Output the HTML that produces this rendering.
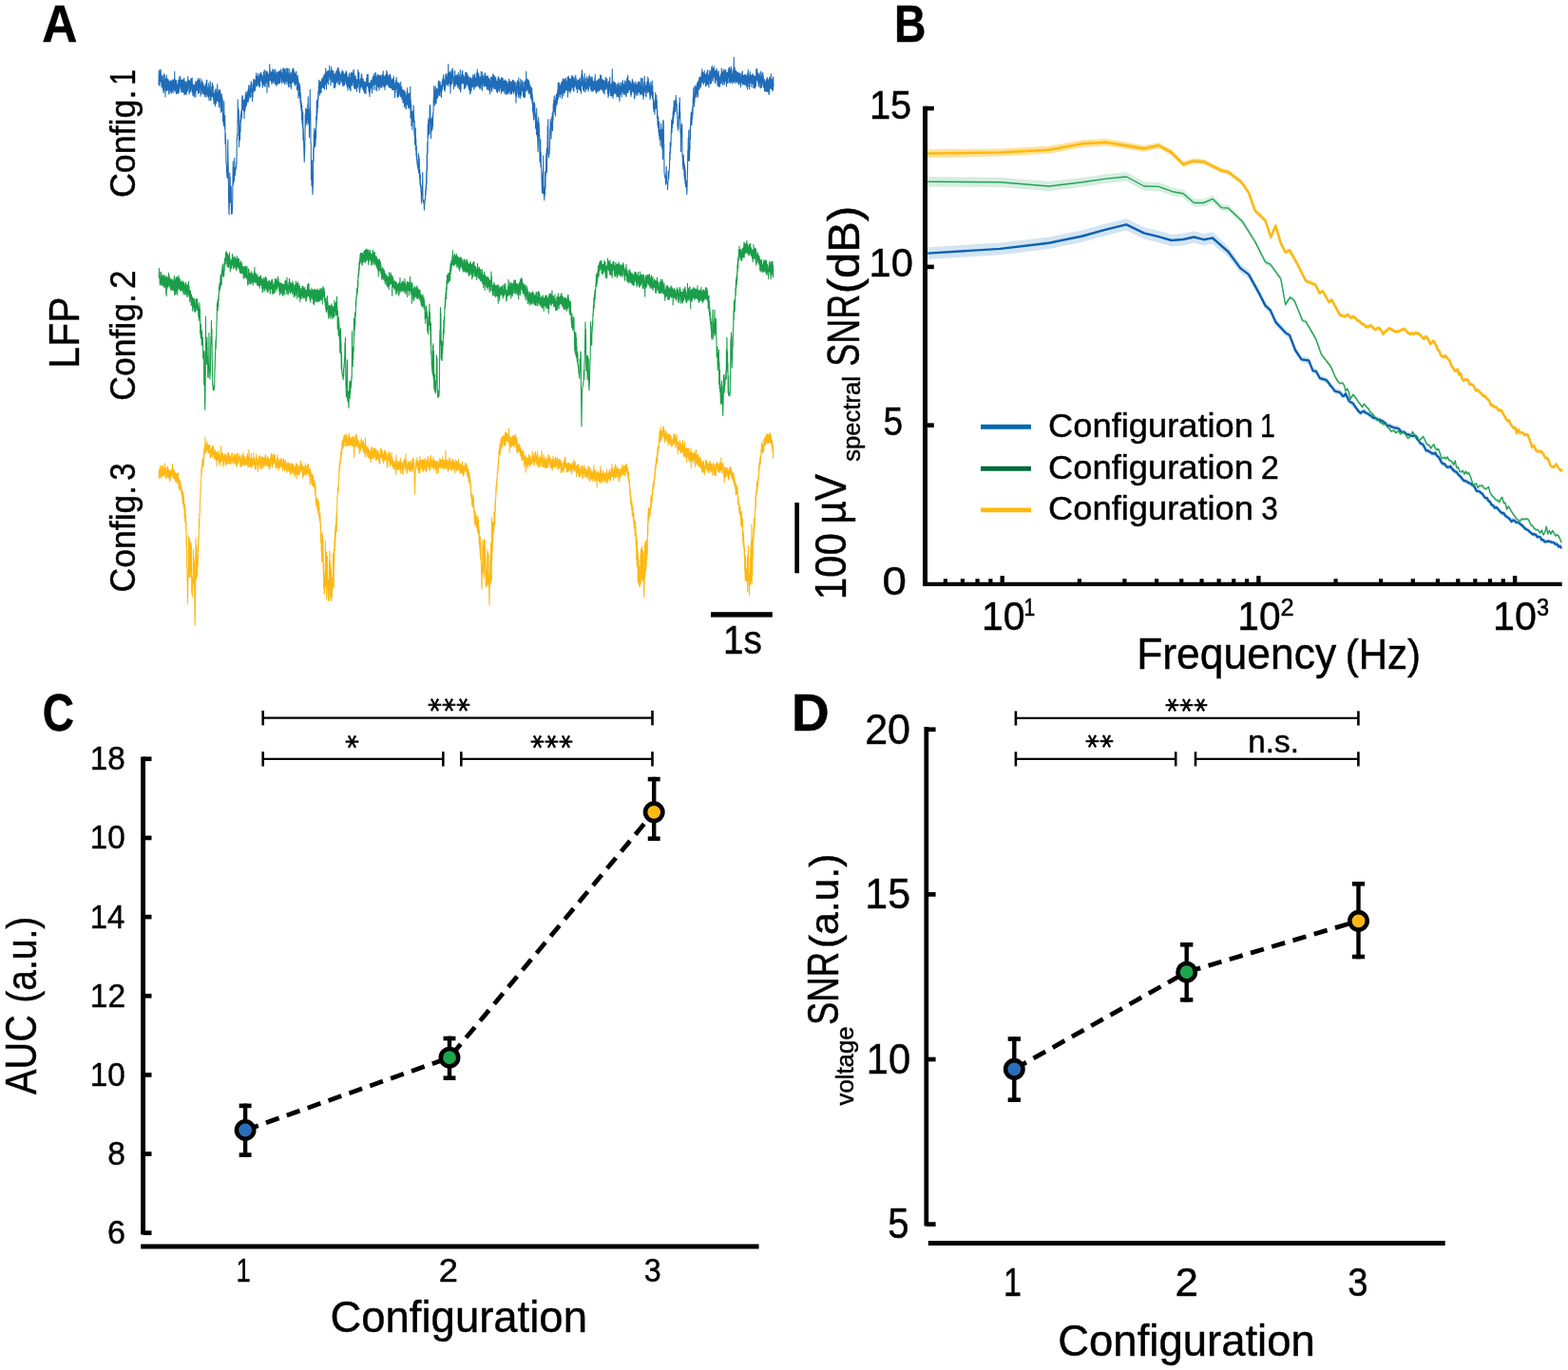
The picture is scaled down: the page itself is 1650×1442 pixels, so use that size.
<!DOCTYPE html>
<html lang="en">
<head>
<meta charset="utf-8">
<title>LFP configurations: traces, spectral SNR, AUC and voltage SNR</title>
<style>
html,body{margin:0;padding:0;background:#fff;}
body{width:1650px;height:1442px;overflow:hidden;}
svg{display:block;}
svg text{font-family:"Liberation Sans",sans-serif;fill:#000;stroke:#000;stroke-width:0.45px;}
svg text.b{font-weight:bold;}
svg text.dj{font-family:"DejaVu Sans","Liberation Sans",sans-serif;stroke-width:0.7px;}
</style>
</head>
<body>
<svg width="1650" height="1442" viewBox="0 0 1650 1442">
<rect x="0" y="0" width="1650" height="1442" fill="#ffffff"/>
<g id="panelA">
<text class="b" font-size="55.20" transform="translate(44.21,43.50) scale(0.9328,1)">A</text>
<text font-size="37.20" transform="translate(141.70,208.09) rotate(-90) scale(0.9625,1)">Config.</text>
<text font-size="36.30" transform="translate(141.70,89.41) rotate(-90) scale(0.8000,1)">1</text>
<text font-size="37.20" transform="translate(141.70,421.68) rotate(-90) scale(0.9554,1)">Config.</text>
<text font-size="36.30" transform="translate(141.70,303.95) rotate(-90) scale(0.9627,1)">2</text>
<text font-size="37.20" transform="translate(141.70,623.38) rotate(-90) scale(0.9554,1)">Config.</text>
<text font-size="36.30" transform="translate(141.70,505.83) rotate(-90) scale(0.9047,1)">3</text>
<text font-size="45.30" transform="translate(83.20,387.89) rotate(-90) scale(0.9077,1)">LFP</text>
<polyline fill="none" stroke="#1f6cb8" stroke-width="1.1" stroke-linejoin="round" points="167.00,89.3 167.25,73.7 167.50,89.9 167.75,80.3 168.00,89.5 168.25,77.1 168.50,83.8 168.75,73.8 169.00,85.9 169.25,73.3 169.50,84.7 169.75,79.2 170.00,92.0 170.25,80.8 170.50,89.9 170.75,81.7 171.00,91.1 171.25,79.4 171.50,94.5 171.75,84.7 172.00,97.7 172.25,85.2 172.50,96.2 172.75,77.5 173.00,87.9 173.25,78.8 173.50,92.9 173.75,83.8 174.00,101.9 174.25,83.2 174.50,90.8 174.75,81.7 175.00,95.0 175.25,79.1 175.50,95.4 175.75,85.3 176.00,94.4 176.25,83.9 176.50,94.5 176.75,82.7 177.00,94.1 177.25,84.4 177.50,97.8 177.75,85.9 178.00,99.2 178.25,86.9 178.50,94.4 178.75,85.7 179.00,91.9 179.25,85.5 179.50,96.2 179.75,84.2 180.00,97.8 180.25,85.6 180.50,98.0 180.75,86.7 181.00,97.5 181.25,85.3 181.50,95.7 181.75,83.9 182.00,94.5 182.25,84.4 182.50,93.3 182.75,85.1 183.00,97.8 183.25,83.8 183.50,93.8 183.75,75.4 184.00,94.3 184.25,86.0 184.50,95.9 184.75,84.0 185.00,95.3 185.25,84.6 185.50,98.8 185.75,84.9 186.00,97.3 186.25,89.2 186.50,97.6 186.75,91.0 187.00,98.5 187.25,87.9 187.50,98.3 187.75,84.4 188.00,96.0 188.25,85.6 188.50,97.1 188.75,81.3 189.00,90.4 189.25,80.0 189.50,91.3 189.75,81.5 190.00,93.5 190.25,86.6 190.50,95.0 190.75,84.3 191.00,97.1 191.25,86.1 191.50,95.0 191.75,83.8 192.00,96.7 192.25,84.3 192.50,94.2 192.75,87.5 193.00,97.2 193.25,83.3 193.50,95.1 193.75,82.1 194.00,99.7 194.25,85.4 194.50,99.2 194.75,88.7 195.00,92.5 195.25,85.8 195.50,98.2 195.75,87.1 196.00,99.8 196.25,87.4 196.50,97.5 196.75,86.4 197.00,94.1 197.25,84.8 197.50,95.4 197.75,80.6 198.00,91.6 198.25,84.0 198.50,91.5 198.75,84.5 199.00,99.1 199.25,85.4 199.50,98.0 199.75,85.2 200.00,95.2 200.25,84.6 200.50,93.0 200.75,82.7 201.00,96.7 201.25,82.8 201.50,93.4 201.75,82.8 202.00,90.3 202.25,82.2 202.50,97.4 202.75,88.1 203.00,100.7 203.25,92.6 203.50,100.1 203.75,89.4 204.00,99.8 204.25,90.4 204.50,102.1 204.75,89.9 205.00,94.1 205.25,88.5 205.50,96.7 205.75,85.6 206.00,101.9 206.25,87.2 206.50,95.2 206.75,87.6 207.00,94.8 207.25,85.0 207.50,94.4 207.75,85.0 208.00,95.5 208.25,82.5 208.50,98.4 208.75,84.4 209.00,97.5 209.25,86.4 209.50,97.5 209.75,83.9 210.00,92.5 210.25,82.3 210.50,92.2 210.75,85.8 211.00,101.3 211.25,91.2 211.50,99.0 211.75,88.5 212.00,94.1 212.25,83.8 212.50,95.5 212.75,85.9 213.00,98.6 213.25,89.5 213.50,96.3 213.75,87.0 214.00,98.8 214.25,89.7 214.50,98.8 214.75,90.8 215.00,99.2 215.25,92.8 215.50,101.5 215.75,90.5 216.00,99.4 216.25,88.4 216.50,99.6 216.75,89.0 217.00,102.3 217.25,84.4 217.50,93.4 217.75,84.4 218.00,98.9 218.25,90.9 218.50,101.2 218.75,94.0 219.00,100.1 219.25,93.4 219.50,102.6 219.75,87.5 220.00,105.7 220.25,91.1 220.50,98.4 220.75,90.8 221.00,100.2 221.25,85.6 221.50,105.3 221.75,95.8 222.00,105.7 222.25,95.5 222.50,100.9 222.75,91.3 223.00,101.6 223.25,87.0 223.50,95.2 223.75,88.6 224.00,101.8 224.25,90.5 224.50,104.3 224.75,98.4 225.00,109.5 225.25,98.1 225.50,107.7 225.75,98.5 226.00,104.8 226.25,95.3 226.50,111.7 226.75,93.9 227.00,106.3 227.25,93.9 227.50,108.5 227.75,98.6 228.00,106.3 228.25,97.2 228.50,104.6 228.75,88.6 229.00,106.0 229.25,97.2 229.50,106.4 229.75,97.5 230.00,107.4 230.25,94.6 230.50,112.9 230.75,100.2 231.00,107.2 231.25,95.3 231.50,105.9 231.75,94.9 232.00,113.1 232.25,101.0 232.50,118.3 232.75,98.7 233.00,113.6 233.25,99.0 233.50,116.7 233.75,102.1 234.00,116.9 234.25,104.5 234.50,127.5 234.75,119.6 235.00,129.4 235.25,125.8 235.50,132.4 235.75,106.6 236.00,126.6 236.25,127.2 236.50,135.3 236.75,121.8 237.00,151.3 237.25,140.3 237.50,148.0 237.75,154.7 238.00,171.7 238.25,171.3 238.50,179.5 238.75,183.7 239.00,186.8 239.25,176.8 239.50,187.5 239.75,147.0 240.00,167.1 240.25,177.4 240.50,205.5 240.75,216.6 241.00,226.0 241.25,218.1 241.50,211.7 241.75,182.1 242.00,189.8 242.25,186.8 242.50,213.1 242.75,205.1 243.00,211.3 243.25,196.3 243.50,225.3 243.75,215.0 244.00,221.5 244.25,225.0 244.50,218.2 244.75,209.9 245.00,187.2 245.25,169.9 245.50,194.2 245.75,176.1 246.00,190.9 246.25,179.6 246.50,190.7 246.75,166.4 247.00,180.4 247.25,177.8 247.50,184.2 247.75,176.8 248.00,179.0 248.25,177.0 248.50,175.5 248.75,171.0 249.00,172.6 249.25,145.3 249.50,146.6 249.75,141.1 250.00,142.7 250.25,104.7 250.50,129.2 250.75,113.4 251.00,129.1 251.25,115.9 251.50,154.5 251.75,132.9 252.00,147.9 252.25,139.3 252.50,147.5 252.75,126.6 253.00,139.0 253.25,120.5 253.50,128.6 253.75,117.4 254.00,125.5 254.25,115.3 254.50,123.1 254.75,101.1 255.00,114.3 255.25,100.7 255.50,115.2 255.75,104.9 256.00,114.7 256.25,107.1 256.50,117.0 256.75,105.5 257.00,124.5 257.25,108.6 257.50,117.3 257.75,103.5 258.00,115.9 258.25,98.7 258.50,112.3 258.75,96.8 259.00,106.0 259.25,99.5 259.50,111.0 259.75,100.4 260.00,106.7 260.25,96.4 260.50,105.8 260.75,95.7 261.00,107.8 261.25,93.6 261.50,105.5 261.75,89.8 262.00,104.1 262.25,90.2 262.50,101.1 262.75,93.9 263.00,100.0 263.25,93.8 263.50,102.8 263.75,88.9 264.00,96.1 264.25,85.6 264.50,94.9 264.75,87.2 265.00,101.6 265.25,93.3 265.50,106.6 265.75,92.7 266.00,102.7 266.25,88.3 266.50,96.1 266.75,83.9 267.00,96.7 267.25,83.4 267.50,94.6 267.75,84.4 268.00,95.4 268.25,85.5 268.50,95.0 268.75,84.7 269.00,91.8 269.25,80.2 269.50,87.4 269.75,76.9 270.00,89.3 270.25,79.5 270.50,90.5 270.75,80.8 271.00,87.5 271.25,80.5 271.50,88.0 271.75,77.6 272.00,89.5 272.25,82.8 272.50,90.9 272.75,81.1 273.00,91.3 273.25,78.5 273.50,91.3 273.75,77.4 274.00,85.3 274.25,76.7 274.50,84.2 274.75,76.6 275.00,83.4 275.25,80.3 275.50,86.4 275.75,79.0 276.00,89.6 276.25,81.1 276.50,91.9 276.75,82.0 277.00,88.2 277.25,75.7 277.50,89.3 277.75,79.1 278.00,87.4 278.25,73.5 278.50,90.4 278.75,79.8 279.00,91.2 279.25,81.3 279.50,87.7 279.75,74.8 280.00,85.4 280.25,75.1 280.50,84.6 280.75,76.7 281.00,97.5 281.25,75.5 281.50,85.8 281.75,77.0 282.00,86.9 282.25,79.0 282.50,90.9 282.75,78.5 283.00,91.8 283.25,77.0 283.50,82.8 283.75,67.5 284.00,84.5 284.25,73.8 284.50,84.6 284.75,75.3 285.00,83.7 285.25,76.9 285.50,86.5 285.75,76.0 286.00,88.5 286.25,77.6 286.50,82.8 286.75,72.9 287.00,85.4 287.25,75.3 287.50,87.1 287.75,75.0 288.00,82.6 288.25,73.1 288.50,84.6 288.75,76.8 289.00,87.5 289.25,78.7 289.50,88.1 289.75,73.4 290.00,88.6 290.25,75.7 290.50,89.0 290.75,78.5 291.00,90.4 291.25,79.5 291.50,85.9 291.75,75.8 292.00,88.5 292.25,76.3 292.50,87.9 292.75,79.9 293.00,86.8 293.25,75.5 293.50,87.6 293.75,74.9 294.00,84.6 294.25,75.2 294.50,87.4 294.75,75.8 295.00,81.8 295.25,73.7 295.50,80.6 295.75,72.9 296.00,85.8 296.25,75.7 296.50,87.6 296.75,79.4 297.00,86.7 297.25,76.9 297.50,84.8 297.75,72.0 298.00,83.4 298.25,71.7 298.50,86.5 298.75,78.1 299.00,84.5 299.25,72.8 299.50,88.4 299.75,75.5 300.00,83.8 300.25,72.9 300.50,85.2 300.75,76.8 301.00,88.2 301.25,79.6 301.50,85.6 301.75,71.5 302.00,82.3 302.25,72.5 302.50,85.8 302.75,72.4 303.00,88.7 303.25,78.4 303.50,91.3 303.75,77.3 304.00,81.6 304.25,72.4 304.50,87.4 304.75,79.1 305.00,91.8 305.25,80.5 305.50,86.8 305.75,76.4 306.00,87.5 306.25,77.8 306.50,93.3 306.75,82.2 307.00,85.7 307.25,75.0 307.50,86.9 307.75,72.9 308.00,83.8 308.25,73.7 308.50,86.0 308.75,71.8 309.00,84.6 309.25,73.9 309.50,87.9 309.75,76.9 310.00,86.8 310.25,80.2 310.50,90.3 310.75,77.5 311.00,87.9 311.25,75.7 311.50,88.1 311.75,75.2 312.00,86.8 312.25,80.1 312.50,94.8 312.75,83.2 313.00,93.9 313.25,79.4 313.50,91.4 313.75,83.3 314.00,103.2 314.25,86.2 314.50,100.4 314.75,93.0 315.00,99.8 315.25,88.2 315.50,102.9 315.75,90.7 316.00,108.1 316.25,97.6 316.50,112.8 316.75,105.3 317.00,116.3 317.25,108.0 317.50,126.1 317.75,111.1 318.00,130.3 318.25,116.5 318.50,134.8 318.75,118.5 319.00,147.4 319.25,135.2 319.50,144.1 319.75,155.1 320.00,163.1 320.25,170.5 320.50,163.1 320.75,155.2 321.00,142.9 321.25,119.9 321.50,132.7 321.75,113.8 322.00,129.3 322.25,115.6 322.50,127.1 322.75,115.3 323.00,131.3 323.25,115.3 323.50,125.9 323.75,110.2 324.00,115.9 324.25,101.8 324.50,129.4 324.75,114.6 325.00,131.1 325.25,127.3 325.50,144.5 325.75,120.4 326.00,123.3 326.25,94.2 326.50,124.8 326.75,116.5 327.00,150.0 327.25,151.0 327.50,188.5 327.75,184.2 328.00,195.5 328.25,168.7 328.50,190.3 328.75,197.7 329.00,204.5 329.25,197.7 329.50,190.1 329.75,155.5 330.00,170.2 330.25,140.8 330.50,154.7 330.75,135.0 331.00,152.2 331.25,137.5 331.50,154.8 331.75,144.2 332.00,152.4 332.25,135.9 332.50,145.8 332.75,122.4 333.00,130.9 333.25,105.8 333.50,125.7 333.75,111.7 334.00,119.0 334.25,104.4 334.50,113.0 334.75,96.7 335.00,104.0 335.25,90.9 335.50,96.8 335.75,84.3 336.00,97.5 336.25,85.3 336.50,99.9 336.75,86.4 337.00,96.0 337.25,86.4 337.50,97.5 337.75,87.7 338.00,97.6 338.25,84.6 338.50,92.4 338.75,82.4 339.00,91.8 339.25,83.9 339.50,91.6 339.75,85.3 340.00,91.9 340.25,80.0 340.50,92.6 340.75,81.6 341.00,92.6 341.25,78.7 341.50,94.0 341.75,78.0 342.00,86.3 342.25,80.3 342.50,89.1 342.75,71.8 343.00,85.9 343.25,76.0 343.50,93.8 343.75,78.3 344.00,86.7 344.25,75.3 344.50,84.1 344.75,74.7 345.00,87.1 345.25,76.8 345.50,88.7 345.75,74.3 346.00,84.2 346.25,74.4 346.50,79.7 346.75,69.0 347.00,80.5 347.25,76.0 347.50,84.3 347.75,78.9 348.00,90.1 348.25,74.1 348.50,82.6 348.75,70.5 349.00,79.8 349.25,73.9 349.50,86.8 349.75,75.5 350.00,85.5 350.25,74.5 350.50,86.3 350.75,74.8 351.00,85.9 351.25,78.5 351.50,92.6 351.75,79.4 352.00,89.2 352.25,77.1 352.50,92.0 352.75,78.8 353.00,90.9 353.25,81.7 353.50,87.3 353.75,75.1 354.00,86.7 354.25,75.9 354.50,82.9 354.75,73.9 355.00,85.5 355.25,71.5 355.50,87.6 355.75,77.0 356.00,89.0 356.25,71.8 356.50,83.0 356.75,75.2 357.00,84.1 357.25,75.5 357.50,89.2 357.75,77.3 358.00,87.7 358.25,79.3 358.50,83.1 358.75,80.6 359.00,84.3 359.25,76.7 359.50,86.3 359.75,75.5 360.00,85.7 360.25,74.0 360.50,89.8 360.75,82.6 361.00,90.7 361.25,75.5 361.50,86.8 361.75,79.7 362.00,88.9 362.25,78.3 362.50,89.4 362.75,79.5 363.00,88.1 363.25,77.2 363.50,85.0 363.75,76.2 364.00,85.1 364.25,74.8 364.50,88.2 364.75,75.9 365.00,90.2 365.25,78.7 365.50,92.0 365.75,81.2 366.00,95.1 366.25,81.5 366.50,90.8 366.75,84.9 367.00,88.6 367.25,78.5 367.50,92.8 367.75,76.9 368.00,88.3 368.25,82.0 368.50,94.7 368.75,85.8 369.00,95.6 369.25,77.0 369.50,90.1 369.75,76.5 370.00,90.0 370.25,76.4 370.50,88.4 370.75,79.9 371.00,90.0 371.25,77.6 371.50,86.5 371.75,74.0 372.00,86.0 372.25,73.3 372.50,91.6 372.75,77.4 373.00,93.2 373.25,80.4 373.50,89.7 373.75,81.3 374.00,93.8 374.25,79.9 374.50,92.8 374.75,83.1 375.00,92.0 375.25,85.4 375.50,96.3 375.75,84.6 376.00,92.1 376.25,83.3 376.50,91.6 376.75,73.5 377.00,87.5 377.25,78.7 377.50,86.0 377.75,76.0 378.00,94.7 378.25,85.1 378.50,97.4 378.75,89.8 379.00,94.3 379.25,83.2 379.50,91.7 379.75,82.2 380.00,91.6 380.25,77.9 380.50,90.7 380.75,78.9 381.00,90.3 381.25,82.6 381.50,93.3 381.75,84.0 382.00,91.6 382.25,83.4 382.50,95.3 382.75,85.7 383.00,95.0 383.25,86.0 383.50,98.0 383.75,89.2 384.00,97.6 384.25,86.0 384.50,97.0 384.75,88.1 385.00,98.4 385.25,87.2 385.50,92.5 385.75,82.3 386.00,90.6 386.25,78.6 386.50,90.5 386.75,81.1 387.00,89.8 387.25,78.4 387.50,92.1 387.75,86.9 388.00,95.8 388.25,90.1 388.50,97.9 388.75,87.6 389.00,101.5 389.25,87.3 389.50,96.5 389.75,87.1 390.00,91.7 390.25,84.5 390.50,92.4 390.75,85.1 391.00,93.1 391.25,86.0 391.50,98.0 391.75,83.5 392.00,93.8 392.25,80.8 392.50,89.6 392.75,81.0 393.00,89.8 393.25,78.1 393.50,87.6 393.75,83.3 394.00,94.6 394.25,80.7 394.50,88.1 394.75,76.8 395.00,88.4 395.25,76.6 395.50,86.3 395.75,79.5 396.00,94.5 396.25,85.9 396.50,95.5 396.75,81.1 397.00,90.6 397.25,78.3 397.50,88.1 397.75,79.3 398.00,91.6 398.25,79.1 398.50,92.6 398.75,80.3 399.00,94.9 399.25,79.6 399.50,90.5 399.75,80.0 400.00,89.6 400.25,83.2 400.50,91.9 400.75,79.0 401.00,92.2 401.25,82.4 401.50,91.7 401.75,81.3 402.00,91.6 402.25,78.9 402.50,89.3 402.75,77.9 403.00,87.5 403.25,74.8 403.50,90.3 403.75,79.9 404.00,91.5 404.25,80.1 404.50,89.3 404.75,80.8 405.00,94.5 405.25,81.8 405.50,90.5 405.75,79.1 406.00,89.1 406.25,78.3 406.50,89.2 406.75,74.2 407.00,88.1 407.25,75.5 407.50,86.8 407.75,78.6 408.00,89.7 408.25,78.7 408.50,88.5 408.75,80.9 409.00,91.3 409.25,83.2 409.50,91.2 409.75,79.2 410.00,92.4 410.25,78.3 410.50,88.1 410.75,78.4 411.00,92.3 411.25,81.2 411.50,91.3 411.75,83.8 412.00,92.5 412.25,84.1 412.50,94.3 412.75,85.1 413.00,91.0 413.25,82.8 413.50,94.4 413.75,84.2 414.00,94.4 414.25,80.0 414.50,92.8 414.75,84.4 415.00,94.4 415.25,90.1 415.50,102.4 415.75,88.2 416.00,97.5 416.25,86.8 416.50,94.2 416.75,83.8 417.00,92.7 417.25,81.5 417.50,93.5 417.75,86.1 418.00,101.2 418.25,90.9 418.50,102.8 418.75,87.5 419.00,100.3 419.25,86.9 419.50,101.4 419.75,88.1 420.00,98.1 420.25,87.7 420.50,97.3 420.75,90.0 421.00,100.2 421.25,89.8 421.50,101.7 421.75,86.2 422.00,101.7 422.25,95.2 422.50,101.9 422.75,91.9 423.00,104.5 423.25,94.5 423.50,104.1 423.75,96.1 424.00,107.7 424.25,94.9 424.50,104.5 424.75,94.8 425.00,108.4 425.25,99.7 425.50,112.8 425.75,95.7 426.00,110.3 426.25,96.7 426.50,110.3 426.75,98.7 427.00,114.4 427.25,100.8 427.50,114.2 427.75,104.7 428.00,110.3 428.25,95.9 428.50,106.4 428.75,92.6 429.00,109.7 429.25,98.6 429.50,112.3 429.75,103.0 430.00,114.2 430.25,98.5 430.50,112.6 430.75,98.3 431.00,113.1 431.25,101.1 431.50,110.6 431.75,91.3 432.00,124.0 432.25,105.5 432.50,123.4 432.75,110.2 433.00,132.4 433.25,119.3 433.50,129.7 433.75,117.5 434.00,136.8 434.25,119.9 434.50,127.8 434.75,116.2 435.00,120.8 435.25,111.0 435.50,128.2 435.75,122.7 436.00,142.2 436.25,127.4 436.50,152.1 436.75,134.3 437.00,150.8 437.25,135.1 437.50,158.1 437.75,145.7 438.00,163.8 438.25,153.5 438.50,167.8 438.75,169.8 439.00,171.8 439.25,173.8 439.50,175.9 439.75,175.2 440.00,178.1 440.25,161.2 440.50,181.9 440.75,163.5 441.00,174.7 441.25,167.1 441.50,187.8 441.75,178.3 442.00,194.3 442.25,183.4 442.50,197.1 442.75,194.2 443.00,199.9 443.25,204.3 443.50,214.0 443.75,205.3 444.00,205.6 444.25,195.3 444.50,201.2 444.75,181.5 445.00,211.3 445.25,210.4 445.50,213.3 445.75,210.8 446.00,214.1 446.25,214.1 446.50,221.0 446.75,214.1 447.00,213.5 447.25,209.3 447.50,210.4 447.75,199.9 448.00,205.2 448.25,194.9 448.50,199.4 448.75,179.8 449.00,193.7 449.25,162.4 449.50,179.2 449.75,149.7 450.00,161.2 450.25,130.3 450.50,144.4 450.75,125.8 451.00,139.6 451.25,129.3 451.50,141.4 451.75,123.3 452.00,130.2 452.25,110.8 452.50,127.2 452.75,110.7 453.00,140.6 453.25,127.3 453.50,145.4 453.75,125.3 454.00,138.6 454.25,124.2 454.50,135.7 454.75,126.2 455.00,136.5 455.25,121.2 455.50,133.1 455.75,118.0 456.00,119.2 456.25,103.4 456.50,106.8 456.75,90.6 457.00,107.7 457.25,95.1 457.50,111.0 457.75,98.6 458.00,109.0 458.25,90.9 458.50,108.9 458.75,97.6 459.00,108.7 459.25,93.1 459.50,104.4 459.75,94.2 460.00,103.3 460.25,94.6 460.50,102.6 460.75,93.3 461.00,101.6 461.25,86.4 461.50,96.4 461.75,84.7 462.00,98.9 462.25,90.7 462.50,100.4 462.75,86.0 463.00,94.1 463.25,86.7 463.50,96.8 463.75,90.7 464.00,101.3 464.25,90.2 464.50,102.4 464.75,89.9 465.00,94.0 465.25,85.5 465.50,94.8 465.75,83.4 466.00,91.1 466.25,81.4 466.50,89.6 466.75,78.6 467.00,90.1 467.25,87.5 467.50,94.4 467.75,84.0 468.00,96.2 468.25,86.4 468.50,93.7 468.75,79.8 469.00,90.4 469.25,77.6 469.50,88.5 469.75,78.0 470.00,87.6 470.25,80.5 470.50,88.6 470.75,80.3 471.00,89.2 471.25,77.6 471.50,90.4 471.75,67.5 472.00,88.3 472.25,76.4 472.50,87.2 472.75,76.2 473.00,87.3 473.25,76.9 473.50,90.6 473.75,75.4 474.00,98.1 474.25,78.8 474.50,83.7 474.75,77.4 475.00,89.0 475.25,73.9 475.50,87.7 475.75,74.3 476.00,80.9 476.25,71.7 476.50,82.2 476.75,74.9 477.00,87.3 477.25,82.0 477.50,93.5 477.75,82.0 478.00,90.7 478.25,80.4 478.50,89.1 478.75,74.6 479.00,90.7 479.25,79.2 479.50,83.8 479.75,83.8 480.00,88.5 480.25,79.8 480.50,87.8 480.75,78.8 481.00,89.0 481.25,80.9 481.50,91.8 481.75,79.2 482.00,90.2 482.25,76.6 482.50,88.7 482.75,80.7 483.00,92.9 483.25,84.6 483.50,93.7 483.75,78.9 484.00,90.8 484.25,73.5 484.50,96.7 484.75,82.6 485.00,94.7 485.25,81.8 485.50,88.6 485.75,78.2 486.00,84.6 486.25,74.9 486.50,87.1 486.75,74.6 487.00,88.0 487.25,81.9 487.50,86.4 487.75,79.0 488.00,87.6 488.25,81.0 488.50,93.5 488.75,84.5 489.00,92.0 489.25,80.2 489.50,87.9 489.75,76.0 490.00,92.3 490.25,76.3 490.50,88.2 490.75,77.0 491.00,88.6 491.25,76.7 491.50,88.8 491.75,78.0 492.00,89.8 492.25,80.1 492.50,86.5 492.75,80.1 493.00,92.1 493.25,80.7 493.50,94.2 493.75,83.0 494.00,93.3 494.25,83.4 494.50,98.4 494.75,81.3 495.00,98.8 495.25,84.0 495.50,93.9 495.75,82.2 496.00,95.6 496.25,85.2 496.50,90.7 496.75,83.6 497.00,91.7 497.25,81.0 497.50,90.7 497.75,78.8 498.00,86.0 498.25,81.2 498.50,93.1 498.75,82.1 499.00,94.2 499.25,78.2 499.50,88.8 499.75,77.7 500.00,90.9 500.25,82.7 500.50,91.1 500.75,83.8 501.00,91.4 501.25,81.0 501.50,90.1 501.75,76.2 502.00,89.5 502.25,73.1 502.50,88.1 502.75,76.1 503.00,90.4 503.25,79.5 503.50,89.4 503.75,77.8 504.00,91.3 504.25,80.4 504.50,92.8 504.75,82.6 505.00,93.1 505.25,82.7 505.50,93.0 505.75,80.3 506.00,89.2 506.25,75.3 506.50,86.9 506.75,82.3 507.00,94.2 507.25,80.8 507.50,95.2 507.75,75.9 508.00,87.2 508.25,79.3 508.50,87.8 508.75,81.8 509.00,90.4 509.25,83.8 509.50,91.1 509.75,79.3 510.00,90.0 510.25,77.1 510.50,84.7 510.75,77.1 511.00,90.6 511.25,81.0 511.50,91.0 511.75,80.2 512.00,89.2 512.25,80.5 512.50,94.1 512.75,81.9 513.00,93.0 513.25,79.5 513.50,91.8 513.75,82.7 514.00,94.6 514.25,82.3 514.50,90.9 514.75,85.1 515.00,95.2 515.25,82.9 515.50,98.7 515.75,85.2 516.00,96.2 516.25,85.7 516.50,91.3 516.75,81.1 517.00,91.4 517.25,81.3 517.50,96.2 517.75,83.6 518.00,93.7 518.25,80.8 518.50,91.6 518.75,77.9 519.00,90.1 519.25,83.8 519.50,91.9 519.75,79.2 520.00,93.7 520.25,79.8 520.50,93.0 520.75,83.0 521.00,88.5 521.25,81.3 521.50,93.4 521.75,81.8 522.00,90.8 522.25,86.6 522.50,96.2 522.75,85.5 523.00,96.3 523.25,87.7 523.50,97.4 523.75,83.2 524.00,95.6 524.25,80.6 524.50,94.2 524.75,81.4 525.00,93.9 525.25,82.9 525.50,96.5 525.75,83.8 526.00,94.2 526.25,85.0 526.50,92.1 526.75,84.4 527.00,92.3 527.25,81.9 527.50,98.3 527.75,85.0 528.00,96.5 528.25,81.8 528.50,93.8 528.75,82.6 529.00,95.8 529.25,82.7 529.50,95.5 529.75,85.0 530.00,93.9 530.25,85.1 530.50,96.4 530.75,85.0 531.00,98.7 531.25,90.7 531.50,93.4 531.75,83.8 532.00,92.7 532.25,85.4 532.50,99.1 532.75,88.7 533.00,98.5 533.25,85.6 533.50,99.0 533.75,87.2 534.00,96.4 534.25,89.9 534.50,98.2 534.75,87.9 535.00,93.5 535.25,85.5 535.50,95.8 535.75,83.1 536.00,99.0 536.25,86.6 536.50,95.6 536.75,85.3 537.00,96.2 537.25,87.1 537.50,98.1 537.75,86.2 538.00,99.2 538.25,86.2 538.50,98.3 538.75,91.7 539.00,95.6 539.25,84.5 539.50,94.1 539.75,84.2 540.00,96.8 540.25,86.3 540.50,98.5 540.75,84.9 541.00,94.9 541.25,87.3 541.50,95.1 541.75,88.0 542.00,97.1 542.25,86.4 542.50,100.1 542.75,92.3 543.00,108.2 543.25,91.2 543.50,101.5 543.75,87.6 544.00,95.1 544.25,85.6 544.50,94.5 544.75,88.2 545.00,99.1 545.25,84.3 545.50,102.1 545.75,81.8 546.00,97.5 546.25,86.3 546.50,99.5 546.75,91.6 547.00,102.9 547.25,91.3 547.50,103.2 547.75,83.2 548.00,99.6 548.25,88.5 548.50,100.1 548.75,88.3 549.00,95.7 549.25,84.6 549.50,93.9 549.75,86.1 550.00,95.5 550.25,86.6 550.50,101.8 550.75,92.9 551.00,101.7 551.25,92.5 551.50,99.8 551.75,86.3 552.00,102.9 552.25,88.1 552.50,101.7 552.75,85.1 553.00,96.4 553.25,83.9 553.50,94.1 553.75,75.4 554.00,95.6 554.25,86.5 554.50,94.2 554.75,83.8 555.00,93.5 555.25,83.4 555.50,93.9 555.75,84.3 556.00,97.7 556.25,84.7 556.50,96.1 556.75,85.5 557.00,98.6 557.25,88.5 557.50,97.6 557.75,89.6 558.00,99.6 558.25,95.5 558.50,102.9 558.75,91.5 559.00,104.2 559.25,92.2 559.50,105.0 559.75,93.4 560.00,108.2 560.25,99.4 560.50,116.5 560.75,103.9 561.00,119.2 561.25,116.1 561.50,126.1 561.75,108.5 562.00,120.4 562.25,107.6 562.50,122.3 562.75,109.6 563.00,125.3 563.25,118.9 563.50,134.9 563.75,123.0 564.00,133.0 564.25,121.3 564.50,141.7 564.75,114.0 565.00,131.9 565.25,126.5 565.50,145.0 565.75,128.6 566.00,159.4 566.25,154.2 566.50,147.4 566.75,123.6 567.00,143.3 567.25,129.9 567.50,142.3 567.75,142.3 568.00,170.3 568.25,162.0 568.50,166.3 568.75,146.9 569.00,175.4 569.25,160.7 569.50,174.7 569.75,178.1 570.00,188.4 570.25,195.1 570.50,203.0 570.75,196.3 571.00,190.8 571.25,180.9 571.50,203.8 571.75,163.7 572.00,202.4 572.25,197.1 572.50,203.9 572.75,210.7 573.00,203.9 573.25,196.8 573.50,204.7 573.75,180.7 574.00,198.0 574.25,180.2 574.50,184.1 574.75,161.8 575.00,171.6 575.25,156.5 575.50,181.1 575.75,164.3 576.00,154.8 576.25,133.1 576.50,158.4 576.75,125.8 577.00,161.5 577.25,162.9 577.50,165.7 577.75,163.7 578.00,161.7 578.25,159.6 578.50,155.1 578.75,135.9 579.00,138.1 579.25,125.4 579.50,141.1 579.75,135.9 580.00,146.1 580.25,129.1 580.50,136.3 580.75,122.9 581.00,134.3 581.25,118.8 581.50,137.6 581.75,117.3 582.00,127.0 582.25,109.5 582.50,115.1 582.75,105.0 583.00,116.4 583.25,100.9 583.50,117.5 583.75,106.0 584.00,120.0 584.25,107.7 584.50,122.2 584.75,103.0 585.00,113.5 585.25,100.2 585.50,106.9 585.75,98.7 586.00,110.0 586.25,98.4 586.50,108.1 586.75,94.9 587.00,104.8 587.25,87.3 587.50,103.6 587.75,87.4 588.00,98.8 588.25,86.8 588.50,96.4 588.75,89.8 589.00,101.6 589.25,92.8 589.50,102.3 589.75,89.6 590.00,98.7 590.25,87.7 590.50,98.9 590.75,87.6 591.00,96.3 591.25,85.7 591.50,103.4 591.75,86.0 592.00,97.9 592.25,82.9 592.50,96.1 592.75,83.3 593.00,100.7 593.25,87.7 593.50,97.6 593.75,84.6 594.00,96.7 594.25,83.1 594.50,97.3 594.75,86.5 595.00,94.7 595.25,82.2 595.50,93.1 595.75,87.6 596.00,95.0 596.25,86.6 596.50,95.0 596.75,84.6 597.00,92.8 597.25,81.1 597.50,102.3 597.75,84.1 598.00,96.9 598.25,80.0 598.50,94.4 598.75,82.3 599.00,95.3 599.25,82.8 599.50,95.4 599.75,84.0 600.00,98.0 600.25,83.2 600.50,96.0 600.75,83.1 601.00,94.8 601.25,81.5 601.50,92.4 601.75,79.8 602.00,88.2 602.25,79.9 602.50,91.3 602.75,80.2 603.00,93.5 603.25,85.5 603.50,95.9 603.75,82.6 604.00,95.8 604.25,81.3 604.50,89.0 604.75,84.8 605.00,91.4 605.25,84.4 605.50,89.4 605.75,79.0 606.00,89.5 606.25,82.5 606.50,93.3 606.75,85.7 607.00,93.7 607.25,86.3 607.50,97.4 607.75,84.0 608.00,93.3 608.25,84.6 608.50,92.4 608.75,84.6 609.00,93.7 609.25,85.2 609.50,93.5 609.75,82.4 610.00,94.6 610.25,82.7 610.50,95.5 610.75,89.3 611.00,95.7 611.25,86.2 611.50,98.3 611.75,79.0 612.00,89.9 612.25,73.7 612.50,86.6 612.75,74.6 613.00,90.3 613.25,80.3 613.50,94.2 613.75,85.4 614.00,92.6 614.25,89.0 614.50,96.0 614.75,81.9 615.00,92.5 615.25,77.5 615.50,92.0 615.75,82.8 616.00,96.9 616.25,87.1 616.50,93.2 616.75,87.1 617.00,93.9 617.25,81.9 617.50,93.8 617.75,80.5 618.00,92.0 618.25,83.5 618.50,90.8 618.75,83.2 619.00,96.1 619.25,83.6 619.50,94.3 619.75,80.4 620.00,91.4 620.25,78.7 620.50,86.4 620.75,81.4 621.00,89.9 621.25,81.2 621.50,93.7 621.75,82.8 622.00,94.9 622.25,83.4 622.50,93.2 622.75,80.9 623.00,96.6 623.25,81.3 623.50,94.0 623.75,85.3 624.00,95.1 624.25,87.9 624.50,95.8 624.75,85.6 625.00,93.5 625.25,85.4 625.50,94.2 625.75,82.9 626.00,94.4 626.25,78.5 626.50,92.3 626.75,87.1 627.00,96.4 627.25,86.9 627.50,98.1 627.75,85.3 628.00,96.2 628.25,84.8 628.50,90.8 628.75,86.6 629.00,96.7 629.25,84.5 629.50,94.7 629.75,83.0 630.00,93.5 630.25,85.2 630.50,95.7 630.75,83.8 631.00,89.3 631.25,82.0 631.50,94.1 631.75,78.9 632.00,94.2 632.25,79.8 632.50,93.4 632.75,79.5 633.00,93.0 633.25,83.6 633.50,93.8 633.75,86.2 634.00,95.4 634.25,83.7 634.50,95.6 634.75,86.1 635.00,97.4 635.25,84.3 635.50,93.0 635.75,86.3 636.00,99.2 636.25,85.6 636.50,94.0 636.75,85.8 637.00,93.7 637.25,81.3 637.50,93.1 637.75,84.1 638.00,94.2 638.25,83.0 638.50,90.9 638.75,82.8 639.00,91.6 639.25,88.4 639.50,98.8 639.75,88.8 640.00,102.4 640.25,85.9 640.50,100.4 640.75,88.8 641.00,97.5 641.25,85.1 641.50,94.0 641.75,81.2 642.00,94.8 642.25,88.2 642.50,101.0 642.75,89.2 643.00,97.5 643.25,91.7 643.50,100.6 643.75,87.1 644.00,101.1 644.25,72.8 644.50,100.1 644.75,87.0 645.00,103.4 645.25,92.8 645.50,100.0 645.75,85.6 646.00,98.2 646.25,86.1 646.50,94.0 646.75,89.2 647.00,97.6 647.25,87.4 647.50,98.5 647.75,87.5 648.00,96.1 648.25,89.1 648.50,99.0 648.75,91.8 649.00,102.0 649.25,92.2 649.50,99.6 649.75,88.5 650.00,101.2 650.25,91.1 650.50,101.5 650.75,86.8 651.00,97.7 651.25,89.6 651.50,103.0 651.75,94.5 652.00,106.4 652.25,89.7 652.50,97.8 652.75,87.0 653.00,99.3 653.25,91.4 653.50,97.4 653.75,91.6 654.00,102.1 654.25,87.3 654.50,97.0 654.75,86.7 655.00,96.7 655.25,84.4 655.50,96.5 655.75,89.7 656.00,99.1 656.25,89.4 656.50,95.5 656.75,88.2 657.00,99.8 657.25,86.2 657.50,98.1 657.75,84.8 658.00,92.1 658.25,85.5 658.50,100.3 658.75,89.3 659.00,101.8 659.25,88.8 659.50,97.9 659.75,82.1 660.00,97.7 660.25,87.6 660.50,95.5 660.75,79.2 661.00,97.3 661.25,85.3 661.50,93.5 661.75,84.8 662.00,94.7 662.25,86.5 662.50,94.4 662.75,85.3 663.00,94.2 663.25,86.1 663.50,98.4 663.75,88.3 664.00,101.5 664.25,88.7 664.50,99.5 664.75,87.4 665.00,96.8 665.25,83.4 665.50,95.7 665.75,84.6 666.00,95.9 666.25,85.7 666.50,94.6 666.75,88.6 667.00,98.0 667.25,87.5 667.50,103.9 667.75,89.5 668.00,102.4 668.25,90.3 668.50,97.0 668.75,85.7 669.00,97.2 669.25,88.5 669.50,99.9 669.75,88.3 670.00,97.9 670.25,89.4 670.50,97.6 670.75,89.4 671.00,100.5 671.25,86.2 671.50,96.7 671.75,87.5 672.00,96.7 672.25,86.2 672.50,95.4 672.75,86.2 673.00,97.4 673.25,88.5 673.50,99.8 673.75,88.6 674.00,93.2 674.25,82.2 674.50,98.7 674.75,90.2 675.00,98.9 675.25,92.9 675.50,98.9 675.75,82.3 676.00,96.1 676.25,82.8 676.50,100.4 676.75,95.3 677.00,104.4 677.25,92.3 677.50,101.3 677.75,87.1 678.00,96.1 678.25,80.2 678.50,92.6 678.75,86.0 679.00,97.4 679.25,90.1 679.50,100.4 679.75,90.2 680.00,102.2 680.25,90.3 680.50,95.0 680.75,86.5 681.00,95.3 681.25,85.8 681.50,97.5 681.75,81.1 682.00,96.8 682.25,83.1 682.50,94.5 682.75,86.2 683.00,96.7 683.25,88.2 683.50,99.4 683.75,91.2 684.00,104.6 684.25,93.7 684.50,102.8 684.75,86.5 685.00,98.7 685.25,91.8 685.50,99.0 685.75,89.9 686.00,100.8 686.25,85.1 686.50,102.6 686.75,90.5 687.00,105.0 687.25,97.0 687.50,113.4 687.75,104.5 688.00,117.3 688.25,110.2 688.50,116.8 688.75,108.1 689.00,120.3 689.25,105.8 689.50,114.5 689.75,97.6 690.00,109.6 690.25,102.2 690.50,113.8 690.75,100.4 691.00,114.7 691.25,105.2 691.50,124.2 691.75,115.8 692.00,131.4 692.25,128.6 692.50,134.1 692.75,122.9 693.00,138.9 693.25,133.3 693.50,142.8 693.75,128.2 694.00,146.3 694.25,143.5 694.50,147.3 694.75,136.6 695.00,153.3 695.25,136.6 695.50,146.6 695.75,130.4 696.00,137.2 696.25,137.1 696.50,155.2 696.75,136.2 697.00,155.7 697.25,158.6 697.50,167.5 697.75,126.6 698.00,145.8 698.25,127.2 698.50,151.0 698.75,151.4 699.00,181.7 699.25,183.4 699.50,185.0 699.75,186.4 700.00,187.5 700.25,186.8 700.50,194.0 700.75,187.4 701.00,181.2 701.25,175.0 701.50,192.1 701.75,192.6 702.00,192.9 702.25,193.0 702.50,199.4 702.75,191.9 703.00,192.3 703.25,180.3 703.50,188.8 703.75,186.0 704.00,182.5 704.25,179.0 704.50,175.5 704.75,160.3 705.00,168.5 705.25,149.8 705.50,161.3 705.75,152.7 706.00,154.1 706.25,140.8 706.50,135.0 706.75,126.4 707.00,139.7 707.25,126.0 707.50,134.4 707.75,123.2 708.00,123.4 708.25,117.2 708.50,129.9 708.75,112.8 709.00,123.4 709.25,105.5 709.50,120.6 709.75,109.4 710.00,118.1 710.25,107.1 710.50,117.8 710.75,106.1 711.00,111.0 711.25,100.4 711.50,111.2 711.75,105.0 712.00,116.9 712.25,109.6 712.50,120.3 712.75,118.2 713.00,133.3 713.25,127.5 713.50,137.1 713.75,132.4 714.00,135.2 714.25,122.3 714.50,123.9 714.75,108.2 715.00,124.5 715.25,102.8 715.50,125.2 715.75,117.4 716.00,140.1 716.25,135.6 716.50,159.6 716.75,137.0 717.00,143.8 717.25,130.2 717.50,140.8 717.75,131.6 718.00,162.0 718.25,166.8 718.50,174.4 718.75,174.1 719.00,178.1 719.25,163.0 719.50,175.7 719.75,170.5 720.00,185.6 720.25,172.9 720.50,189.3 720.75,175.6 721.00,193.0 721.25,179.2 721.50,196.4 721.75,190.9 722.00,193.6 722.25,190.2 722.50,197.4 722.75,204.5 723.00,197.4 723.25,189.8 723.50,181.3 723.75,158.7 724.00,162.8 724.25,145.1 724.50,169.1 724.75,137.1 725.00,169.3 725.25,159.4 725.50,168.9 725.75,157.4 726.00,157.7 726.25,133.9 726.50,146.6 726.75,126.0 727.00,124.6 727.25,118.5 727.50,131.6 727.75,123.8 728.00,131.2 728.25,115.9 728.50,125.1 728.75,111.9 729.00,120.8 729.25,103.1 729.50,109.3 729.75,92.4 730.00,109.2 730.25,98.4 730.50,112.2 730.75,98.5 731.00,107.2 731.25,90.0 731.50,102.4 731.75,91.8 732.00,98.8 732.25,91.4 732.50,99.9 732.75,93.5 733.00,102.7 733.25,88.7 733.50,98.6 733.75,87.1 734.00,97.6 734.25,87.7 734.50,101.7 734.75,85.2 735.00,93.2 735.25,85.6 735.50,90.5 735.75,81.9 736.00,94.2 736.25,83.6 736.50,91.8 736.75,80.8 737.00,88.6 737.25,82.8 737.50,91.6 737.75,81.2 738.00,88.6 738.25,76.9 738.50,85.9 738.75,72.9 739.00,86.2 739.25,76.8 739.50,86.4 739.75,76.1 740.00,87.2 740.25,78.5 740.50,88.8 740.75,76.7 741.00,86.3 741.25,74.3 741.50,84.8 741.75,77.7 742.00,86.8 742.25,80.4 742.50,90.5 742.75,78.4 743.00,90.7 743.25,78.2 743.50,88.4 743.75,76.4 744.00,87.1 744.25,74.4 744.50,88.9 744.75,73.7 745.00,87.7 745.25,78.7 745.50,89.1 745.75,79.8 746.00,91.9 746.25,79.1 746.50,84.1 746.75,74.1 747.00,84.3 747.25,75.7 747.50,88.2 747.75,77.3 748.00,87.3 748.25,74.3 748.50,87.6 748.75,71.1 749.00,81.7 749.25,69.3 749.50,80.5 749.75,71.3 750.00,85.0 750.25,72.4 750.50,85.1 750.75,72.5 751.00,81.3 751.25,69.9 751.50,80.9 751.75,72.7 752.00,80.5 752.25,76.7 752.50,87.6 752.75,74.7 753.00,86.8 753.25,75.0 753.50,84.1 753.75,73.6 754.00,83.2 754.25,72.3 754.50,84.0 754.75,75.1 755.00,89.8 755.25,76.7 755.50,87.7 755.75,79.5 756.00,91.2 756.25,74.9 756.50,87.2 756.75,81.4 757.00,90.3 757.25,82.0 757.50,91.3 757.75,80.2 758.00,87.8 758.25,78.7 758.50,87.4 758.75,77.5 759.00,88.0 759.25,71.9 759.50,81.3 759.75,74.0 760.00,84.7 760.25,81.1 760.50,88.4 760.75,75.9 761.00,89.6 761.25,76.8 761.50,85.5 761.75,72.9 762.00,84.5 762.25,77.1 762.50,88.5 762.75,74.7 763.00,85.8 763.25,73.7 763.50,85.4 763.75,73.5 764.00,85.1 764.25,76.4 764.50,91.0 764.75,77.7 765.00,85.1 765.25,76.6 765.50,87.0 765.75,77.0 766.00,87.7 766.25,74.5 766.50,81.7 766.75,72.2 767.00,79.1 767.25,70.7 767.50,86.4 767.75,71.5 768.00,85.1 768.25,76.8 768.50,87.1 768.75,73.6 769.00,85.2 769.25,70.0 769.50,82.3 769.75,72.3 770.00,87.3 770.25,79.5 770.50,88.0 770.75,78.1 771.00,85.4 771.25,75.0 771.50,84.1 771.75,72.8 772.00,86.5 772.25,60.4 772.50,81.8 772.75,74.1 773.00,87.3 773.25,71.0 773.50,84.9 773.75,74.0 774.00,83.9 774.25,76.0 774.50,87.3 774.75,74.8 775.00,85.3 775.25,76.1 775.50,86.1 775.75,77.8 776.00,86.0 776.25,75.8 776.50,86.2 776.75,76.2 777.00,88.2 777.25,77.3 777.50,87.5 777.75,80.0 778.00,89.1 778.25,76.7 778.50,86.4 778.75,79.4 779.00,86.6 779.25,77.9 779.50,91.7 779.75,80.1 780.00,87.0 780.25,80.0 780.50,86.9 780.75,76.3 781.00,82.8 781.25,74.8 781.50,89.3 781.75,80.0 782.00,87.4 782.25,79.6 782.50,88.6 782.75,79.3 783.00,88.4 783.25,78.8 783.50,86.6 783.75,79.0 784.00,89.6 784.25,80.6 784.50,88.6 784.75,78.2 785.00,87.4 785.25,80.1 785.50,90.9 785.75,81.5 786.00,90.4 786.25,79.3 786.50,94.1 786.75,76.8 787.00,84.4 787.25,73.6 787.50,87.4 787.75,80.7 788.00,91.1 788.25,81.1 788.50,93.5 788.75,77.7 789.00,90.9 789.25,75.6 789.50,87.3 789.75,80.0 790.00,87.0 790.25,79.3 790.50,87.1 790.75,80.0 791.00,91.5 791.25,78.9 791.50,88.2 791.75,79.6 792.00,86.6 792.25,77.7 792.50,87.7 792.75,81.6 793.00,92.4 793.25,79.8 793.50,92.3 793.75,80.4 794.00,92.7 794.25,82.3 794.50,92.8 794.75,80.0 795.00,90.3 795.25,80.2 795.50,90.5 795.75,72.7 796.00,85.4 796.25,74.5 796.50,83.1 796.75,72.6 797.00,83.6 797.25,76.4 797.50,85.7 797.75,79.4 798.00,88.5 798.25,78.2 798.50,90.9 798.75,81.8 799.00,87.1 799.25,76.9 799.50,85.5 799.75,81.0 800.00,92.4 800.25,82.4 800.50,92.8 800.75,75.0 801.00,91.6 801.25,82.2 801.50,91.6 801.75,79.7 802.00,87.5 802.25,76.9 802.50,87.1 802.75,76.9 803.00,90.1 803.25,80.1 803.50,92.1 803.75,83.8 804.00,91.9 804.25,83.5 804.50,95.8 804.75,84.9 805.00,96.3 805.25,86.3 805.50,95.6 805.75,88.2 806.00,94.7 806.25,83.9 806.50,95.6 806.75,85.3 807.00,96.5 807.25,81.2 807.50,95.7 807.75,85.9 808.00,96.2 808.25,83.6 808.50,94.4 808.75,84.5 809.00,99.1 809.25,88.7 809.50,99.2 809.75,81.1 810.00,92.6 810.25,82.0 810.50,92.8 810.75,84.3 811.00,93.7 811.25,77.8 811.50,91.6 811.75,83.0 812.00,93.0 812.25,83.7 812.50,94.1 812.75,83.7 813.00,95.9 813.25,81.7 813.50,94.4 813.75,80.8 814.00,90.9"/>
<polyline fill="none" stroke="#1a9e49" stroke-width="1.1" stroke-linejoin="round" points="167.20,292.4 167.45,282.6 167.70,292.5 167.95,286.4 168.20,299.2 168.45,292.8 168.70,299.9 168.95,292.0 169.20,297.8 169.45,286.4 169.70,298.4 169.95,288.0 170.20,300.4 170.45,290.8 170.70,297.6 170.95,292.4 171.20,300.3 171.45,289.9 171.70,297.6 171.95,292.4 172.20,300.6 172.45,289.7 172.70,302.8 172.95,292.0 173.20,302.1 173.45,294.7 173.70,301.2 173.95,289.9 174.20,300.2 174.45,292.2 174.70,309.6 174.95,291.9 175.20,311.6 175.45,291.2 175.70,304.7 175.95,294.5 176.20,298.2 176.45,293.3 176.70,302.1 176.95,290.7 177.20,301.9 177.45,287.2 177.70,299.6 177.95,289.4 178.20,299.2 178.45,292.5 178.70,301.2 178.95,292.5 179.20,303.5 179.45,294.7 179.70,305.2 179.95,294.3 180.20,304.1 180.45,294.0 180.70,305.2 180.95,295.4 181.20,304.3 181.45,297.4 181.70,304.1 181.95,293.8 182.20,305.7 182.45,296.3 182.70,305.6 182.95,296.9 183.20,302.9 183.45,290.4 183.70,310.7 183.95,292.5 184.20,305.5 184.45,300.7 184.70,309.5 184.95,294.8 185.20,309.1 185.45,291.8 185.70,303.6 185.95,295.8 186.20,306.3 186.45,291.6 186.70,310.5 186.95,300.8 187.20,304.9 187.45,292.4 187.70,302.7 187.95,289.9 188.20,301.8 188.45,295.7 188.70,304.4 188.95,293.1 189.20,303.9 189.45,294.6 189.70,306.1 189.95,296.2 190.20,305.6 190.45,296.5 190.70,305.1 190.95,297.0 191.20,302.9 191.45,296.9 191.70,306.1 191.95,295.3 192.20,306.0 192.45,297.2 192.70,307.9 192.95,302.9 193.20,310.1 193.45,297.1 193.70,305.0 193.95,298.6 194.20,304.2 194.45,300.5 194.70,309.9 194.95,302.9 195.20,309.9 195.45,297.2 195.70,306.3 195.95,298.7 196.20,309.0 196.45,300.9 196.70,311.6 196.95,303.1 197.20,312.7 197.45,299.8 197.70,308.3 197.95,300.3 198.20,306.5 198.45,296.3 198.70,310.9 198.95,301.0 199.20,312.2 199.45,306.5 199.70,317.5 199.95,305.5 200.20,313.4 200.45,306.2 200.70,314.7 200.95,309.8 201.20,321.6 201.45,309.8 201.70,320.5 201.95,312.9 202.20,320.8 202.45,312.7 202.70,327.4 202.95,319.1 203.20,325.3 203.45,314.3 203.70,323.0 203.95,313.8 204.20,322.7 204.45,314.6 204.70,327.4 204.95,320.7 205.20,328.4 205.45,319.4 205.70,327.7 205.95,315.6 206.20,326.8 206.45,315.8 206.70,323.8 206.95,314.3 207.20,321.8 207.45,314.3 207.70,326.5 207.95,318.3 208.20,325.4 208.45,321.4 208.70,333.1 208.95,323.8 209.20,337.3 209.45,325.1 209.70,327.7 209.95,318.9 210.20,334.3 210.45,325.6 210.70,351.6 210.95,342.4 211.20,356.0 211.45,341.6 211.70,352.0 211.95,347.9 212.20,363.5 212.45,348.1 212.70,355.1 212.95,355.1 213.20,362.5 213.45,355.5 213.70,377.0 213.95,373.4 214.20,378.3 214.45,370.1 214.70,405.1 214.95,369.8 215.20,401.8 215.45,416.7 215.70,431.3 215.95,416.7 216.20,401.8 216.45,333.2 216.70,372.9 216.95,378.6 217.20,383.4 217.45,360.6 217.70,380.9 217.95,354.7 218.20,372.6 218.45,376.2 218.70,397.3 218.95,389.5 219.20,397.1 219.45,380.9 219.70,385.5 219.95,350.4 220.20,387.0 220.45,387.1 220.70,393.3 220.95,399.0 221.20,393.8 221.45,389.1 221.70,366.1 221.95,354.3 222.20,358.5 222.45,337.6 222.70,362.2 222.95,346.4 223.20,374.8 223.45,385.0 223.70,406.1 223.95,403.7 224.20,410.1 224.45,407.2 224.70,410.7 224.95,409.3 225.20,410.8 225.45,406.4 225.70,408.1 225.95,389.9 226.20,388.7 226.45,374.7 226.70,369.6 226.95,358.4 227.20,367.0 227.45,354.3 227.70,353.7 227.95,341.6 228.20,335.1 228.45,319.2 228.70,326.8 228.95,316.5 229.20,326.4 229.45,315.4 229.70,322.7 229.95,310.8 230.20,315.7 230.45,302.0 230.70,307.5 230.95,298.5 231.20,305.2 231.45,297.4 231.70,304.0 231.95,290.6 232.20,296.8 232.45,288.9 232.70,300.8 232.95,290.1 233.20,299.3 233.45,284.3 233.70,289.3 233.95,280.1 234.20,289.3 234.45,278.3 234.70,290.1 234.95,283.8 235.20,291.4 235.45,284.1 235.70,290.6 235.95,276.6 236.20,284.4 236.45,272.1 236.70,278.9 236.95,272.2 237.20,277.6 237.45,266.6 237.70,270.9 237.95,264.5 238.20,273.4 238.45,265.1 238.70,278.0 238.95,268.0 239.20,280.8 239.45,267.0 239.70,277.4 239.95,268.6 240.20,280.5 240.45,274.2 240.70,281.6 240.95,269.1 241.20,274.2 241.45,265.8 241.70,277.8 241.95,271.3 242.20,286.0 242.45,275.3 242.70,281.4 242.95,275.0 243.20,280.3 243.45,273.4 243.70,283.0 243.95,274.8 244.20,279.1 244.45,267.4 244.70,278.7 244.95,269.1 245.20,279.4 245.45,275.5 245.70,282.7 245.95,271.8 246.20,282.8 246.45,270.9 246.70,279.8 246.95,271.8 247.20,279.9 247.45,270.6 247.70,281.7 247.95,272.4 248.20,280.5 248.45,276.1 248.70,284.6 248.95,272.8 249.20,283.7 249.45,269.5 249.70,280.4 249.95,272.6 250.20,280.8 250.45,272.7 250.70,281.4 250.95,272.1 251.20,281.8 251.45,272.6 251.70,283.4 251.95,275.2 252.20,286.3 252.45,278.0 252.70,286.8 252.95,277.4 253.20,287.4 253.45,274.8 253.70,287.9 253.95,279.6 254.20,287.2 254.45,276.7 254.70,285.6 254.95,281.0 255.20,287.6 255.45,280.3 255.70,288.0 255.95,280.7 256.20,293.3 256.45,284.4 256.70,291.1 256.95,281.8 257.20,288.6 257.45,280.4 257.70,292.4 257.95,280.2 258.20,290.4 258.45,280.9 258.70,291.8 258.95,281.0 259.20,291.0 259.45,284.5 259.70,292.8 259.95,280.2 260.20,294.4 260.45,290.1 260.70,300.2 260.95,290.4 261.20,299.4 261.45,283.1 261.70,295.0 261.95,283.4 262.20,294.6 262.45,287.8 262.70,298.5 262.95,287.4 263.20,298.2 263.45,289.3 263.70,294.9 263.95,288.4 264.20,299.0 264.45,285.8 264.70,295.6 264.95,286.7 265.20,295.0 265.45,288.1 265.70,297.7 265.95,292.0 266.20,300.1 266.45,289.9 266.70,296.8 266.95,287.8 267.20,297.1 267.45,285.8 267.70,292.7 267.95,281.6 268.20,296.1 268.45,287.2 268.70,297.5 268.95,288.9 269.20,297.3 269.45,287.7 269.70,296.1 269.95,290.5 270.20,298.5 270.45,290.3 270.70,300.2 270.95,288.9 271.20,297.0 271.45,292.2 271.70,300.4 271.95,292.1 272.20,300.4 272.45,292.7 272.70,300.7 272.95,291.0 273.20,303.2 273.45,292.9 273.70,300.6 273.95,291.3 274.20,299.9 274.45,289.9 274.70,299.8 274.95,292.6 275.20,298.5 275.45,294.0 275.70,303.5 275.95,293.5 276.20,307.8 276.45,295.2 276.70,306.8 276.95,296.5 277.20,303.3 277.45,292.8 277.70,299.1 277.95,292.2 278.20,305.3 278.45,296.0 278.70,306.2 278.95,294.0 279.20,300.2 279.45,291.2 279.70,302.9 279.95,296.3 280.20,304.3 280.45,292.9 280.70,305.0 280.95,296.3 281.20,307.6 281.45,298.7 281.70,307.2 281.95,296.9 282.20,306.8 282.45,296.7 282.70,303.3 282.95,295.3 283.20,303.6 283.45,295.2 283.70,305.1 283.95,297.9 284.20,309.1 284.45,301.0 284.70,308.6 284.95,296.2 285.20,303.2 285.45,295.8 285.70,303.9 285.95,294.2 286.20,300.8 286.45,294.1 286.70,309.2 286.95,296.4 287.20,309.5 287.45,299.8 287.70,307.5 287.95,300.0 288.20,304.6 288.45,299.0 288.70,308.5 288.95,297.4 289.20,308.3 289.45,293.3 289.70,302.6 289.95,294.6 290.20,300.7 290.45,294.9 290.70,305.9 290.95,293.6 291.20,302.4 291.45,297.0 291.70,304.1 291.95,295.8 292.20,301.9 292.45,291.1 292.70,299.2 292.95,293.2 293.20,301.3 293.45,296.2 293.70,306.3 293.95,298.9 294.20,310.5 294.45,299.7 294.70,307.7 294.95,297.3 295.20,305.3 295.45,300.7 295.70,308.9 295.95,298.6 296.20,307.2 296.45,299.3 296.70,307.8 296.95,298.2 297.20,311.0 297.45,299.7 297.70,311.3 297.95,300.6 298.20,309.4 298.45,299.4 298.70,307.2 298.95,300.4 299.20,310.3 299.45,299.4 299.70,305.3 299.95,296.1 300.20,301.4 300.45,295.0 300.70,303.5 300.95,297.5 301.20,309.5 301.45,295.7 301.70,304.1 301.95,292.0 302.20,305.3 302.45,299.0 302.70,308.9 302.95,300.2 303.20,310.3 303.45,301.8 303.70,307.8 303.95,297.1 304.20,304.0 304.45,293.2 304.70,304.9 304.95,296.1 305.20,308.6 305.45,301.5 305.70,308.5 305.95,297.6 306.20,304.2 306.45,298.3 306.70,306.6 306.95,300.9 307.20,307.5 307.45,298.5 307.70,309.5 307.95,295.9 308.20,305.4 308.45,298.3 308.70,306.8 308.95,301.8 309.20,312.6 309.45,303.4 309.70,310.4 309.95,299.3 310.20,309.0 310.45,300.0 310.70,312.0 310.95,302.3 311.20,308.2 311.45,296.1 311.70,305.8 311.95,300.6 312.20,310.9 312.45,298.4 312.70,314.2 312.95,299.6 313.20,304.8 313.45,296.9 313.70,305.3 313.95,301.3 314.20,312.5 314.45,302.9 314.70,312.4 314.95,299.3 315.20,311.0 315.45,301.2 315.70,317.6 315.95,305.4 316.20,314.0 316.45,305.1 316.70,314.5 316.95,303.6 317.20,311.6 317.45,304.3 317.70,309.4 317.95,301.2 318.20,313.8 318.45,303.6 318.70,311.6 318.95,301.3 319.20,310.8 319.45,303.0 319.70,314.0 319.95,305.8 320.20,313.3 320.45,303.7 320.70,312.9 320.95,302.6 321.20,311.8 321.45,305.2 321.70,316.5 321.95,308.0 322.20,317.0 322.45,305.9 322.70,314.8 322.95,306.1 323.20,309.6 323.45,299.7 323.70,312.0 323.95,300.6 324.20,311.7 324.45,298.8 324.70,310.9 324.95,298.6 325.20,311.0 325.45,304.1 325.70,313.4 325.95,304.7 326.20,315.7 326.45,305.8 326.70,317.9 326.95,307.8 327.20,315.3 327.45,305.9 327.70,311.6 327.95,303.3 328.20,312.3 328.45,305.2 328.70,314.7 328.95,308.7 329.20,312.6 329.45,304.7 329.70,319.8 329.95,305.7 330.20,314.1 330.45,306.1 330.70,320.8 330.95,304.6 331.20,313.9 331.45,304.3 331.70,315.7 331.95,305.1 332.20,317.8 332.45,309.2 332.70,315.8 332.95,305.6 333.20,315.3 333.45,305.4 333.70,317.4 333.95,303.9 334.20,317.3 334.45,308.0 334.70,318.0 334.95,305.6 335.20,315.9 335.45,305.3 335.70,312.9 335.95,309.6 336.20,317.1 336.45,306.3 336.70,316.6 336.95,303.4 337.20,315.3 337.45,304.5 337.70,315.2 337.95,306.8 338.20,314.1 338.45,303.7 338.70,316.1 338.95,305.5 339.20,320.0 339.45,304.6 339.70,313.1 339.95,301.6 340.20,308.2 340.45,305.1 340.70,312.0 340.95,303.1 341.20,315.3 341.45,306.3 341.70,318.1 341.95,313.2 342.20,321.4 342.45,314.3 342.70,324.7 342.95,317.8 343.20,328.6 343.45,319.0 343.70,327.6 343.95,312.7 344.20,319.2 344.45,311.6 344.70,326.0 344.95,317.5 345.20,330.3 345.45,322.2 345.70,335.1 345.95,326.6 346.20,334.2 346.45,321.4 346.70,330.2 346.95,321.7 347.20,329.2 347.45,322.5 347.70,335.3 347.95,326.6 348.20,332.7 348.45,321.1 348.70,329.0 348.95,319.9 349.20,331.2 349.45,321.9 349.70,335.6 349.95,323.8 350.20,333.2 350.45,322.9 350.70,333.8 350.95,324.9 351.20,333.9 351.45,322.8 351.70,332.8 351.95,316.2 352.20,327.5 352.45,318.9 352.70,327.1 352.95,319.3 353.20,332.1 353.45,318.2 353.70,330.0 353.95,320.6 354.20,331.3 354.45,312.2 354.70,330.6 354.95,322.7 355.20,346.3 355.45,327.3 355.70,345.4 355.95,343.0 356.20,353.3 356.45,334.3 356.70,342.1 356.95,340.8 357.20,356.7 357.45,347.4 357.70,370.7 357.95,363.8 358.20,371.9 358.45,345.6 358.70,358.7 358.95,361.4 359.20,388.3 359.45,371.1 359.70,391.2 359.95,392.7 360.20,394.2 360.45,395.5 360.70,396.9 360.95,398.3 361.20,399.7 361.45,388.4 361.70,395.5 361.95,383.8 362.20,386.8 362.45,376.4 362.70,379.8 362.95,361.2 363.20,367.6 363.45,355.6 363.70,383.4 363.95,401.9 364.20,410.3 364.45,418.0 364.70,411.1 364.95,405.0 365.20,389.6 365.45,378.8 365.70,421.6 365.95,411.5 366.20,423.1 366.45,412.0 366.70,420.7 366.95,429.3 367.20,420.7 367.45,411.9 367.70,409.8 367.95,401.4 368.20,419.1 368.45,403.9 368.70,414.1 368.95,401.1 369.20,408.8 369.45,406.2 369.70,403.6 369.95,396.0 370.20,398.4 370.45,348.9 370.70,377.7 370.95,366.0 371.20,385.6 371.45,372.0 371.70,377.9 371.95,364.8 372.20,369.4 372.45,335.4 372.70,353.9 372.95,334.6 373.20,347.2 373.45,329.2 373.70,343.1 373.95,328.5 374.20,332.3 374.45,316.6 374.70,321.7 374.95,311.7 375.20,314.1 375.45,303.3 375.70,310.5 375.95,303.6 376.20,308.4 376.45,295.4 376.70,302.0 376.95,287.7 377.20,292.3 377.45,283.6 377.70,288.3 377.95,275.9 378.20,283.8 378.45,273.0 378.70,277.6 378.95,268.0 379.20,276.6 379.45,266.2 379.70,274.0 379.95,266.5 380.20,274.7 380.45,266.6 380.70,278.6 380.95,267.1 381.20,279.0 381.45,266.4 381.70,275.1 381.95,268.0 382.20,275.5 382.45,268.8 382.70,276.1 382.95,264.5 383.20,273.3 383.45,263.8 383.70,274.1 383.95,268.3 384.20,276.8 384.45,263.4 384.70,274.0 384.95,262.8 385.20,275.0 385.45,262.1 385.70,273.7 385.95,266.3 386.20,272.9 386.45,263.2 386.70,272.4 386.95,262.2 387.20,274.4 387.45,263.6 387.70,278.5 387.95,265.8 388.20,276.4 388.45,266.5 388.70,272.8 388.95,263.3 389.20,272.6 389.45,263.6 389.70,273.8 389.95,267.1 390.20,274.3 390.45,267.4 390.70,278.9 390.95,271.2 391.20,278.8 391.45,267.6 391.70,276.9 391.95,266.4 392.20,273.8 392.45,263.4 392.70,274.4 392.95,266.2 393.20,278.7 393.45,270.3 393.70,275.7 393.95,265.0 394.20,274.9 394.45,265.7 394.70,277.4 394.95,270.2 395.20,278.7 395.45,272.2 395.70,279.3 395.95,269.6 396.20,281.1 396.45,270.7 396.70,280.5 396.95,275.7 397.20,283.6 397.45,272.8 397.70,283.7 397.95,273.7 398.20,291.0 398.45,276.8 398.70,285.9 398.95,273.4 399.20,280.2 399.45,272.9 399.70,284.7 399.95,278.4 400.20,285.0 400.45,275.9 400.70,287.4 400.95,279.0 401.20,289.3 401.45,283.1 401.70,293.9 401.95,284.3 402.20,289.6 402.45,282.1 402.70,292.5 402.95,281.9 403.20,294.4 403.45,283.9 403.70,292.4 403.95,283.9 404.20,292.3 404.45,284.9 404.70,295.4 404.95,287.8 405.20,298.7 405.45,287.7 405.70,295.8 405.95,289.4 406.20,295.8 406.45,289.9 406.70,299.5 406.95,289.7 407.20,300.8 407.45,290.9 407.70,301.7 407.95,292.6 408.20,300.7 408.45,293.9 408.70,302.0 408.95,290.8 409.20,304.8 409.45,286.8 409.70,298.3 409.95,293.3 410.20,300.1 410.45,291.3 410.70,299.0 410.95,287.1 411.20,296.9 411.45,287.7 411.70,298.5 411.95,289.7 412.20,298.9 412.45,293.2 412.70,311.3 412.95,290.2 413.20,301.3 413.45,292.2 413.70,301.8 413.95,293.8 414.20,302.4 414.45,295.7 414.70,303.3 414.95,296.7 415.20,305.1 415.45,295.9 415.70,303.3 415.95,296.9 416.20,303.4 416.45,297.3 416.70,309.8 416.95,296.6 417.20,309.0 417.45,298.3 417.70,307.3 417.95,300.6 418.20,305.1 418.45,299.3 418.70,304.4 418.95,299.3 419.20,309.8 419.45,297.7 419.70,311.2 419.95,297.8 420.20,308.9 420.45,297.9 420.70,304.5 420.95,292.2 421.20,305.1 421.45,299.9 421.70,307.2 421.95,299.4 422.20,306.5 422.45,297.8 422.70,304.6 422.95,297.7 423.20,305.1 423.45,296.8 423.70,306.4 423.95,295.7 424.20,305.1 424.45,296.3 424.70,304.2 424.95,299.6 425.20,307.8 425.45,298.2 425.70,305.5 425.95,293.3 426.20,305.4 426.45,297.2 426.70,308.1 426.95,303.7 427.20,309.6 427.45,301.2 427.70,306.1 427.95,298.5 428.20,305.2 428.45,296.2 428.70,312.5 428.95,297.2 429.20,305.5 429.45,297.4 429.70,303.6 429.95,297.5 430.20,305.7 430.45,298.2 430.70,310.8 430.95,296.7 431.20,304.9 431.45,291.2 431.70,306.2 431.95,296.6 432.20,305.7 432.45,299.1 432.70,309.1 432.95,300.1 433.20,319.4 433.45,297.3 433.70,307.2 433.95,298.9 434.20,310.6 434.45,303.9 434.70,314.7 434.95,304.1 435.20,316.8 435.45,307.4 435.70,315.3 435.95,302.0 436.20,309.8 436.45,301.6 436.70,312.6 436.95,302.6 437.20,309.7 437.45,303.7 437.70,312.1 437.95,303.9 438.20,311.3 438.45,301.8 438.70,314.1 438.95,301.0 439.20,313.0 439.45,304.9 439.70,314.5 439.95,303.7 440.20,311.2 440.45,308.3 440.70,312.8 440.95,305.4 441.20,313.7 441.45,305.5 441.70,315.4 441.95,305.4 442.20,314.3 442.45,310.4 442.70,317.8 442.95,309.6 443.20,321.0 443.45,311.0 443.70,320.0 443.95,317.0 444.20,323.3 444.45,311.3 444.70,321.3 444.95,310.1 445.20,322.3 445.45,316.6 445.70,320.9 445.95,313.0 446.20,324.9 446.45,315.8 446.70,325.4 446.95,320.5 447.20,335.9 447.45,328.0 447.70,340.6 447.95,332.8 448.20,334.7 448.45,322.1 448.70,333.9 448.95,325.9 449.20,334.7 449.45,328.8 449.70,348.3 449.95,338.0 450.20,350.0 450.45,342.0 450.70,351.6 450.95,332.9 451.20,342.6 451.45,327.4 451.70,336.0 451.95,320.1 452.20,342.5 452.45,329.0 452.70,347.4 452.95,341.3 453.20,363.4 453.45,339.8 453.70,373.0 453.95,369.5 454.20,383.3 454.45,385.4 454.70,388.4 454.95,390.9 455.20,393.4 455.45,363.8 455.70,395.6 455.95,361.9 456.20,399.3 456.45,369.6 456.70,406.7 456.95,409.2 457.20,410.6 457.45,393.7 457.70,412.3 457.95,401.3 458.20,407.1 458.45,414.0 458.70,407.4 458.95,401.2 459.20,400.9 459.45,373.9 459.70,386.1 459.95,376.9 460.20,410.7 460.45,410.5 460.70,418.0 460.95,418.3 461.20,418.5 461.45,412.7 461.70,410.9 461.95,417.0 462.20,410.9 462.45,404.2 462.70,360.3 462.95,347.3 463.20,363.0 463.45,323.7 463.70,333.1 463.95,329.9 464.20,377.9 464.45,358.2 464.70,376.6 464.95,367.0 465.20,379.4 465.45,359.6 465.70,371.7 465.95,364.2 466.20,364.3 466.45,346.9 466.70,354.2 466.95,337.4 467.20,350.6 467.45,333.4 467.70,339.8 467.95,322.9 468.20,325.0 468.45,313.7 468.70,322.3 468.95,309.0 469.20,314.5 469.45,302.8 469.70,314.2 469.95,295.7 470.20,304.3 470.45,289.7 470.70,298.4 470.95,289.1 471.20,298.3 471.45,290.7 471.70,296.6 471.95,287.4 472.20,297.1 472.45,287.8 472.70,295.4 472.95,290.1 473.20,295.3 473.45,283.0 473.70,295.2 473.95,277.0 474.20,288.0 474.45,277.2 474.70,284.9 474.95,274.4 475.20,282.3 475.45,273.8 475.70,279.1 475.95,269.6 476.20,276.3 476.45,263.7 476.70,278.4 476.95,273.5 477.20,277.8 477.45,271.7 477.70,280.0 477.95,268.7 478.20,279.0 478.45,267.2 478.70,278.0 478.95,269.3 479.20,278.0 479.45,269.5 479.70,276.0 479.95,268.5 480.20,277.3 480.45,267.4 480.70,280.9 480.95,271.4 481.20,279.0 481.45,269.8 481.70,274.7 481.95,272.5 482.20,281.7 482.45,271.3 482.70,282.7 482.95,270.9 483.20,280.9 483.45,271.9 483.70,285.2 483.95,271.7 484.20,281.9 484.45,272.0 484.70,279.9 484.95,270.6 485.20,279.6 485.45,271.7 485.70,280.7 485.95,272.1 486.20,282.7 486.45,273.9 486.70,281.8 486.95,278.3 487.20,286.3 487.45,276.5 487.70,283.1 487.95,273.5 488.20,285.1 488.45,276.2 488.70,285.2 488.95,272.9 489.20,284.3 489.45,274.9 489.70,285.7 489.95,275.9 490.20,286.9 490.45,276.4 490.70,285.9 490.95,273.4 491.20,282.2 491.45,273.4 491.70,285.8 491.95,275.8 492.20,287.0 492.45,276.2 492.70,283.1 492.95,277.8 493.20,290.2 493.45,278.4 493.70,289.9 493.95,281.1 494.20,289.6 494.45,277.0 494.70,287.3 494.95,275.2 495.20,284.9 495.45,277.4 495.70,288.8 495.95,278.4 496.20,288.2 496.45,279.2 496.70,293.8 496.95,277.9 497.20,287.8 497.45,276.7 497.70,291.4 497.95,280.1 498.20,286.3 498.45,275.2 498.70,282.0 498.95,276.0 499.20,289.3 499.45,280.7 499.70,290.7 499.95,280.4 500.20,287.5 500.45,280.5 500.70,290.5 500.95,283.1 501.20,291.6 501.45,286.2 501.70,294.4 501.95,282.4 502.20,289.0 502.45,277.5 502.70,287.1 502.95,280.3 503.20,291.7 503.45,285.2 503.70,292.8 503.95,283.3 504.20,288.5 504.45,281.5 504.70,293.6 504.95,283.5 505.20,294.5 505.45,288.1 505.70,295.7 505.95,283.5 506.20,295.1 506.45,288.1 506.70,294.4 506.95,288.4 507.20,296.4 507.45,283.8 507.70,298.5 507.95,290.3 508.20,297.2 508.45,292.4 508.70,302.5 508.95,288.5 509.20,296.8 509.45,286.3 509.70,299.0 509.95,288.7 510.20,305.4 510.45,290.3 510.70,298.9 510.95,290.0 511.20,299.2 511.45,291.4 511.70,301.3 511.95,292.3 512.20,302.5 512.45,294.9 512.70,302.1 512.95,291.5 513.20,304.6 513.45,291.5 513.70,300.1 513.95,292.7 514.20,301.8 514.45,293.4 514.70,302.1 514.95,298.1 515.20,307.6 515.45,294.8 515.70,304.8 515.95,296.6 516.20,305.6 516.45,295.4 516.70,300.2 516.95,286.0 517.20,297.9 517.45,291.1 517.70,305.9 517.95,300.5 518.20,308.7 518.45,300.8 518.70,311.2 518.95,300.4 519.20,310.7 519.45,298.5 519.70,306.0 519.95,297.4 520.20,306.0 520.45,299.6 520.70,311.3 520.95,300.3 521.20,310.5 521.45,302.5 521.70,312.7 521.95,300.8 522.20,310.4 522.45,304.1 522.70,311.0 522.95,300.6 523.20,311.5 523.45,301.1 523.70,311.7 523.95,299.5 524.20,319.3 524.45,300.7 524.70,306.5 524.95,300.9 525.20,313.1 525.45,303.7 525.70,316.2 525.95,304.6 526.20,311.2 526.45,302.6 526.70,310.5 526.95,302.3 527.20,308.6 527.45,302.8 527.70,309.2 527.95,301.6 528.20,310.2 528.45,300.9 528.70,310.8 528.95,305.0 529.20,314.1 529.45,308.1 529.70,311.1 529.95,300.4 530.20,311.8 530.45,299.0 530.70,310.1 530.95,302.6 531.20,308.7 531.45,301.2 531.70,306.5 531.95,298.2 532.20,311.1 532.45,305.0 532.70,316.7 532.95,307.2 533.20,316.0 533.45,306.6 533.70,311.6 533.95,304.9 534.20,311.6 534.45,300.7 534.70,310.9 534.95,294.3 535.20,310.3 535.45,301.2 535.70,310.1 535.95,301.6 536.20,310.8 536.45,297.9 536.70,308.1 536.95,296.9 537.20,309.2 537.45,299.3 537.70,313.9 537.95,300.1 538.20,308.2 538.45,298.0 538.70,310.3 538.95,300.8 539.20,311.7 539.45,299.2 539.70,309.0 539.95,298.1 540.20,308.6 540.45,299.3 540.70,304.5 540.95,295.0 541.20,300.6 541.45,295.2 541.70,308.5 541.95,297.3 542.20,308.2 542.45,294.9 542.70,308.9 542.95,298.8 543.20,306.4 543.45,299.8 543.70,307.3 543.95,298.3 544.20,310.3 544.45,301.0 544.70,309.4 544.95,299.2 545.20,310.0 545.45,302.6 545.70,315.0 545.95,300.1 546.20,307.1 546.45,297.2 546.70,307.0 546.95,300.1 547.20,310.7 547.45,294.4 547.70,309.6 547.95,298.3 548.20,303.2 548.45,292.6 548.70,302.4 548.95,293.3 549.20,305.2 549.45,294.0 549.70,304.7 549.95,298.6 550.20,308.6 550.45,301.1 550.70,308.4 550.95,298.4 551.20,308.2 551.45,300.2 551.70,309.9 551.95,302.3 552.20,311.6 552.45,299.8 552.70,312.6 552.95,304.3 553.20,315.8 553.45,305.7 553.70,310.8 553.95,300.9 554.20,310.4 554.45,301.6 554.70,314.7 554.95,303.6 555.20,319.5 555.45,306.9 555.70,316.3 555.95,307.0 556.20,315.9 556.45,309.2 556.70,319.0 556.95,313.6 557.20,321.2 557.45,307.5 557.70,318.1 557.95,308.3 558.20,315.6 558.45,312.1 558.70,319.6 558.95,309.3 559.20,320.1 559.45,308.0 559.70,320.3 559.95,309.2 560.20,318.8 560.45,306.9 560.70,315.5 560.95,308.1 561.20,317.3 561.45,308.8 561.70,320.0 561.95,310.3 562.20,319.9 562.45,311.1 562.70,320.7 562.95,314.0 563.20,319.3 563.45,310.9 563.70,321.4 563.95,308.3 564.20,317.9 564.45,308.0 564.70,316.9 564.95,307.2 565.20,321.6 565.45,312.1 565.70,321.9 565.95,312.2 566.20,319.7 566.45,306.9 566.70,318.2 566.95,309.5 567.20,316.2 567.45,307.9 567.70,319.9 567.95,309.8 568.20,321.6 568.45,314.5 568.70,320.1 568.95,313.9 569.20,320.6 569.45,312.6 569.70,322.5 569.95,313.6 570.20,324.0 570.45,314.3 570.70,324.1 570.95,311.2 571.20,320.0 571.45,311.0 571.70,322.3 571.95,314.5 572.20,327.4 572.45,313.7 572.70,322.2 572.95,314.2 573.20,322.1 573.45,312.7 573.70,319.0 573.95,310.7 574.20,321.7 574.45,313.3 574.70,324.6 574.95,311.5 575.20,321.0 575.45,311.1 575.70,323.5 575.95,314.8 576.20,324.5 576.45,313.8 576.70,323.9 576.95,313.7 577.20,329.9 577.45,311.5 577.70,325.1 577.95,309.5 578.20,320.8 578.45,311.8 578.70,317.9 578.95,309.5 579.20,318.6 579.45,308.7 579.70,320.2 579.95,310.6 580.20,321.4 580.45,311.1 580.70,317.7 580.95,305.9 581.20,319.6 581.45,311.5 581.70,318.6 581.95,312.2 582.20,318.3 582.45,311.6 582.70,322.7 582.95,315.2 583.20,323.0 583.45,314.6 583.70,321.1 583.95,310.1 584.20,321.5 584.45,315.0 584.70,326.7 584.95,316.7 585.20,326.8 585.45,318.2 585.70,325.2 585.95,312.7 586.20,317.3 586.45,312.3 586.70,326.1 586.95,312.2 587.20,321.4 587.45,309.1 587.70,319.1 587.95,312.6 588.20,324.7 588.45,313.5 588.70,319.9 588.95,312.8 589.20,320.1 589.45,311.7 589.70,319.7 589.95,312.3 590.20,319.6 590.45,309.0 590.70,319.9 590.95,308.8 591.20,319.3 591.45,313.3 591.70,322.1 591.95,312.2 592.20,323.0 592.45,312.4 592.70,322.6 592.95,315.1 593.20,325.6 593.45,319.1 593.70,325.2 593.95,313.2 594.20,320.4 594.45,313.0 594.70,325.2 594.95,317.1 595.20,321.6 595.45,314.1 595.70,324.8 595.95,315.1 596.20,327.5 596.45,317.2 596.70,325.7 596.95,313.6 597.20,324.8 597.45,310.9 597.70,324.1 597.95,310.2 598.20,321.1 598.45,314.3 598.70,322.2 598.95,316.3 599.20,329.0 599.45,320.5 599.70,331.2 599.95,317.8 600.20,326.9 600.45,317.2 600.70,331.0 600.95,328.8 601.20,339.9 601.45,333.0 601.70,344.7 601.95,330.5 602.20,341.0 602.45,336.8 602.70,347.5 602.95,338.0 603.20,343.3 603.45,334.0 603.70,346.0 603.95,333.8 604.20,350.4 604.45,348.5 604.70,368.2 604.95,349.2 605.20,370.5 605.45,371.7 605.70,372.8 605.95,350.2 606.20,375.1 606.45,355.2 606.70,376.3 606.95,364.2 607.20,379.8 607.45,370.5 607.70,382.3 607.95,371.6 608.20,385.5 608.45,383.9 608.70,389.5 608.95,391.7 609.20,394.0 609.45,393.5 609.70,398.1 609.95,393.4 610.20,377.9 610.45,382.7 610.70,389.9 610.95,370.1 611.20,370.8 611.45,408.5 611.70,428.8 611.95,448.8 612.20,428.8 612.45,410.3 612.70,409.6 612.95,408.5 613.20,407.0 613.45,405.0 613.70,402.9 613.95,401.1 614.20,399.8 614.45,389.4 614.70,399.1 614.95,383.2 615.20,379.8 615.45,365.7 615.70,353.6 615.95,339.0 616.20,371.0 616.45,346.6 616.70,381.1 616.95,390.2 617.20,390.4 617.45,374.5 617.70,387.3 617.95,391.6 618.20,399.6 618.45,374.2 618.70,390.0 618.95,381.0 619.20,377.1 619.45,399.5 619.70,405.1 619.95,410.7 620.20,405.1 620.45,398.9 620.70,388.9 620.95,381.0 621.20,376.2 621.45,338.7 621.70,360.0 621.95,353.7 622.20,363.2 622.45,351.0 622.70,363.2 622.95,343.6 623.20,349.1 623.45,338.0 623.70,342.8 623.95,329.8 624.20,332.2 624.45,321.1 624.70,327.4 624.95,313.5 625.20,323.9 625.45,310.4 625.70,317.6 625.95,305.5 626.20,314.5 626.45,305.1 626.70,308.6 626.95,297.6 627.20,300.9 627.45,289.0 627.70,301.5 627.95,288.1 628.20,298.8 628.45,287.5 628.70,296.2 628.95,285.2 629.20,291.4 629.45,280.0 629.70,291.1 629.95,279.4 630.20,290.1 630.45,277.9 630.70,283.8 630.95,275.8 631.20,285.0 631.45,275.4 631.70,282.1 631.95,275.1 632.20,281.3 632.45,275.0 632.70,283.6 632.95,274.0 633.20,287.4 633.45,278.7 633.70,286.7 633.95,278.1 634.20,288.9 634.45,278.5 634.70,287.8 634.95,278.3 635.20,283.7 635.45,277.5 635.70,282.8 635.95,274.2 636.20,286.3 636.45,276.3 636.70,285.0 636.95,276.1 637.20,292.6 637.45,280.9 637.70,288.8 637.95,280.1 638.20,290.8 638.45,284.3 638.70,292.8 638.95,279.0 639.20,283.2 639.45,272.1 639.70,280.5 639.95,274.3 640.20,284.3 640.45,274.9 640.70,284.3 640.95,275.8 641.20,285.9 641.45,276.3 641.70,288.9 641.95,274.1 642.20,287.5 642.45,277.4 642.70,289.2 642.95,278.3 643.20,289.4 643.45,280.7 643.70,288.6 643.95,278.1 644.20,292.2 644.45,278.3 644.70,285.8 644.95,276.1 645.20,283.6 645.45,275.0 645.70,283.7 645.95,275.6 646.20,283.9 646.45,279.3 646.70,290.3 646.95,279.5 647.20,291.3 647.45,280.9 647.70,289.8 647.95,276.2 648.20,284.9 648.45,278.0 648.70,288.3 648.95,278.7 649.20,292.3 649.45,278.4 649.70,291.1 649.95,278.2 650.20,290.2 650.45,282.4 650.70,287.2 650.95,275.7 651.20,287.5 651.45,278.6 651.70,288.9 651.95,278.1 652.20,287.7 652.45,280.0 652.70,290.8 652.95,281.4 653.20,287.7 653.45,278.7 653.70,289.4 653.95,278.8 654.20,290.0 654.45,283.1 654.70,291.5 654.95,280.0 655.20,289.7 655.45,277.7 655.70,283.6 655.95,276.5 656.20,283.5 656.45,279.6 656.70,290.0 656.95,282.3 657.20,294.2 657.45,284.8 657.70,295.2 657.95,284.4 658.20,289.9 658.45,281.6 658.70,287.3 658.95,278.2 659.20,289.9 659.45,284.9 659.70,294.9 659.95,291.0 660.20,296.6 660.45,287.0 660.70,294.7 660.95,283.7 661.20,296.6 661.45,289.2 661.70,297.9 661.95,289.9 662.20,295.5 662.45,284.9 662.70,295.2 662.95,284.1 663.20,296.7 663.45,286.3 663.70,297.8 663.95,287.4 664.20,297.6 664.45,287.8 664.70,296.3 664.95,290.3 665.20,299.0 665.45,287.9 665.70,299.5 665.95,290.4 666.20,297.8 666.45,290.4 666.70,300.3 666.95,288.6 667.20,300.5 667.45,290.1 667.70,297.2 667.95,286.3 668.20,294.3 668.45,286.4 668.70,295.0 668.95,287.7 669.20,296.6 669.45,287.2 669.70,299.3 669.95,289.6 670.20,301.9 670.45,291.1 670.70,299.7 670.95,289.1 671.20,295.1 671.45,286.2 671.70,297.8 671.95,290.3 672.20,300.4 672.45,290.7 672.70,302.5 672.95,292.1 673.20,301.5 673.45,286.0 673.70,296.1 673.95,288.7 674.20,300.2 674.45,289.9 674.70,299.3 674.95,290.8 675.20,296.1 675.45,288.7 675.70,297.6 675.95,289.4 676.20,303.1 676.45,292.7 676.70,303.7 676.95,289.7 677.20,299.6 677.45,289.4 677.70,301.1 677.95,295.9 678.20,303.6 678.45,296.7 678.70,312.1 678.95,292.0 679.20,300.3 679.45,290.3 679.70,302.9 679.95,289.9 680.20,299.4 680.45,290.8 680.70,301.3 680.95,290.7 681.20,297.3 681.45,289.4 681.70,296.8 681.95,289.6 682.20,299.0 682.45,292.8 682.70,299.8 682.95,289.5 683.20,297.6 683.45,288.6 683.70,301.3 683.95,292.9 684.20,303.2 684.45,293.9 684.70,299.9 684.95,291.3 685.20,301.5 685.45,289.9 685.70,303.3 685.95,293.0 686.20,301.4 686.45,294.5 686.70,303.8 686.95,291.4 687.20,305.8 687.45,297.0 687.70,303.0 687.95,297.5 688.20,302.3 688.45,294.0 688.70,302.2 688.95,295.1 689.20,301.1 689.45,295.8 689.70,308.0 689.95,295.4 690.20,308.6 690.45,297.2 690.70,307.0 690.95,296.0 691.20,303.1 691.45,292.1 691.70,303.3 691.95,296.2 692.20,305.4 692.45,297.9 692.70,305.0 692.95,297.1 693.20,307.7 693.45,303.7 693.70,308.4 693.95,301.4 694.20,308.6 694.45,297.4 694.70,305.2 694.95,297.1 695.20,308.6 695.45,294.4 695.70,307.3 695.95,302.2 696.20,304.6 696.45,296.7 696.70,307.2 696.95,294.0 697.20,308.9 697.45,295.8 697.70,306.6 697.95,300.1 698.20,307.9 698.45,299.8 698.70,309.2 698.95,298.0 699.20,311.3 699.45,304.4 699.70,316.2 699.95,308.0 700.20,313.6 700.45,304.9 700.70,312.1 700.95,301.6 701.20,312.0 701.45,301.5 701.70,309.8 701.95,300.7 702.20,310.9 702.45,300.5 702.70,315.5 702.95,303.9 703.20,314.1 703.45,303.2 703.70,312.0 703.95,302.3 704.20,315.4 704.45,305.4 704.70,314.2 704.95,304.1 705.20,311.7 705.45,305.3 705.70,311.7 705.95,300.7 706.20,312.0 706.45,303.1 706.70,313.3 706.95,302.1 707.20,310.9 707.45,303.3 707.70,311.7 707.95,304.4 708.20,321.0 708.45,305.4 708.70,313.4 708.95,304.7 709.20,312.9 709.45,303.5 709.70,311.8 709.95,305.7 710.20,313.4 710.45,306.1 710.70,313.8 710.95,305.0 711.20,315.9 711.45,307.8 711.70,315.7 711.95,309.2 712.20,313.9 712.45,302.8 712.70,311.7 712.95,304.2 713.20,311.0 713.45,305.3 713.70,318.1 713.95,308.8 714.20,318.2 714.45,309.7 714.70,315.7 714.95,303.8 715.20,312.0 715.45,302.6 715.70,311.8 715.95,304.5 716.20,319.2 716.45,308.5 716.70,316.0 716.95,307.2 717.20,315.6 717.45,310.9 717.70,318.5 717.95,307.6 718.20,319.1 718.45,309.7 718.70,317.0 718.95,304.1 719.20,314.5 719.45,309.2 719.70,316.1 719.95,305.9 720.20,313.3 720.45,303.4 720.70,312.3 720.95,301.9 721.20,314.4 721.45,305.3 721.70,316.6 721.95,307.3 722.20,318.5 722.45,311.5 722.70,318.1 722.95,310.6 723.20,316.8 723.45,298.2 723.70,314.6 723.95,306.1 724.20,312.4 724.45,303.9 724.70,315.7 724.95,305.6 725.20,316.1 725.45,302.6 725.70,313.1 725.95,301.5 726.20,312.0 726.45,306.4 726.70,324.8 726.95,308.8 727.20,316.1 727.45,305.4 727.70,313.9 727.95,304.8 728.20,317.3 728.45,303.9 728.70,314.5 728.95,305.6 729.20,313.5 729.45,304.5 729.70,313.0 729.95,302.3 730.20,312.8 730.45,305.5 730.70,315.3 730.95,303.9 731.20,314.7 731.45,304.1 731.70,314.1 731.95,306.5 732.20,311.4 732.45,304.4 732.70,313.4 732.95,305.9 733.20,313.9 733.45,304.4 733.70,312.2 733.95,300.9 734.20,314.6 734.45,305.6 734.70,315.7 734.95,307.2 735.20,318.4 735.45,305.7 735.70,315.5 735.95,305.8 736.20,316.7 736.45,308.4 736.70,316.6 736.95,305.0 737.20,314.4 737.45,306.9 737.70,314.6 737.95,302.4 738.20,316.9 738.45,307.1 738.70,316.4 738.95,307.3 739.20,314.8 739.45,306.2 739.70,318.7 739.95,305.4 740.20,311.6 740.45,304.8 740.70,316.4 740.95,308.1 741.20,314.9 741.45,306.6 741.70,313.4 741.95,305.7 742.20,314.2 742.45,302.8 742.70,313.3 742.95,302.6 743.20,314.9 743.45,306.5 743.70,315.3 743.95,303.7 744.20,314.2 744.45,306.1 744.70,316.7 744.95,311.4 745.20,324.2 745.45,318.9 745.70,325.1 745.95,311.1 746.20,328.6 746.45,317.0 746.70,332.4 746.95,324.0 747.20,337.2 747.45,328.6 747.70,341.4 747.95,334.8 748.20,346.2 748.45,338.3 748.70,355.2 748.95,350.1 749.20,357.4 749.45,348.2 749.70,350.5 749.95,326.2 750.20,338.8 750.45,338.0 750.70,356.1 750.95,347.1 751.20,353.4 751.45,340.8 751.70,346.3 751.95,326.3 752.20,349.7 752.45,337.3 752.70,352.2 752.95,335.6 753.20,350.8 753.45,335.9 753.70,353.8 753.95,357.5 754.20,376.0 754.45,374.0 754.70,369.0 754.95,365.4 755.20,389.4 755.45,373.8 755.70,376.5 755.95,371.1 756.20,385.5 756.45,368.3 756.70,404.5 756.95,381.8 757.20,408.8 757.45,389.2 757.70,412.5 757.95,404.1 758.20,415.6 758.45,425.0 758.70,419.0 758.95,408.6 759.20,422.2 759.45,400.9 759.70,425.1 759.95,406.3 760.20,423.4 760.45,427.2 760.70,437.5 760.95,427.2 761.20,416.6 761.45,395.0 761.70,407.0 761.95,394.3 762.20,413.2 762.45,401.6 762.70,406.3 762.95,402.2 763.20,399.0 763.45,397.1 763.70,396.4 763.95,389.6 764.20,399.0 764.45,367.4 764.70,382.3 764.95,355.2 765.20,388.6 765.45,369.7 765.70,391.8 765.95,381.6 766.20,413.4 766.45,395.2 766.70,415.7 766.95,416.3 767.20,416.7 767.45,416.7 767.70,416.7 767.95,412.5 768.20,414.9 768.45,398.4 768.70,386.8 768.95,357.1 769.20,374.8 769.45,350.0 769.70,369.7 769.95,375.9 770.20,387.3 770.45,377.2 770.70,379.3 770.95,353.2 771.20,365.0 771.45,345.5 771.70,345.1 771.95,326.9 772.20,337.0 772.45,316.6 772.70,326.9 772.95,319.0 773.20,327.6 773.45,314.7 773.70,318.3 773.95,303.1 774.20,310.2 774.45,294.4 774.70,303.2 774.95,291.7 775.20,299.7 775.45,288.1 775.70,295.1 775.95,278.9 776.20,285.9 776.45,272.0 776.70,282.3 776.95,270.4 777.20,273.7 777.45,263.0 777.70,269.2 777.95,259.0 778.20,268.9 778.45,262.5 778.70,271.1 778.95,266.4 779.20,273.1 779.45,262.5 779.70,272.9 779.95,264.7 780.20,274.4 780.45,265.3 780.70,274.0 780.95,262.3 781.20,270.7 781.45,261.2 781.70,269.3 781.95,262.8 782.20,270.9 782.45,260.1 782.70,265.0 782.95,254.8 783.20,270.9 783.45,257.1 783.70,266.3 783.95,256.3 784.20,266.8 784.45,256.7 784.70,265.7 784.95,258.8 785.20,265.9 785.45,255.3 785.70,262.6 785.95,253.4 786.20,266.0 786.45,257.4 786.70,265.7 786.95,257.5 787.20,267.8 787.45,261.3 787.70,266.9 787.95,260.0 788.20,268.9 788.45,257.5 788.70,266.8 788.95,258.2 789.20,266.7 789.45,256.2 789.70,266.7 789.95,260.0 790.20,269.0 790.45,260.7 790.70,268.9 790.95,262.7 791.20,270.1 791.45,263.1 791.70,272.4 791.95,263.6 792.20,275.7 792.45,263.4 792.70,273.0 792.95,257.6 793.20,269.8 793.45,264.3 793.70,272.0 793.95,262.2 794.20,271.0 794.45,261.1 794.70,271.6 794.95,265.4 795.20,275.4 795.45,261.9 795.70,279.2 795.95,268.2 796.20,277.6 796.45,268.2 796.70,273.2 796.95,265.9 797.20,273.3 797.45,266.0 797.70,275.8 797.95,268.6 798.20,277.0 798.45,270.2 798.70,278.2 798.95,269.3 799.20,278.4 799.45,272.3 799.70,284.2 799.95,274.5 800.20,285.9 800.45,273.9 800.70,283.9 800.95,275.0 801.20,282.7 801.45,273.1 801.70,285.0 801.95,277.5 802.20,286.6 802.45,278.7 802.70,285.4 802.95,279.7 803.20,286.1 803.45,275.3 803.70,284.1 803.95,273.2 804.20,285.7 804.45,277.4 804.70,284.5 804.95,274.9 805.20,282.8 805.45,276.2 805.70,286.6 805.95,273.7 806.20,287.2 806.45,274.2 806.70,289.3 806.95,277.6 807.20,286.0 807.45,278.2 807.70,286.7 807.95,282.7 808.20,289.1 808.45,282.2 808.70,293.6 808.95,279.7 809.20,285.9 809.45,276.6 809.70,285.6 809.95,274.7 810.20,285.2 810.45,278.5 810.70,289.3 810.95,280.3 811.20,293.7 811.45,275.7 811.70,289.1 811.95,280.8 812.20,287.5 812.45,275.5 812.70,285.9 812.95,275.1 813.20,291.4 813.45,279.4 813.70,291.5"/>
<polyline fill="none" stroke="#fdb813" stroke-width="1.1" stroke-linejoin="round" points="167.20,501.6 167.45,494.6 167.70,503.5 167.95,497.1 168.20,502.7 168.45,490.2 168.70,499.1 168.95,490.4 169.20,500.1 169.45,494.9 169.70,502.8 169.95,494.3 170.20,501.5 170.45,491.8 170.70,495.9 170.95,489.5 171.20,501.3 171.45,491.1 171.70,500.3 171.95,493.9 172.20,498.5 172.45,493.9 172.70,500.5 172.95,491.4 173.20,495.7 173.45,487.7 173.70,498.4 173.95,494.8 174.20,501.7 174.45,493.3 174.70,503.8 174.95,494.8 175.20,502.7 175.45,497.8 175.70,500.6 175.95,491.4 176.20,500.6 176.45,491.1 176.70,502.2 176.95,496.2 177.20,503.3 177.45,494.3 177.70,501.1 177.95,493.7 178.20,502.8 178.45,496.9 178.70,506.6 178.95,496.0 179.20,505.4 179.45,495.2 179.70,500.5 179.95,495.5 180.20,502.0 180.45,496.8 180.70,500.8 180.95,493.1 181.20,499.9 181.45,488.4 181.70,498.3 181.95,491.9 182.20,502.8 182.45,496.5 182.70,503.2 182.95,494.5 183.20,501.9 183.45,495.1 183.70,504.1 183.95,499.0 184.20,505.2 184.45,498.1 184.70,506.9 184.95,498.2 185.20,501.4 185.45,498.7 185.70,506.9 185.95,498.9 186.20,507.4 186.45,503.3 186.70,508.7 186.95,498.3 187.20,504.9 187.45,497.9 187.70,506.5 187.95,502.9 188.20,513.7 188.45,504.7 188.70,515.3 188.95,505.4 189.20,514.7 189.45,507.4 189.70,515.3 189.95,507.0 190.20,513.5 190.45,511.8 190.70,519.5 190.95,512.4 191.20,520.3 191.45,514.5 191.70,524.4 191.95,516.8 192.20,530.1 192.45,519.1 192.70,529.6 192.95,518.5 193.20,533.8 193.45,522.5 193.70,534.9 193.95,532.9 194.20,545.0 194.45,530.6 194.70,549.3 194.95,534.4 195.20,550.0 195.45,541.1 195.70,557.5 195.95,550.1 196.20,575.0 196.45,564.8 196.70,595.0 196.95,599.3 197.20,618.5 197.45,635.0 197.70,620.4 197.95,607.1 198.20,605.0 198.45,563.7 198.70,591.7 198.95,572.5 199.20,607.3 199.45,567.1 199.70,602.5 199.95,571.3 200.20,607.4 200.45,571.4 200.70,602.4 200.95,570.7 201.20,600.4 201.45,574.6 201.70,623.9 201.95,607.1 202.20,617.6 202.45,628.0 202.70,617.7 202.95,607.5 203.20,609.6 203.45,578.6 203.70,613.9 203.95,586.3 204.20,608.1 204.45,590.6 204.70,622.0 204.95,637.8 205.20,658.3 205.45,637.9 205.70,617.5 205.95,566.4 206.20,605.9 206.45,573.5 206.70,609.7 206.95,585.2 207.20,602.3 207.45,587.8 207.70,606.1 207.95,575.6 208.20,595.6 208.45,568.2 208.70,580.0 208.95,563.6 209.20,566.2 209.45,546.0 209.70,555.4 209.95,540.7 210.20,542.2 210.45,528.2 210.70,526.4 210.95,515.0 211.20,515.6 211.45,505.3 211.70,506.6 211.95,492.0 212.20,500.8 212.45,489.1 212.70,493.1 212.95,483.6 213.20,489.6 213.45,484.4 213.70,489.8 213.95,482.0 214.20,490.8 214.45,475.3 214.70,482.7 214.95,471.8 215.20,477.8 215.45,469.4 215.70,472.4 215.95,460.0 216.20,475.0 216.45,467.2 216.70,476.7 216.95,471.4 217.20,475.1 217.45,467.1 217.70,471.1 217.95,464.5 218.20,473.3 218.45,468.8 218.70,474.8 218.95,469.3 219.20,476.9 219.45,468.3 219.70,476.6 219.95,468.7 220.20,474.7 220.45,468.2 220.70,476.2 220.95,470.1 221.20,481.7 221.45,474.3 221.70,481.4 221.95,475.7 222.20,479.9 222.45,472.2 222.70,478.2 222.95,470.9 223.20,476.5 223.45,469.0 223.70,481.2 223.95,471.8 224.20,478.3 224.45,469.8 224.70,476.2 224.95,472.6 225.20,480.3 225.45,476.8 225.70,483.4 225.95,476.1 226.20,482.7 226.45,473.7 226.70,482.7 226.95,474.8 227.20,483.2 227.45,475.3 227.70,484.6 227.95,480.0 228.20,490.6 228.45,476.8 228.70,484.9 228.95,476.1 229.20,482.8 229.45,476.7 229.70,484.2 229.95,474.9 230.20,484.7 230.45,479.1 230.70,488.3 230.95,478.6 231.20,489.7 231.45,479.3 231.70,485.9 231.95,479.7 232.20,485.5 232.45,469.5 232.70,486.4 232.95,477.8 233.20,485.0 233.45,476.4 233.70,483.6 233.95,476.4 234.20,484.4 234.45,477.2 234.70,491.1 234.95,480.9 235.20,488.9 235.45,481.2 235.70,485.0 235.95,479.5 236.20,485.3 236.45,477.7 236.70,485.4 236.95,480.2 237.20,490.1 237.45,479.3 237.70,485.5 237.95,478.0 238.20,488.0 238.45,482.1 238.70,488.5 238.95,480.9 239.20,487.9 239.45,478.7 239.70,483.8 239.95,476.1 240.20,483.9 240.45,476.6 240.70,488.2 240.95,480.1 241.20,487.3 241.45,479.4 241.70,486.4 241.95,480.4 242.20,488.3 242.45,483.8 242.70,487.6 242.95,482.3 243.20,487.9 243.45,479.0 243.70,484.2 243.95,476.9 244.20,484.0 244.45,477.0 244.70,485.5 244.95,480.8 245.20,488.4 245.45,482.1 245.70,486.6 245.95,481.3 246.20,485.0 246.45,477.6 246.70,487.1 246.95,478.4 247.20,486.7 247.45,481.1 247.70,487.6 247.95,479.8 248.20,488.1 248.45,480.0 248.70,491.4 248.95,478.0 249.20,490.2 249.45,477.3 249.70,488.6 249.95,483.5 250.20,488.3 250.45,481.9 250.70,487.9 250.95,477.3 251.20,484.0 251.45,478.8 251.70,484.0 251.95,480.3 252.20,486.8 252.45,481.1 252.70,489.9 252.95,483.0 253.20,489.3 253.45,483.1 253.70,491.6 253.95,479.5 254.20,489.1 254.45,478.9 254.70,490.1 254.95,482.7 255.20,488.9 255.45,481.0 255.70,487.3 255.95,476.5 256.20,486.9 256.45,479.7 256.70,489.7 256.95,483.9 257.20,489.4 257.45,481.1 257.70,489.7 257.95,482.6 258.20,489.4 258.45,483.4 258.70,488.9 258.95,483.0 259.20,488.9 259.45,480.7 259.70,488.4 259.95,479.9 260.20,487.5 260.45,477.5 260.70,490.8 260.95,480.4 261.20,491.6 261.45,481.4 261.70,486.5 261.95,473.3 262.20,489.4 262.45,481.8 262.70,491.7 262.95,483.0 263.20,491.3 263.45,482.6 263.70,491.3 263.95,481.9 264.20,491.0 264.45,477.2 264.70,491.0 264.95,483.7 265.20,492.1 265.45,482.7 265.70,489.2 265.95,483.9 266.20,488.6 266.45,482.5 266.70,487.8 266.95,476.4 267.20,487.4 267.45,481.5 267.70,489.6 267.95,482.3 268.20,491.2 268.45,486.3 268.70,494.3 268.95,486.2 269.20,493.8 269.45,482.4 269.70,488.8 269.95,478.3 270.20,486.6 270.45,482.2 270.70,489.4 270.95,487.0 271.20,496.4 271.45,485.7 271.70,493.5 271.95,483.1 272.20,489.8 272.45,480.6 272.70,485.3 272.95,481.4 273.20,488.2 273.45,479.4 273.70,492.3 273.95,481.0 274.20,491.9 274.45,486.2 274.70,493.8 274.95,484.4 275.20,492.7 275.45,480.4 275.70,488.6 275.95,482.4 276.20,487.6 276.45,485.3 276.70,492.4 276.95,481.2 277.20,490.7 277.45,481.5 277.70,487.8 277.95,481.6 278.20,490.3 278.45,482.0 278.70,488.7 278.95,480.0 279.20,487.5 279.45,478.6 279.70,489.1 279.95,484.3 280.20,490.6 280.45,484.0 280.70,488.0 280.95,482.0 281.20,487.4 281.45,480.2 281.70,490.4 281.95,481.2 282.20,489.1 282.45,482.5 282.70,490.5 282.95,482.9 283.20,493.5 283.45,487.0 283.70,494.0 283.95,483.0 284.20,490.4 284.45,482.8 284.70,491.2 284.95,479.7 285.20,485.9 285.45,477.1 285.70,487.8 285.95,481.2 286.20,487.4 286.45,478.8 286.70,492.1 286.95,481.7 287.20,489.8 287.45,481.8 287.70,487.6 287.95,478.2 288.20,485.1 288.45,477.8 288.70,486.7 288.95,479.8 289.20,487.5 289.45,479.6 289.70,490.0 289.95,483.5 290.20,492.8 290.45,486.4 290.70,492.8 290.95,489.6 291.20,492.6 291.45,482.8 291.70,489.5 291.95,478.9 292.20,486.5 292.45,481.9 292.70,492.1 292.95,485.7 293.20,495.1 293.45,485.9 293.70,491.9 293.95,484.1 294.20,492.2 294.45,485.6 294.70,492.0 294.95,483.4 295.20,489.0 295.45,483.2 295.70,489.7 295.95,482.9 296.20,492.3 296.45,483.5 296.70,491.3 296.95,486.7 297.20,491.7 297.45,487.4 297.70,495.5 297.95,483.2 298.20,489.5 298.45,482.9 298.70,490.8 298.95,486.3 299.20,494.8 299.45,490.9 299.70,495.4 299.95,484.9 300.20,492.7 300.45,484.4 300.70,493.4 300.95,489.3 301.20,493.3 301.45,490.2 301.70,496.7 301.95,487.9 302.20,497.1 302.45,488.0 302.70,494.4 302.95,486.6 303.20,493.8 303.45,487.3 303.70,495.3 303.95,487.7 304.20,496.6 304.45,489.3 304.70,496.3 304.95,487.9 305.20,497.2 305.45,490.9 305.70,499.7 305.95,492.2 306.20,498.8 306.45,487.9 306.70,496.3 306.95,488.2 307.20,495.0 307.45,491.9 307.70,497.4 307.95,488.0 308.20,495.7 308.45,489.2 308.70,497.0 308.95,491.2 309.20,499.3 309.45,491.1 309.70,499.0 309.95,492.8 310.20,501.6 310.45,491.5 310.70,498.8 310.95,490.3 311.20,497.0 311.45,487.9 311.70,499.6 311.95,488.2 312.20,503.4 312.45,488.6 312.70,493.4 312.95,489.1 313.20,498.4 313.45,490.7 313.70,499.5 313.95,491.1 314.20,497.8 314.45,493.0 314.70,498.7 314.95,491.5 315.20,499.7 315.45,489.3 315.70,496.8 315.95,489.2 316.20,492.9 316.45,484.8 316.70,495.3 316.95,487.4 317.20,495.3 317.45,490.6 317.70,493.9 317.95,489.1 318.20,498.1 318.45,491.1 318.70,503.2 318.95,491.4 319.20,500.1 319.45,493.5 319.70,500.7 319.95,491.2 320.20,499.5 320.45,491.1 320.70,499.1 320.95,491.8 321.20,497.2 321.45,488.0 321.70,499.8 321.95,493.8 322.20,498.4 322.45,494.4 322.70,499.7 322.95,490.4 323.20,497.6 323.45,489.9 323.70,493.7 323.95,491.2 324.20,497.9 324.45,488.4 324.70,497.8 324.95,492.1 325.20,500.8 325.45,493.5 325.70,502.1 325.95,496.5 326.20,509.9 326.45,493.8 326.70,501.7 326.95,496.7 327.20,502.0 327.45,497.8 327.70,508.1 327.95,500.9 328.20,510.2 328.45,503.4 328.70,508.2 328.95,499.1 329.20,511.6 329.45,500.5 329.70,507.5 329.95,503.8 330.20,512.3 330.45,505.2 330.70,512.4 330.95,507.0 331.20,516.1 331.45,508.6 331.70,520.7 331.95,510.8 332.20,528.1 332.45,524.7 332.70,531.9 332.95,524.9 333.20,530.8 333.45,523.7 333.70,534.8 333.95,526.6 334.20,539.6 334.45,532.1 334.70,537.0 334.95,526.9 335.20,534.7 335.45,528.9 335.70,543.1 335.95,534.3 336.20,547.4 336.45,540.4 336.70,549.7 336.95,540.6 337.20,556.2 337.45,551.4 337.70,571.5 337.95,562.2 338.20,580.8 338.45,570.8 338.70,591.1 338.95,560.3 339.20,587.6 339.45,562.9 339.70,591.2 339.95,567.1 340.20,601.7 340.45,591.5 340.70,619.3 340.95,602.6 341.20,624.4 341.45,625.0 341.70,615.8 341.95,607.1 342.20,614.3 342.45,569.2 342.70,617.1 342.95,583.8 343.20,616.7 343.45,581.1 343.70,630.6 343.95,593.7 344.20,618.7 344.45,585.2 344.70,618.2 344.95,610.4 345.20,621.5 345.45,632.5 345.70,631.3 345.95,610.6 346.20,631.5 346.45,589.6 346.70,619.7 346.95,580.0 347.20,620.2 347.45,590.9 347.70,627.9 347.95,596.1 348.20,632.1 348.45,599.5 348.70,632.2 348.95,608.0 349.20,629.4 349.45,622.0 349.70,618.1 349.95,607.7 350.20,616.8 350.45,582.6 350.70,614.2 350.95,589.7 351.20,619.1 351.45,577.5 351.70,595.9 351.95,568.3 352.20,579.6 352.45,559.0 352.70,574.4 352.95,554.4 353.20,565.5 353.45,550.5 353.70,557.2 353.95,541.5 354.20,559.4 354.45,537.1 354.70,536.0 354.95,523.5 355.20,522.4 355.45,513.7 355.70,519.6 355.95,511.4 356.20,516.1 356.45,504.6 356.70,503.3 356.95,490.9 357.20,496.4 357.45,487.4 357.70,492.2 357.95,483.7 358.20,487.3 358.45,477.4 358.70,483.0 358.95,474.4 359.20,479.2 359.45,471.3 359.70,476.8 359.95,464.6 360.20,472.2 360.45,463.7 360.70,470.2 360.95,463.3 361.20,471.4 361.45,460.8 361.70,468.9 361.95,459.4 362.20,464.0 362.45,458.0 362.70,464.6 362.95,458.0 363.20,469.8 363.45,459.3 363.70,464.6 363.95,459.9 364.20,465.6 364.45,457.0 364.70,469.4 364.95,457.7 365.20,466.3 365.45,462.4 365.70,468.7 365.95,462.7 366.20,468.8 366.45,460.8 366.70,469.0 366.95,458.9 367.20,467.5 367.45,456.1 367.70,464.3 367.95,459.2 368.20,468.5 368.45,460.5 368.70,469.2 368.95,461.3 369.20,467.4 369.45,462.0 369.70,468.3 369.95,461.4 370.20,468.3 370.45,459.8 370.70,468.8 370.95,461.4 371.20,469.7 371.45,462.6 371.70,469.4 371.95,459.2 372.20,468.7 372.45,460.1 372.70,481.3 372.95,463.0 373.20,470.8 373.45,464.3 373.70,470.1 373.95,459.4 374.20,469.0 374.45,456.7 374.70,468.7 374.95,459.3 375.20,470.0 375.45,458.6 375.70,466.9 375.95,461.9 376.20,468.4 376.45,462.8 376.70,470.5 376.95,463.7 377.20,471.7 377.45,463.7 377.70,471.9 377.95,467.1 378.20,477.2 378.45,469.5 378.70,475.7 378.95,466.7 379.20,474.2 379.45,466.4 379.70,473.3 379.95,462.8 380.20,472.0 380.45,461.7 380.70,471.5 380.95,463.4 381.20,470.2 381.45,466.4 381.70,471.3 381.95,466.3 382.20,475.3 382.45,464.0 382.70,476.6 382.95,467.0 383.20,474.7 383.45,469.5 383.70,475.8 383.95,468.1 384.20,481.1 384.45,461.0 384.70,475.3 384.95,469.8 385.20,477.5 385.45,469.8 385.70,477.6 385.95,471.1 386.20,480.2 386.45,472.4 386.70,477.2 386.95,469.9 387.20,477.6 387.45,472.4 387.70,481.6 387.95,472.8 388.20,481.9 388.45,474.1 388.70,479.5 388.95,474.9 389.20,481.9 389.45,475.4 389.70,483.8 389.95,477.1 390.20,486.5 390.45,473.0 390.70,481.2 390.95,470.6 391.20,478.5 391.45,470.9 391.70,483.0 391.95,471.5 392.20,480.6 392.45,474.9 392.70,482.5 392.95,477.0 393.20,481.3 393.45,471.5 393.70,479.3 393.95,472.9 394.20,480.3 394.45,472.3 394.70,478.4 394.95,472.5 395.20,483.5 395.45,479.9 395.70,484.8 395.95,473.4 396.20,479.3 396.45,474.4 396.70,483.6 396.95,478.1 397.20,483.1 397.45,475.4 397.70,482.3 397.95,474.7 398.20,481.6 398.45,478.2 398.70,484.9 398.95,479.3 399.20,488.1 399.45,478.4 399.70,487.9 399.95,479.4 400.20,481.2 400.45,472.0 400.70,480.5 400.95,472.3 401.20,481.1 401.45,473.4 401.70,479.8 401.95,475.1 402.20,482.2 402.45,474.7 402.70,485.0 402.95,479.5 403.20,484.8 403.45,478.3 403.70,487.7 403.95,477.4 404.20,485.3 404.45,476.3 404.70,480.7 404.95,473.6 405.20,483.6 405.45,475.1 405.70,484.1 405.95,475.9 406.20,479.5 406.45,477.2 406.70,483.3 406.95,479.0 407.20,490.7 407.45,481.2 407.70,492.2 407.95,483.1 408.20,486.5 408.45,478.1 408.70,482.5 408.95,475.7 409.20,484.3 409.45,476.7 409.70,485.5 409.95,476.4 410.20,490.8 410.45,478.3 410.70,489.1 410.95,480.6 411.20,488.4 411.45,481.8 411.70,488.3 411.95,476.5 412.20,489.1 412.45,484.0 412.70,488.6 412.95,481.7 413.20,490.4 413.45,485.0 413.70,493.3 413.95,488.0 414.20,493.0 414.45,485.9 414.70,490.9 414.95,485.5 415.20,490.7 415.45,487.9 415.70,494.6 415.95,487.6 416.20,494.3 416.45,483.5 416.70,499.4 416.95,479.3 417.20,493.5 417.45,487.4 417.70,492.8 417.95,486.1 418.20,494.1 418.45,486.2 418.70,494.0 418.95,487.0 419.20,494.5 419.45,487.7 419.70,494.5 419.95,485.5 420.20,494.1 420.45,487.1 420.70,491.9 420.95,485.1 421.20,491.1 421.45,482.3 421.70,498.4 421.95,488.8 422.20,493.3 422.45,486.7 422.70,491.6 422.95,486.8 423.20,494.6 423.45,491.0 423.70,498.9 423.95,489.0 424.20,498.7 424.45,485.8 424.70,491.2 424.95,485.2 425.20,489.2 425.45,483.3 425.70,489.2 425.95,484.3 426.20,494.9 426.45,484.3 426.70,492.3 426.95,478.0 427.20,491.3 427.45,484.4 427.70,492.9 427.95,487.5 428.20,497.6 428.45,489.9 428.70,498.3 428.95,489.0 429.20,494.0 429.45,486.2 429.70,492.0 429.95,487.4 430.20,493.1 430.45,488.9 430.70,494.8 430.95,485.6 431.20,496.1 431.45,485.8 431.70,496.3 431.95,488.3 432.20,495.2 432.45,488.6 432.70,493.9 432.95,484.8 433.20,490.9 433.45,487.0 433.70,496.2 433.95,487.2 434.20,495.5 434.45,482.2 434.70,493.2 434.95,484.4 435.20,492.1 435.45,483.3 435.70,492.9 435.95,498.5 436.20,509.3 436.45,520.0 436.70,509.2 436.95,498.5 437.20,493.8 437.45,487.3 437.70,491.6 437.95,484.8 438.20,492.0 438.45,485.3 438.70,488.1 438.95,481.6 439.20,489.8 439.45,485.0 439.70,494.5 439.95,486.1 440.20,493.6 440.45,486.4 440.70,497.5 440.95,486.1 441.20,491.5 441.45,485.1 441.70,498.1 441.95,480.2 442.20,495.6 442.45,484.4 442.70,492.9 442.95,484.8 443.20,490.2 443.45,484.8 443.70,490.6 443.95,483.7 444.20,492.5 444.45,486.0 444.70,495.4 444.95,483.7 445.20,496.6 445.45,484.2 445.70,494.9 445.95,487.3 446.20,493.0 446.45,484.1 446.70,489.7 446.95,482.4 447.20,493.1 447.45,489.3 447.70,495.3 447.95,487.4 448.20,494.8 448.45,484.0 448.70,496.7 448.95,487.5 449.20,493.4 449.45,484.7 449.70,491.8 449.95,482.3 450.20,490.8 450.45,480.6 450.70,491.3 450.95,486.5 451.20,491.1 451.45,487.2 451.70,494.7 451.95,486.1 452.20,495.2 452.45,482.0 452.70,494.0 452.95,483.9 453.20,490.9 453.45,479.3 453.70,489.2 453.95,483.9 454.20,490.5 454.45,484.7 454.70,493.2 454.95,486.6 455.20,491.4 455.45,485.0 455.70,489.6 455.95,480.7 456.20,491.8 456.45,485.2 456.70,494.5 456.95,484.4 457.20,491.7 457.45,484.5 457.70,492.6 457.95,485.4 458.20,490.7 458.45,485.5 458.70,494.3 458.95,486.4 459.20,498.2 459.45,488.7 459.70,498.2 459.95,485.8 460.20,492.1 460.45,485.0 460.70,492.9 460.95,488.0 461.20,497.4 461.45,488.3 461.70,492.2 461.95,486.4 462.20,490.7 462.45,482.9 462.70,491.8 462.95,483.3 463.20,490.8 463.45,484.7 463.70,492.4 463.95,483.5 464.20,492.2 464.45,484.7 464.70,491.0 464.95,484.9 465.20,491.3 465.45,483.5 465.70,493.2 465.95,480.6 466.20,491.7 466.45,488.3 466.70,492.7 466.95,485.0 467.20,491.1 467.45,484.8 467.70,494.0 467.95,484.6 468.20,491.7 468.45,485.5 468.70,491.9 468.95,474.1 469.20,491.8 469.45,484.7 469.70,492.9 469.95,486.3 470.20,491.8 470.45,484.3 470.70,492.8 470.95,487.0 471.20,496.2 471.45,489.8 471.70,492.7 471.95,482.8 472.20,494.7 472.45,485.5 472.70,493.4 472.95,486.0 473.20,490.2 473.45,481.9 473.70,490.2 473.95,484.4 474.20,493.9 474.45,489.3 474.70,494.3 474.95,486.9 475.20,490.8 475.45,485.8 475.70,495.6 475.95,483.6 476.20,492.7 476.45,484.0 476.70,491.8 476.95,484.6 477.20,493.3 477.45,485.0 477.70,494.3 477.95,487.0 478.20,493.3 478.45,489.1 478.70,497.8 478.95,486.6 479.20,491.1 479.45,483.8 479.70,491.5 479.95,484.8 480.20,494.6 480.45,486.8 480.70,495.8 480.95,485.8 481.20,494.8 481.45,487.0 481.70,494.3 481.95,486.9 482.20,494.2 482.45,483.3 482.70,493.0 482.95,487.4 483.20,493.8 483.45,487.7 483.70,495.2 483.95,488.7 484.20,498.2 484.45,491.2 484.70,498.3 484.95,488.2 485.20,496.8 485.45,491.5 485.70,496.9 485.95,490.3 486.20,499.0 486.45,486.4 486.70,497.5 486.95,489.3 487.20,493.8 487.45,491.5 487.70,501.2 487.95,491.0 488.20,498.8 488.45,491.6 488.70,495.1 488.95,490.6 489.20,496.2 489.45,488.2 489.70,494.3 489.95,487.2 490.20,493.6 490.45,487.9 490.70,496.6 490.95,489.9 491.20,497.6 491.45,490.0 491.70,501.1 491.95,494.3 492.20,502.3 492.45,493.2 492.70,502.0 492.95,493.8 493.20,507.3 493.45,497.4 493.70,504.4 493.95,498.2 494.20,509.2 494.45,501.5 494.70,508.6 494.95,505.5 495.20,515.9 495.45,510.4 495.70,523.2 495.95,518.0 496.20,525.5 496.45,520.6 496.70,532.2 496.95,524.9 497.20,532.4 497.45,523.1 497.70,534.2 497.95,520.7 498.20,532.0 498.45,524.9 498.70,539.4 498.95,536.3 499.20,547.1 499.45,536.9 499.70,552.3 499.95,539.0 500.20,550.3 500.45,541.6 500.70,551.8 500.95,541.0 501.20,553.9 501.45,544.4 501.70,555.7 501.95,546.6 502.20,557.0 502.45,544.0 502.70,560.8 502.95,543.5 503.20,559.9 503.45,547.7 503.70,562.6 503.95,554.1 504.20,572.0 504.45,558.3 504.70,575.9 504.95,564.3 505.20,583.2 505.45,565.2 505.70,589.2 505.95,571.1 506.20,593.7 506.45,593.5 506.70,607.3 506.95,620.0 507.20,608.3 507.45,597.6 507.70,596.2 507.95,568.5 508.20,600.9 508.45,574.3 508.70,602.4 508.95,579.6 509.20,608.0 509.45,567.7 509.70,597.7 509.95,574.2 510.20,595.5 510.45,568.7 510.70,605.2 510.95,586.8 511.20,617.0 511.45,599.0 511.70,616.2 511.95,618.0 512.20,611.4 512.45,599.2 512.70,601.6 512.95,578.7 513.20,615.9 513.45,591.7 513.70,607.2 513.95,582.6 514.20,614.3 514.45,605.2 514.70,620.9 514.95,636.6 515.20,620.9 515.45,605.3 515.70,603.9 515.95,584.8 516.20,612.4 516.45,571.9 516.70,614.2 516.95,586.9 517.20,610.2 517.45,544.3 517.70,590.3 517.95,557.1 518.20,579.5 518.45,549.8 518.70,571.1 518.95,549.1 519.20,561.0 519.45,548.2 519.70,559.3 519.95,539.1 520.20,553.6 520.45,540.8 520.70,551.7 520.95,528.9 521.20,538.8 521.45,524.8 521.70,525.0 521.95,512.3 522.20,519.0 522.45,506.6 522.70,512.4 522.95,502.2 523.20,505.1 523.45,495.6 523.70,499.1 523.95,490.1 524.20,494.9 524.45,483.5 524.70,487.4 524.95,475.1 525.20,478.3 525.45,472.3 525.70,476.7 525.95,467.5 526.20,478.8 526.45,468.1 526.70,475.7 526.95,462.7 527.20,468.0 527.45,461.2 527.70,469.9 527.95,464.2 528.20,471.9 528.45,459.8 528.70,468.8 528.95,460.7 529.20,465.0 529.45,458.9 529.70,465.0 529.95,458.5 530.20,469.1 530.45,460.8 530.70,468.5 530.95,458.8 531.20,461.3 531.45,455.1 531.70,468.8 531.95,458.9 532.20,465.1 532.45,456.0 532.70,461.3 532.95,455.0 533.20,463.8 533.45,455.8 533.70,463.9 533.95,458.6 534.20,465.1 534.45,457.7 534.70,464.4 534.95,456.7 535.20,464.8 535.45,451.0 535.70,465.9 535.95,459.6 536.20,476.6 536.45,459.6 536.70,465.4 536.95,460.8 537.20,468.0 537.45,460.5 537.70,470.8 537.95,460.3 538.20,470.0 538.45,461.3 538.70,467.9 538.95,461.6 539.20,468.2 539.45,459.0 539.70,468.9 539.95,458.2 540.20,466.0 540.45,459.0 540.70,468.2 540.95,459.4 541.20,470.0 541.45,459.6 541.70,468.6 541.95,457.8 542.20,464.7 542.45,457.3 542.70,465.7 542.95,461.2 543.20,471.4 543.45,464.8 543.70,475.3 543.95,460.5 544.20,474.2 544.45,467.1 544.70,476.4 544.95,468.1 545.20,475.7 545.45,468.5 545.70,474.8 545.95,467.0 546.20,474.2 546.45,468.8 546.70,474.5 546.95,472.2 547.20,477.7 547.45,470.1 547.70,479.4 547.95,473.8 548.20,478.3 548.45,472.7 548.70,482.4 548.95,475.6 549.20,485.2 549.45,477.7 549.70,484.2 549.95,474.3 550.20,480.6 550.45,474.1 550.70,483.4 550.95,475.8 551.20,483.2 551.45,479.8 551.70,490.9 551.95,482.6 552.20,487.7 552.45,480.5 552.70,486.9 552.95,479.1 553.20,496.9 553.45,483.1 553.70,487.3 553.95,481.8 554.20,488.3 554.45,482.8 554.70,490.9 554.95,482.0 555.20,492.4 555.45,483.1 555.70,488.9 555.95,482.0 556.20,487.1 556.45,478.5 556.70,488.5 556.95,481.5 557.20,491.1 557.45,480.9 557.70,489.8 557.95,479.8 558.20,487.6 558.45,483.3 558.70,488.4 558.95,483.9 559.20,488.4 559.45,481.6 559.70,488.4 559.95,481.6 560.20,486.3 560.45,475.4 560.70,484.1 560.95,477.0 561.20,485.4 561.45,479.5 561.70,488.3 561.95,480.9 562.20,490.1 562.45,480.5 562.70,486.3 562.95,476.4 563.20,482.6 563.45,475.6 563.70,485.6 563.95,478.8 564.20,487.6 564.45,482.8 564.70,488.9 564.95,480.6 565.20,485.3 565.45,475.6 565.70,486.1 565.95,478.5 566.20,490.8 566.45,482.6 566.70,489.4 566.95,482.7 567.20,491.7 567.45,482.8 567.70,489.2 567.95,479.8 568.20,487.7 568.45,481.1 568.70,491.2 568.95,483.9 569.20,486.7 569.45,482.0 569.70,486.2 569.95,474.6 570.20,485.8 570.45,481.0 570.70,490.8 570.95,482.0 571.20,490.0 571.45,481.8 571.70,491.5 571.95,478.3 572.20,490.7 572.45,483.8 572.70,488.2 572.95,483.6 573.20,492.4 573.45,482.6 573.70,489.9 573.95,480.8 574.20,492.1 574.45,484.9 574.70,491.8 574.95,485.2 575.20,490.3 575.45,483.1 575.70,492.8 575.95,486.0 576.20,490.8 576.45,482.2 576.70,491.0 576.95,478.6 577.20,487.3 577.45,478.8 577.70,485.9 577.95,480.4 578.20,487.2 578.45,481.2 578.70,488.5 578.95,481.4 579.20,492.3 579.45,484.9 579.70,490.1 579.95,485.6 580.20,491.4 580.45,483.6 580.70,493.2 580.95,485.6 581.20,494.9 581.45,484.4 581.70,488.6 581.95,480.2 582.20,491.6 582.45,481.9 582.70,491.1 582.95,483.8 583.20,492.0 583.45,483.7 583.70,491.2 583.95,484.6 584.20,488.8 584.45,481.4 584.70,490.5 584.95,485.8 585.20,490.0 585.45,484.1 585.70,492.0 585.95,482.6 586.20,486.2 586.45,481.3 586.70,489.2 586.95,485.7 587.20,493.7 587.45,486.0 587.70,493.8 587.95,483.5 588.20,492.7 588.45,485.5 588.70,490.7 588.95,483.2 589.20,490.1 589.45,483.8 589.70,490.7 589.95,486.8 590.20,497.1 590.45,490.0 590.70,497.4 590.95,485.6 591.20,495.2 591.45,487.7 591.70,493.2 591.95,491.7 592.20,496.0 592.45,491.5 592.70,497.1 592.95,487.3 593.20,494.9 593.45,484.7 593.70,492.0 593.95,485.5 594.20,490.7 594.45,481.2 594.70,491.9 594.95,481.8 595.20,492.0 595.45,486.6 595.70,492.5 595.95,490.2 596.20,496.1 596.45,487.9 596.70,496.9 596.95,489.7 597.20,496.6 597.45,488.8 597.70,496.3 597.95,487.3 598.20,496.0 598.45,487.3 598.70,495.6 598.95,488.2 599.20,493.2 599.45,487.7 599.70,493.4 599.95,488.2 600.20,495.3 600.45,488.9 600.70,496.4 600.95,490.8 601.20,499.1 601.45,489.4 601.70,496.9 601.95,487.3 602.20,492.9 602.45,488.9 602.70,493.4 602.95,488.8 603.20,492.8 603.45,485.1 603.70,497.0 603.95,484.2 604.20,494.7 604.45,488.7 604.70,494.4 604.95,488.6 605.20,494.2 605.45,486.2 605.70,495.6 605.95,490.1 606.20,497.0 606.45,492.6 606.70,501.8 606.95,490.9 607.20,496.7 607.45,489.5 607.70,497.4 607.95,489.2 608.20,496.0 608.45,492.6 608.70,499.6 608.95,488.5 609.20,501.4 609.45,493.2 609.70,500.4 609.95,495.7 610.20,501.6 610.45,494.8 610.70,500.6 610.95,491.9 611.20,498.3 611.45,491.1 611.70,498.0 611.95,492.3 612.20,496.2 612.45,490.4 612.70,500.2 612.95,491.8 613.20,503.9 613.45,496.9 613.70,502.6 613.95,492.5 614.20,498.8 614.45,489.9 614.70,496.1 614.95,490.9 615.20,499.3 615.45,493.9 615.70,502.4 615.95,494.5 616.20,499.0 616.45,492.9 616.70,501.3 616.95,496.5 617.20,501.5 617.45,495.9 617.70,500.4 617.95,494.8 618.20,504.1 618.45,496.1 618.70,502.2 618.95,490.5 619.20,499.6 619.45,491.9 619.70,499.1 619.95,492.8 620.20,506.8 620.45,492.0 620.70,503.4 620.95,497.5 621.20,504.9 621.45,495.7 621.70,502.2 621.95,493.9 622.20,503.2 622.45,497.2 622.70,504.1 622.95,497.7 623.20,506.7 623.45,497.5 623.70,503.9 623.95,495.8 624.20,502.0 624.45,493.7 624.70,502.4 624.95,489.5 625.20,505.9 625.45,496.1 625.70,506.0 625.95,500.9 626.20,506.3 626.45,495.5 626.70,503.5 626.95,495.0 627.20,503.8 627.45,497.8 627.70,506.5 627.95,498.4 628.20,513.0 628.45,497.6 628.70,505.1 628.95,498.2 629.20,503.8 629.45,495.8 629.70,505.1 629.95,497.2 630.20,506.6 630.45,498.1 630.70,506.2 630.95,498.6 631.20,507.1 631.45,499.5 631.70,508.4 631.95,490.6 632.20,504.3 632.45,494.4 632.70,506.1 632.95,498.2 633.20,506.9 633.45,501.5 633.70,508.0 633.95,498.0 634.20,505.7 634.45,496.3 634.70,503.0 634.95,496.1 635.20,503.4 635.45,498.1 635.70,506.1 635.95,498.6 636.20,504.6 636.45,500.1 636.70,507.0 636.95,498.0 637.20,508.0 637.45,498.2 637.70,504.5 637.95,497.4 638.20,502.3 638.45,494.0 638.70,506.3 638.95,499.9 639.20,508.2 639.45,501.1 639.70,507.0 639.95,498.0 640.20,502.8 640.45,498.8 640.70,503.6 640.95,495.5 641.20,503.4 641.45,494.1 641.70,504.1 641.95,499.4 642.20,506.3 642.45,497.4 642.70,505.4 642.95,495.7 643.20,502.2 643.45,493.1 643.70,498.1 643.95,488.8 644.20,501.1 644.45,492.3 644.70,500.3 644.95,494.0 645.20,501.4 645.45,496.6 645.70,505.7 645.95,497.3 646.20,502.7 646.45,492.3 646.70,497.3 646.95,493.0 647.20,500.8 647.45,488.7 647.70,503.0 647.95,494.9 648.20,502.8 648.45,496.1 648.70,501.4 648.95,490.9 649.20,501.4 649.45,492.3 649.70,497.1 649.95,493.9 650.20,499.8 650.45,493.4 650.70,502.7 650.95,495.5 651.20,505.5 651.45,496.8 651.70,506.9 651.95,493.5 652.20,499.5 652.45,493.5 652.70,498.8 652.95,494.7 653.20,503.0 653.45,495.0 653.70,499.9 653.95,493.8 654.20,499.8 654.45,491.3 654.70,496.8 654.95,489.0 655.20,495.5 655.45,490.9 655.70,500.0 655.95,491.8 656.20,499.0 656.45,491.7 656.70,496.6 656.95,490.6 657.20,499.7 657.45,490.8 657.70,500.8 657.95,492.6 658.20,495.9 658.45,489.2 658.70,492.8 658.95,489.6 659.20,495.3 659.45,488.2 659.70,497.5 659.95,491.8 660.20,499.3 660.45,492.8 660.70,501.9 660.95,495.8 661.20,503.8 661.45,496.6 661.70,506.9 661.95,503.7 662.20,510.1 662.45,505.6 662.70,517.9 662.95,512.7 663.20,523.6 663.45,517.9 663.70,531.3 663.95,522.2 664.20,531.8 664.45,526.5 664.70,536.1 664.95,527.9 665.20,542.6 665.45,531.8 665.70,542.5 665.95,532.9 666.20,544.8 666.45,540.0 666.70,550.0 666.95,541.0 667.20,554.6 667.45,547.0 667.70,556.3 667.95,553.1 668.20,564.3 668.45,548.9 668.70,558.7 668.95,553.8 669.20,573.5 669.45,561.5 669.70,589.2 669.95,567.0 670.20,595.4 670.45,570.5 670.70,596.7 670.95,579.0 671.20,613.8 671.45,583.8 671.70,610.4 671.95,588.8 672.20,612.0 672.45,595.6 672.70,617.1 672.95,612.0 673.20,617.4 673.45,596.0 673.70,601.2 673.95,584.6 674.20,615.0 674.45,577.9 674.70,605.8 674.95,582.0 675.20,608.3 675.45,574.8 675.70,611.4 675.95,578.1 676.20,606.9 676.45,579.5 676.70,610.3 676.95,581.8 677.20,609.3 677.45,615.4 677.70,628.4 677.95,615.5 678.20,607.6 678.45,573.5 678.70,607.4 678.95,569.5 679.20,600.9 679.45,573.0 679.70,600.6 679.95,571.4 680.20,596.0 680.45,568.2 680.70,588.5 680.95,570.2 681.20,583.2 681.45,552.6 681.70,562.7 681.95,540.4 682.20,550.4 682.45,534.9 682.70,546.5 682.95,536.7 683.20,545.4 683.45,535.4 683.70,542.6 683.95,534.6 684.20,542.5 684.45,531.5 684.70,536.3 684.95,521.2 685.20,534.5 685.45,528.3 685.70,530.8 685.95,523.7 686.20,527.3 686.45,515.4 686.70,521.1 686.95,510.3 687.20,515.7 687.45,507.7 687.70,513.4 687.95,505.7 688.20,511.5 688.45,503.4 688.70,505.5 688.95,496.3 689.20,503.3 689.45,491.8 689.70,495.9 689.95,487.8 690.20,493.3 690.45,482.5 690.70,488.2 690.95,481.4 691.20,487.8 691.45,478.3 691.70,485.3 691.95,471.9 692.20,479.1 692.45,470.0 692.70,474.6 692.95,468.2 693.20,471.6 693.45,462.1 693.70,465.0 693.95,455.3 694.20,459.6 694.45,453.0 694.70,464.9 694.95,456.8 695.20,463.8 695.45,449.5 695.70,462.4 695.95,455.2 696.20,461.4 696.45,454.4 696.70,460.0 696.95,453.2 697.20,458.9 697.45,452.0 697.70,458.6 697.95,448.8 698.20,455.8 698.45,449.6 698.70,460.0 698.95,452.1 699.20,464.4 699.45,457.4 699.70,465.6 699.95,456.6 700.20,462.4 700.45,453.1 700.70,459.7 700.95,454.5 701.20,461.4 701.45,457.0 701.70,462.8 701.95,456.1 702.20,464.4 702.45,458.7 702.70,465.2 702.95,460.7 703.20,469.0 703.45,457.6 703.70,464.1 703.95,456.3 704.20,464.9 704.45,457.0 704.70,466.6 704.95,457.6 705.20,468.1 705.45,460.7 705.70,465.1 705.95,458.8 706.20,466.5 706.45,463.0 706.70,470.3 706.95,463.0 707.20,469.5 707.45,462.6 707.70,466.6 707.95,463.7 708.20,467.9 708.45,461.0 708.70,466.2 708.95,457.2 709.20,464.2 709.45,457.1 709.70,466.2 709.95,456.5 710.20,467.5 710.45,459.4 710.70,471.3 710.95,464.1 711.20,468.7 711.45,460.8 711.70,464.9 711.95,457.2 712.20,464.3 712.45,461.2 712.70,471.7 712.95,464.9 713.20,477.7 713.45,466.2 713.70,473.3 713.95,465.2 714.20,472.6 714.45,466.6 714.70,473.7 714.95,469.1 715.20,473.6 715.45,463.8 715.70,474.4 715.95,467.5 716.20,476.9 716.45,466.9 716.70,475.1 716.95,468.6 717.20,474.5 717.45,468.4 717.70,476.0 717.95,467.6 718.20,476.0 718.45,463.3 718.70,473.8 718.95,470.9 719.20,479.9 719.45,469.3 719.70,480.5 719.95,473.3 720.20,478.3 720.45,465.3 720.70,478.9 720.95,472.8 721.20,481.4 721.45,472.0 721.70,480.2 721.95,471.9 722.20,480.5 722.45,471.2 722.70,486.4 722.95,472.0 723.20,481.6 723.45,472.6 723.70,480.4 723.95,471.7 724.20,479.4 724.45,471.8 724.70,483.1 724.95,474.0 725.20,485.5 725.45,476.7 725.70,484.3 725.95,476.2 726.20,484.8 726.45,477.9 726.70,485.4 726.95,472.1 727.20,492.2 727.45,475.8 727.70,485.0 727.95,477.0 728.20,483.7 728.45,476.6 728.70,480.6 728.95,477.1 729.20,485.6 729.45,479.5 729.70,487.5 729.95,478.0 730.20,485.1 730.45,476.1 730.70,483.3 730.95,475.8 731.20,483.0 731.45,478.4 731.70,491.6 731.95,482.8 732.20,489.6 732.45,473.6 732.70,487.7 732.95,478.7 733.20,485.2 733.45,480.9 733.70,487.8 733.95,479.1 734.20,489.2 734.45,478.3 734.70,485.9 734.95,480.6 735.20,490.7 735.45,481.5 735.70,488.7 735.95,486.3 736.20,489.3 736.45,483.2 736.70,492.3 736.95,480.9 737.20,490.4 737.45,482.9 737.70,491.7 737.95,484.5 738.20,493.1 738.45,488.0 738.70,497.0 738.95,489.6 739.20,496.5 739.45,485.9 739.70,495.3 739.95,486.0 740.20,496.0 740.45,485.7 740.70,497.7 740.95,492.2 741.20,499.8 741.45,491.0 741.70,496.3 741.95,490.1 742.20,492.1 742.45,485.0 742.70,493.3 742.95,483.8 743.20,491.9 743.45,484.7 743.70,493.1 743.95,488.1 744.20,495.4 744.45,487.8 744.70,495.6 744.95,486.8 745.20,494.0 745.45,489.9 745.70,497.7 745.95,489.2 746.20,497.6 746.45,487.8 746.70,494.3 746.95,485.1 747.20,493.4 747.45,486.3 747.70,494.8 747.95,488.0 748.20,496.3 748.45,489.1 748.70,496.5 748.95,488.2 749.20,497.2 749.45,491.1 749.70,500.3 749.95,492.1 750.20,496.8 750.45,487.2 750.70,493.0 750.95,488.4 751.20,494.1 751.45,489.8 751.70,500.3 751.95,492.2 752.20,499.6 752.45,492.1 752.70,495.7 752.95,488.7 753.20,501.2 753.45,489.8 753.70,495.8 753.95,487.2 754.20,492.7 754.45,486.5 754.70,492.3 754.95,487.0 755.20,493.9 755.45,488.6 755.70,496.3 755.95,489.6 756.20,496.2 756.45,488.8 756.70,495.5 756.95,488.9 757.20,497.6 757.45,486.2 757.70,495.4 757.95,488.1 758.20,493.4 758.45,487.5 758.70,495.2 758.95,481.6 759.20,495.0 759.45,488.2 759.70,498.1 759.95,489.3 760.20,492.3 760.45,488.1 760.70,494.9 760.95,487.3 761.20,497.8 761.45,496.3 761.70,501.2 761.95,495.2 762.20,507.7 762.45,492.1 762.70,501.9 762.95,493.1 763.20,498.0 763.45,492.1 763.70,501.9 763.95,495.1 764.20,501.5 764.45,495.1 764.70,499.0 764.95,492.2 765.20,499.7 765.45,492.4 765.70,498.6 765.95,494.6 766.20,503.3 766.45,496.1 766.70,505.3 766.95,494.6 767.20,504.5 767.45,493.6 767.70,499.2 767.95,491.1 768.20,498.4 768.45,492.6 768.70,498.8 768.95,493.2 769.20,499.1 769.45,492.4 769.70,502.5 769.95,495.5 770.20,502.7 770.45,498.3 770.70,504.7 770.95,500.2 771.20,504.3 771.45,497.5 771.70,507.0 771.95,498.1 772.20,507.1 772.45,501.2 772.70,510.7 772.95,503.2 773.20,511.4 773.45,506.5 773.70,514.3 773.95,508.7 774.20,520.8 774.45,509.2 774.70,520.1 774.95,515.1 775.20,520.0 775.45,511.3 775.70,518.8 775.95,512.8 776.20,520.7 776.45,521.5 776.70,530.5 776.95,522.6 777.20,532.1 777.45,528.7 777.70,537.3 777.95,531.4 778.20,541.2 778.45,534.3 778.70,540.8 778.95,533.6 779.20,544.8 779.45,539.4 779.70,552.9 779.95,544.4 780.20,554.2 780.45,538.4 780.70,551.2 780.95,546.6 781.20,555.7 781.45,545.7 781.70,570.3 781.95,559.6 782.20,574.6 782.45,561.4 782.70,576.8 782.95,570.3 783.20,585.1 783.45,576.0 783.70,601.1 783.95,586.5 784.20,610.8 784.45,585.1 784.70,609.6 784.95,598.4 785.20,605.4 785.45,612.0 785.70,605.5 785.95,599.0 786.20,604.8 786.45,587.1 786.70,622.8 786.95,583.2 787.20,611.0 787.45,574.3 787.70,604.0 787.95,603.9 788.20,615.1 788.45,626.3 788.70,615.2 788.95,604.2 789.20,610.4 789.45,587.2 789.70,614.9 789.95,576.9 790.20,611.4 790.45,569.7 790.70,599.1 790.95,551.8 791.20,614.7 791.45,588.7 791.70,605.6 791.95,566.2 792.20,587.8 792.45,564.3 792.70,571.7 792.95,555.1 793.20,565.1 793.45,545.4 793.70,559.3 793.95,546.6 794.20,553.8 794.45,540.5 794.70,541.2 794.95,522.7 795.20,535.9 795.45,518.4 795.70,523.3 795.95,515.0 796.20,519.1 796.45,506.7 796.70,516.5 796.95,507.0 797.20,514.0 797.45,504.6 797.70,511.6 797.95,501.5 798.20,504.9 798.45,492.1 798.70,496.0 798.95,487.3 799.20,492.8 799.45,483.1 799.70,490.3 799.95,481.0 800.20,488.2 800.45,479.7 800.70,483.4 800.95,472.7 801.20,477.7 801.45,466.3 801.70,472.2 801.95,465.6 802.20,476.0 802.45,469.3 802.70,474.2 802.95,468.6 803.20,476.0 803.45,468.2 803.70,475.0 803.95,462.2 804.20,468.6 804.45,461.6 804.70,468.8 804.95,460.8 805.20,468.5 805.45,462.3 805.70,467.5 805.95,459.4 806.20,465.0 806.45,457.1 806.70,462.9 806.95,457.9 807.20,465.7 807.45,459.6 807.70,466.7 807.95,456.7 808.20,463.0 808.45,459.7 808.70,465.8 808.95,457.8 809.20,466.7 809.45,457.2 809.70,465.1 809.95,456.1 810.20,464.5 810.45,455.7 810.70,465.7 810.95,457.2 811.20,466.0 811.45,458.4 811.70,467.6 811.95,463.9 812.20,470.3 812.45,463.9 812.70,473.0 812.95,466.1 813.20,476.8 813.45,469.5 813.70,482.5"/>
<rect x="748.00" y="644.20" width="64.80" height="5.40" fill="#000"/>
<rect x="836.30" y="529.00" width="4.70" height="74.30" fill="#000"/>
<text font-size="43.00" transform="translate(761.00,688.40) scale(0.9007,1)">1s</text>
<text font-size="46.50" transform="translate(889.50,631.36) rotate(-90) scale(0.9072,1)">100</text>
<text font-size="46.50" transform="translate(889.50,551.67) rotate(-90) scale(0.9154,1)">µV</text>
</g>
<g id="panelB">
<text class="b" font-size="55.20" transform="translate(940.98,43.50) scale(0.8375,1)">B</text>
<path d="M976.2,260.2 L1052.4,255.6 L1103.9,249.4 L1139.0,242.2 L1163.7,235.4 L1185.3,230.0 L1203.9,239.2 L1219.3,242.9 L1232.7,246.8 L1245.1,245.8 L1256.4,243.3 L1266.7,246.0 L1276.0,244.3 L1292.5,259.7 L1305.3,277.7 L1314.0,284.6 L1326.0,306.8 L1331.5,317.7 L1336.9,322.9 L1342.4,335.3 L1353.3,347.0 L1357.0,349.2 L1363.0,364.9 L1369.6,374.9 L1377.3,376.1 L1381.6,387.0 L1384.9,387.4 L1388.8,394.7 L1395.8,397.0 L1397.9,399.4 L1400.0,402.6 L1401.6,404.2 L1403.2,406.4 L1404.8,408.6 L1406.4,408.9 L1408.0,409.3 L1409.6,409.6 L1411.2,411.1 L1412.8,413.7 L1414.4,413.5 L1416.0,411.1 L1417.6,414.7 L1419.2,418.3 L1420.8,420.1 L1422.4,420.5 L1424.0,421.7 L1425.6,424.4 L1427.2,426.5 L1428.8,428.8 L1430.4,430.6 L1432.0,431.6 L1433.6,430.2 L1435.2,429.5 L1436.8,431.3 L1438.4,431.9 L1440.0,432.7 L1441.6,434.1 L1443.2,434.7 L1444.8,436.6 L1446.4,436.8 L1448.0,437.3 L1449.6,438.7 L1451.2,438.3 L1452.8,439.9 L1454.4,439.8 L1456.0,441.3 L1457.6,442.1 L1459.2,444.2 L1460.8,445.1 L1462.4,444.9 L1464.0,446.1 L1465.6,446.3 L1467.2,447.4 L1468.8,447.4 L1470.4,447.6 L1472.0,448.3 L1473.6,450.2 L1475.2,452.1 L1476.8,451.8 L1478.4,452.1 L1480.0,454.4 L1481.6,454.2 L1483.2,454.9 L1484.8,455.7 L1486.4,455.7 L1488.0,455.9 L1489.6,455.7 L1491.2,459.0 L1492.8,460.5 L1494.4,463.4 L1496.0,464.2 L1497.6,465.1 L1499.2,468.3 L1500.8,471.5 L1502.4,471.3 L1504.0,472.3 L1505.6,473.4 L1507.2,474.3 L1508.8,474.7 L1510.4,473.7 L1512.0,476.9 L1513.6,477.8 L1515.2,480.5 L1516.8,483.6 L1518.4,485.3 L1520.0,485.4 L1521.6,487.5 L1523.2,489.0 L1524.8,488.7 L1526.4,487.9 L1528.0,490.6 L1529.6,492.1 L1531.2,493.5 L1532.8,494.1 L1534.4,496.5 L1536.0,497.9 L1537.6,499.5 L1539.2,501.9 L1540.8,503.2 L1542.4,503.4 L1544.0,504.3 L1545.6,505.5 L1547.2,505.9 L1548.8,507.2 L1550.4,508.2 L1552.0,510.2 L1553.6,513.8 L1555.2,514.1 L1556.8,514.5 L1558.4,515.9 L1560.0,517.0 L1561.6,519.7 L1563.2,521.4 L1564.8,521.3 L1566.4,524.6 L1568.0,525.3 L1569.6,528.7 L1571.2,529.2 L1572.8,531.8 L1574.4,531.2 L1576.0,532.6 L1577.6,534.4 L1579.2,536.4 L1580.8,537.4 L1582.4,537.3 L1584.0,540.0 L1585.6,541.3 L1587.2,542.4 L1588.8,543.5 L1590.4,546.3 L1592.0,544.9 L1593.6,545.1 L1595.2,547.0 L1596.8,547.1 L1598.4,547.5 L1600.0,549.1 L1601.6,550.3 L1603.2,551.7 L1604.8,553.7 L1606.4,554.6 L1608.0,555.3 L1609.6,557.1 L1611.2,558.2 L1612.8,559.8 L1614.4,559.6 L1616.0,559.9 L1617.6,562.6 L1619.2,562.3 L1620.8,562.7 L1622.4,565.7 L1624.0,565.7 L1625.6,567.7 L1627.2,567.4 L1628.8,567.0 L1630.4,567.1 L1632.0,567.9 L1633.6,568.3 L1635.2,568.5 L1636.8,570.1 L1638.4,570.1 L1640.0,572.6 L1641.6,572.1 L1643.2,574.5 L1643.2,579.7 L1641.6,577.3 L1640.0,577.9 L1638.4,575.4 L1636.8,575.4 L1635.2,573.8 L1633.6,573.5 L1632.0,573.1 L1630.4,572.3 L1628.8,572.3 L1627.2,572.6 L1625.6,573.0 L1624.0,571.0 L1622.4,571.0 L1620.8,568.0 L1619.2,567.6 L1617.6,567.9 L1616.0,565.2 L1614.4,565.0 L1612.8,565.2 L1611.2,563.6 L1609.6,562.4 L1608.0,560.7 L1606.4,560.0 L1604.8,559.1 L1603.2,557.1 L1601.6,555.7 L1600.0,554.5 L1598.4,552.9 L1596.8,552.5 L1595.2,552.4 L1593.6,550.5 L1592.0,550.4 L1590.4,551.7 L1588.8,549.0 L1587.2,547.9 L1585.6,546.8 L1584.0,545.5 L1582.4,542.8 L1580.8,542.9 L1579.2,541.9 L1577.6,539.9 L1576.0,538.1 L1574.4,536.7 L1572.8,537.4 L1571.2,534.7 L1569.6,534.3 L1568.0,530.9 L1566.4,530.2 L1564.8,526.9 L1563.2,527.0 L1561.6,525.3 L1560.0,522.6 L1558.4,521.5 L1556.8,520.1 L1555.2,519.7 L1553.6,519.5 L1552.0,515.9 L1550.4,513.8 L1548.8,512.9 L1547.2,511.6 L1545.6,511.2 L1544.0,510.0 L1542.4,509.1 L1540.8,508.9 L1539.2,507.7 L1537.6,505.2 L1536.0,503.7 L1534.4,502.3 L1532.8,499.8 L1531.2,499.2 L1529.6,497.9 L1528.0,496.4 L1526.4,493.7 L1524.8,494.5 L1523.2,494.8 L1521.6,493.3 L1520.0,491.2 L1518.4,491.1 L1516.8,489.5 L1515.2,486.3 L1513.6,483.6 L1512.0,482.7 L1510.4,479.6 L1508.8,480.6 L1507.2,480.2 L1505.6,479.3 L1504.0,478.2 L1502.4,477.2 L1500.8,477.4 L1499.2,474.2 L1497.6,471.0 L1496.0,470.2 L1494.4,469.3 L1492.8,466.5 L1491.2,464.9 L1489.6,461.7 L1488.0,461.9 L1486.4,461.7 L1484.8,461.7 L1483.2,460.9 L1481.6,460.2 L1480.0,460.4 L1478.4,458.1 L1476.8,457.8 L1475.2,458.1 L1473.6,456.3 L1472.0,454.3 L1470.4,453.7 L1468.8,453.5 L1467.2,453.5 L1465.6,452.4 L1464.0,452.2 L1462.4,450.9 L1460.8,451.2 L1459.2,450.3 L1457.6,448.2 L1456.0,447.4 L1454.4,445.9 L1452.8,446.0 L1451.2,444.5 L1449.6,444.8 L1448.0,443.5 L1446.4,442.9 L1444.8,442.8 L1443.2,440.9 L1441.6,440.3 L1440.0,438.9 L1438.4,438.1 L1436.8,437.5 L1435.2,435.7 L1433.6,436.5 L1432.0,437.8 L1430.4,436.8 L1428.8,435.0 L1427.2,432.8 L1425.6,430.6 L1424.0,428.0 L1422.4,426.8 L1420.8,426.4 L1419.2,424.6 L1417.6,421.0 L1416.0,417.4 L1414.4,419.8 L1412.8,420.0 L1411.2,417.4 L1409.6,416.0 L1408.0,415.7 L1406.4,415.2 L1404.8,415.0 L1403.2,412.8 L1401.6,410.6 L1400.0,409.0 L1397.9,405.8 L1395.8,403.4 L1388.8,401.3 L1384.9,394.2 L1381.6,393.8 L1377.3,382.9 L1369.6,381.9 L1363.0,372.1 L1357.0,356.4 L1353.3,354.4 L1342.4,342.9 L1336.9,330.5 L1331.5,325.5 L1326.0,314.6 L1314.0,293.2 L1305.3,287.1 L1292.5,270.3 L1276.0,256.7 L1266.7,258.4 L1256.4,255.7 L1245.1,258.2 L1232.7,259.2 L1219.3,255.3 L1203.9,251.6 L1185.3,242.6 L1163.7,248.0 L1139.0,254.8 L1103.9,262.0 L1052.4,268.2 L976.2,273.0Z" fill="#d3e4f2"/>
<path d="M976.2,186.0 L1052.4,186.7 L1103.9,191.0 L1139.0,186.9 L1163.7,183.2 L1185.3,181.2 L1203.9,191.3 L1219.3,191.9 L1233.8,197.4 L1245.1,199.6 L1256.4,209.5 L1266.7,209.6 L1276.0,205.6 L1285.3,215.0 L1292.5,215.5 L1307.5,230.0 L1320.5,250.8 L1331.5,272.7 L1336.9,275.4 L1347.8,290.4 L1352.6,317.6 L1357.6,310.1 L1362.0,313.4 L1370.7,334.9 L1374.0,335.7 L1384.9,354.6 L1390.4,370.4 L1400.0,382.9 L1401.6,385.9 L1403.2,390.0 L1404.8,393.9 L1406.4,396.4 L1408.0,399.4 L1409.6,400.9 L1411.2,401.0 L1412.8,400.8 L1414.4,402.8 L1416.0,409.4 L1417.6,406.8 L1419.2,409.7 L1420.8,418.0 L1422.4,415.1 L1424.0,413.1 L1425.6,415.2 L1427.2,417.2 L1428.8,419.7 L1430.4,422.0 L1432.0,423.9 L1433.6,426.2 L1435.2,422.9 L1436.8,424.2 L1438.4,426.9 L1440.0,427.5 L1441.6,431.2 L1443.2,432.6 L1444.8,433.8 L1446.4,436.3 L1448.0,437.3 L1449.6,438.0 L1451.2,441.2 L1452.8,442.7 L1454.4,443.3 L1456.0,444.5 L1457.6,443.9 L1459.2,446.3 L1460.8,447.7 L1462.4,449.5 L1464.0,451.8 L1465.6,451.0 L1467.2,451.1 L1468.8,453.3 L1470.4,452.5 L1472.0,451.4 L1473.6,454.7 L1475.2,452.6 L1476.8,453.4 L1478.4,454.0 L1480.0,456.9 L1481.6,459.0 L1483.2,457.9 L1484.8,456.2 L1486.4,452.4 L1488.0,454.7 L1489.6,456.8 L1491.2,457.0 L1492.8,460.9 L1494.4,460.7 L1496.0,459.2 L1497.6,457.3 L1499.2,460.5 L1500.8,464.2 L1502.4,466.1 L1504.0,466.2 L1505.6,469.9 L1507.2,467.5 L1508.8,465.7 L1510.4,469.8 L1512.0,471.3 L1513.6,470.5 L1515.2,474.6 L1516.8,480.1 L1518.4,480.3 L1520.0,479.1 L1521.6,480.9 L1523.2,478.9 L1524.8,482.3 L1526.4,482.9 L1528.0,484.1 L1529.6,487.2 L1531.2,482.9 L1532.8,490.3 L1534.4,489.7 L1536.0,494.2 L1537.6,494.9 L1539.2,493.3 L1540.8,497.1 L1542.4,494.2 L1544.0,496.7 L1545.6,495.6 L1547.2,499.3 L1548.8,503.9 L1550.4,508.9 L1552.0,507.6 L1553.6,507.2 L1555.2,511.4 L1556.8,509.2 L1558.4,509.4 L1560.0,509.0 L1561.6,511.9 L1563.2,512.7 L1564.8,511.9 L1566.4,510.4 L1568.0,516.2 L1569.6,519.3 L1571.2,520.9 L1572.8,522.4 L1574.4,524.7 L1576.0,524.4 L1577.6,526.6 L1579.2,523.1 L1580.8,521.5 L1582.4,527.5 L1584.0,527.2 L1585.6,534.2 L1587.2,530.9 L1588.8,533.3 L1590.4,536.2 L1592.0,538.8 L1593.6,540.7 L1595.2,543.1 L1596.8,545.1 L1598.4,546.1 L1600.0,546.1 L1601.6,544.1 L1603.2,545.0 L1604.8,544.3 L1606.4,544.4 L1608.0,544.8 L1609.6,547.5 L1611.2,550.9 L1612.8,551.7 L1614.4,554.2 L1616.0,555.6 L1617.6,555.6 L1619.2,557.0 L1620.8,559.0 L1622.4,556.2 L1624.0,561.1 L1625.6,558.7 L1627.2,552.4 L1628.8,560.2 L1630.4,556.6 L1632.0,560.4 L1633.6,556.6 L1635.2,559.0 L1636.8,562.2 L1638.4,561.1 L1640.0,562.3 L1641.6,565.6 L1643.2,569.5 L1643.2,573.1 L1641.6,569.2 L1640.0,565.9 L1638.4,564.7 L1636.8,565.9 L1635.2,562.6 L1633.6,560.2 L1632.0,564.0 L1630.4,560.3 L1628.8,563.8 L1627.2,556.1 L1625.6,562.4 L1624.0,564.8 L1622.4,559.9 L1620.8,562.7 L1619.2,560.7 L1617.6,559.3 L1616.0,559.4 L1614.4,557.9 L1612.8,555.4 L1611.2,554.7 L1609.6,551.3 L1608.0,548.5 L1606.4,548.1 L1604.8,548.1 L1603.2,548.8 L1601.6,547.9 L1600.0,549.9 L1598.4,550.0 L1596.8,548.9 L1595.2,547.0 L1593.6,544.6 L1592.0,542.6 L1590.4,540.0 L1588.8,537.1 L1587.2,534.8 L1585.6,538.1 L1584.0,531.1 L1582.4,531.5 L1580.8,525.4 L1579.2,527.1 L1577.6,530.5 L1576.0,528.4 L1574.4,528.6 L1572.8,526.3 L1571.2,524.8 L1569.6,523.2 L1568.0,520.2 L1566.4,514.4 L1564.8,515.9 L1563.2,516.7 L1561.6,515.9 L1560.0,513.0 L1558.4,513.5 L1556.8,513.3 L1555.2,515.4 L1553.6,511.2 L1552.0,511.6 L1550.4,513.0 L1548.8,508.0 L1547.2,503.4 L1545.6,499.7 L1544.0,500.8 L1542.4,498.3 L1540.8,501.2 L1539.2,497.4 L1537.6,499.0 L1536.0,498.3 L1534.4,493.9 L1532.8,494.4 L1531.2,487.1 L1529.6,491.3 L1528.0,488.2 L1526.4,487.0 L1524.8,486.5 L1523.2,483.1 L1521.6,485.1 L1520.0,483.3 L1518.4,484.5 L1516.8,484.3 L1515.2,478.8 L1513.6,474.8 L1512.0,475.5 L1510.4,474.0 L1508.8,469.9 L1507.2,471.8 L1505.6,474.1 L1504.0,470.5 L1502.4,470.4 L1500.8,468.5 L1499.2,464.8 L1497.6,461.7 L1496.0,463.5 L1494.4,465.1 L1492.8,465.2 L1491.2,461.4 L1489.6,461.2 L1488.0,459.0 L1486.4,456.7 L1484.8,460.6 L1483.2,462.3 L1481.6,463.4 L1480.0,461.3 L1478.4,458.4 L1476.8,457.8 L1475.2,457.1 L1473.6,459.2 L1472.0,455.8 L1470.4,456.9 L1468.8,457.8 L1467.2,455.6 L1465.6,455.5 L1464.0,456.3 L1462.4,454.0 L1460.8,452.2 L1459.2,450.8 L1457.6,448.5 L1456.0,449.0 L1454.4,447.8 L1452.8,447.2 L1451.2,445.8 L1449.6,442.6 L1448.0,441.9 L1446.4,440.8 L1444.8,438.4 L1443.2,437.2 L1441.6,435.8 L1440.0,432.1 L1438.4,431.5 L1436.8,428.8 L1435.2,427.5 L1433.6,430.8 L1432.0,428.6 L1430.4,426.6 L1428.8,424.4 L1427.2,421.9 L1425.6,419.9 L1424.0,417.7 L1422.4,419.8 L1420.8,422.7 L1419.2,414.4 L1417.6,411.5 L1416.0,414.1 L1414.4,407.5 L1412.8,405.5 L1411.2,405.8 L1409.6,405.7 L1408.0,404.2 L1406.4,401.2 L1404.8,398.7 L1403.2,394.8 L1401.6,390.7 L1400.0,387.7 L1390.4,375.4 L1384.9,359.8 L1374.0,341.1 L1370.7,340.3 L1362.0,319.0 L1357.6,315.7 L1352.6,323.4 L1347.8,296.2 L1336.9,281.4 L1331.5,278.9 L1320.5,257.2 L1307.5,236.6 L1292.5,222.5 L1285.3,222.2 L1276.0,213.0 L1266.7,217.4 L1256.4,217.5 L1245.1,208.0 L1233.8,206.0 L1219.3,200.9 L1203.9,200.7 L1185.3,190.8 L1163.7,193.0 L1139.0,196.7 L1103.9,201.0 L1052.4,196.9 L976.2,196.4Z" fill="#d5eedf"/>
<path d="M976.2,157.1 L1052.4,156.4 L1103.9,153.8 L1139.0,147.4 L1163.7,146.1 L1184.3,149.6 L1203.9,153.1 L1219.3,149.9 L1232.7,157.4 L1245.1,169.9 L1255.4,166.7 L1266.7,167.4 L1285.3,176.9 L1292.5,178.5 L1306.4,189.3 L1314.0,200.2 L1320.5,218.9 L1331.5,229.8 L1337.3,247.3 L1342.4,235.3 L1347.8,253.9 L1352.8,263.3 L1357.0,261.2 L1365.3,275.8 L1374.0,293.4 L1384.3,297.7 L1388.6,306.4 L1391.9,304.4 L1398.4,315.9 L1401.3,313.7 L1410.0,329.5 L1415.5,331.2 L1418.3,329.0 L1421.6,332.7 L1424.2,331.2 L1425.0,332.0 L1426.6,333.0 L1428.2,335.2 L1429.8,335.6 L1431.4,337.0 L1433.0,338.7 L1434.6,339.2 L1436.2,340.6 L1437.8,342.1 L1439.4,342.0 L1441.0,341.1 L1442.6,340.8 L1444.2,342.2 L1445.8,344.0 L1447.4,344.8 L1449.0,343.9 L1450.6,343.1 L1452.2,344.0 L1453.8,346.3 L1455.4,349.8 L1457.0,347.8 L1458.6,346.4 L1460.2,344.9 L1461.8,343.6 L1463.4,344.3 L1465.0,345.3 L1466.6,346.1 L1468.2,347.0 L1469.8,347.3 L1471.4,346.7 L1473.0,346.6 L1474.6,345.3 L1476.2,345.0 L1477.8,344.4 L1479.4,345.9 L1481.0,347.8 L1482.6,348.9 L1484.2,349.6 L1485.8,348.7 L1487.4,349.8 L1489.0,348.6 L1490.6,348.4 L1492.2,348.8 L1493.8,349.9 L1495.4,351.4 L1497.0,353.8 L1498.6,354.8 L1500.2,352.2 L1501.8,353.3 L1503.4,356.3 L1505.0,360.2 L1506.6,358.7 L1508.2,356.9 L1509.8,359.0 L1511.4,361.8 L1513.0,366.3 L1514.6,367.6 L1516.2,372.3 L1517.8,373.0 L1519.4,374.2 L1521.0,372.2 L1522.6,374.8 L1524.2,376.4 L1525.8,378.7 L1527.4,383.1 L1529.0,385.3 L1530.6,388.3 L1532.2,388.4 L1533.8,386.7 L1535.4,392.7 L1537.0,391.0 L1538.6,396.8 L1540.2,398.8 L1541.8,397.4 L1543.4,397.7 L1545.0,398.6 L1546.6,402.7 L1548.2,402.5 L1549.8,403.3 L1551.4,405.0 L1553.0,409.3 L1554.6,408.4 L1556.2,410.1 L1557.8,411.5 L1559.4,413.1 L1561.0,415.1 L1562.6,414.7 L1564.2,417.3 L1565.8,418.5 L1567.4,420.5 L1569.0,424.8 L1570.6,424.6 L1572.2,426.4 L1573.8,426.5 L1575.4,427.6 L1577.0,430.3 L1578.6,429.7 L1580.2,430.5 L1581.8,433.9 L1583.4,436.5 L1585.0,439.5 L1586.6,441.3 L1588.2,440.7 L1589.8,445.4 L1591.4,446.8 L1593.0,449.1 L1594.6,448.3 L1596.2,454.2 L1597.8,450.3 L1599.4,453.6 L1601.0,453.5 L1602.6,453.7 L1604.2,456.2 L1605.8,455.6 L1607.4,455.3 L1609.0,459.4 L1610.6,464.1 L1612.2,468.9 L1613.8,466.6 L1615.4,469.8 L1617.0,473.0 L1618.6,473.2 L1620.2,473.3 L1621.8,473.3 L1623.4,474.8 L1625.0,478.1 L1626.6,480.6 L1628.2,480.2 L1629.8,483.1 L1631.4,487.9 L1633.0,489.2 L1634.6,489.9 L1636.2,488.4 L1637.8,486.7 L1639.4,490.0 L1641.0,492.0 L1642.6,493.5 L1644.2,492.5 L1644.2,496.1 L1642.6,497.1 L1641.0,495.6 L1639.4,493.6 L1637.8,490.3 L1636.2,492.0 L1634.6,493.5 L1633.0,492.8 L1631.4,491.5 L1629.8,486.7 L1628.2,483.8 L1626.6,484.2 L1625.0,481.8 L1623.4,478.4 L1621.8,476.9 L1620.2,476.9 L1618.6,476.9 L1617.0,476.7 L1615.4,473.5 L1613.8,470.3 L1612.2,472.6 L1610.6,467.7 L1609.0,463.1 L1607.4,459.0 L1605.8,459.2 L1604.2,459.8 L1602.6,457.3 L1601.0,457.2 L1599.4,457.3 L1597.8,453.9 L1596.2,457.9 L1594.6,451.9 L1593.0,452.8 L1591.4,450.5 L1589.8,449.1 L1588.2,444.4 L1586.6,445.0 L1585.0,443.2 L1583.4,440.2 L1581.8,437.6 L1580.2,434.2 L1578.6,433.4 L1577.0,434.0 L1575.4,431.3 L1573.8,430.3 L1572.2,430.1 L1570.6,428.3 L1569.0,428.5 L1567.4,424.2 L1565.8,422.3 L1564.2,421.1 L1562.6,418.5 L1561.0,418.8 L1559.4,416.8 L1557.8,415.2 L1556.2,413.9 L1554.6,412.1 L1553.0,413.1 L1551.4,408.8 L1549.8,407.1 L1548.2,406.3 L1546.6,406.5 L1545.0,402.3 L1543.4,401.5 L1541.8,401.2 L1540.2,402.6 L1538.6,400.6 L1537.0,394.8 L1535.4,396.4 L1533.8,390.5 L1532.2,392.2 L1530.6,392.1 L1529.0,389.1 L1527.4,386.9 L1525.8,382.5 L1524.2,380.2 L1522.6,378.6 L1521.0,376.0 L1519.4,378.0 L1517.8,376.8 L1516.2,376.1 L1514.6,371.4 L1513.0,370.1 L1511.4,365.7 L1509.8,362.8 L1508.2,360.7 L1506.6,362.5 L1505.0,364.0 L1503.4,360.1 L1501.8,357.2 L1500.2,356.0 L1498.6,358.7 L1497.0,357.7 L1495.4,355.3 L1493.8,353.8 L1492.2,352.7 L1490.6,352.3 L1489.0,352.4 L1487.4,353.7 L1485.8,352.6 L1484.2,353.5 L1482.6,352.8 L1481.0,351.7 L1479.4,349.7 L1477.8,348.3 L1476.2,348.9 L1474.6,349.1 L1473.0,350.5 L1471.4,350.6 L1469.8,351.2 L1468.2,350.9 L1466.6,350.0 L1465.0,349.2 L1463.4,348.2 L1461.8,347.5 L1460.2,348.8 L1458.6,350.3 L1457.0,351.7 L1455.4,353.7 L1453.8,350.2 L1452.2,347.9 L1450.6,347.0 L1449.0,347.8 L1447.4,348.7 L1445.8,347.9 L1444.2,346.1 L1442.6,344.7 L1441.0,345.1 L1439.4,346.0 L1437.8,346.1 L1436.2,344.5 L1434.6,343.2 L1433.0,342.7 L1431.4,340.9 L1429.8,339.6 L1428.2,339.2 L1426.6,337.0 L1425.0,336.0 L1424.2,335.2 L1421.6,336.7 L1418.3,333.0 L1415.5,335.2 L1410.0,333.5 L1401.3,317.7 L1398.4,319.9 L1391.9,308.4 L1388.6,310.6 L1384.3,301.9 L1374.0,297.6 L1365.3,280.2 L1357.0,265.6 L1352.8,267.9 L1347.8,258.5 L1342.4,239.9 L1337.3,251.9 L1331.5,234.6 L1320.5,223.7 L1314.0,205.2 L1306.4,194.3 L1292.5,183.7 L1285.3,182.1 L1266.7,173.0 L1255.4,172.5 L1245.1,175.9 L1232.7,163.6 L1219.3,156.3 L1203.9,159.7 L1184.3,156.6 L1163.7,153.5 L1139.0,155.0 L1103.9,161.8 L1052.4,164.6 L976.2,165.9Z" fill="#fde29a"/>
<polyline fill="none" stroke="#0a60b2" stroke-width="2.4" stroke-linejoin="round" points="976.2,266.6 1052.4,261.9 1103.9,255.7 1139.0,248.5 1163.7,241.7 1185.3,236.3 1203.9,245.4 1219.3,249.1 1232.7,253.0 1245.1,252.0 1256.4,249.5 1266.7,252.2 1276.0,250.5 1292.5,265.0 1305.3,282.4 1314.0,288.9 1326.0,310.7 1331.5,321.6 1336.9,326.7 1342.4,339.1 1353.3,350.7 1357.0,352.8 1363.0,368.5 1369.6,378.4 1377.3,379.5 1381.6,390.4 1384.9,390.8 1388.8,398.0 1395.8,400.2 1397.9,402.6 1400.0,405.8 1401.6,407.4 1403.2,409.6 1404.8,411.8 1406.4,412.1 1408.0,412.5 1409.6,412.8 1411.2,414.3 1412.8,416.8 1414.4,416.7 1416.0,414.3 1417.6,417.8 1419.2,421.5 1420.8,423.2 1422.4,423.7 1424.0,424.8 1425.6,427.5 1427.2,429.6 1428.8,431.9 1430.4,433.7 1432.0,434.7 1433.6,433.3 1435.2,432.6 1436.8,434.4 1438.4,435.0 1440.0,435.8 1441.6,437.2 1443.2,437.8 1444.8,439.7 1446.4,439.8 1448.0,440.4 1449.6,441.8 1451.2,441.4 1452.8,442.9 1454.4,442.8 1456.0,444.4 1457.6,445.1 1459.2,447.3 1460.8,448.2 1462.4,447.9 1464.0,449.2 1465.6,449.4 1467.2,450.4 1468.8,450.5 1470.4,450.6 1472.0,451.3 1473.6,453.3 1475.2,455.1 1476.8,454.8 1478.4,455.1 1480.0,457.4 1481.6,457.2 1483.2,457.9 1484.8,458.7 1486.4,458.7 1488.0,458.9 1489.6,458.7 1491.2,462.0 1492.8,463.5 1494.4,466.4 1496.0,467.2 1497.6,468.0 1499.2,471.3 1500.8,474.4 1502.4,474.2 1504.0,475.2 1505.6,476.4 1507.2,477.3 1508.8,477.6 1510.4,476.7 1512.0,479.8 1513.6,480.7 1515.2,483.4 1516.8,486.6 1518.4,488.2 1520.0,488.3 1521.6,490.4 1523.2,491.9 1524.8,491.6 1526.4,490.8 1528.0,493.5 1529.6,495.0 1531.2,496.4 1532.8,496.9 1534.4,499.4 1536.0,500.8 1537.6,502.3 1539.2,504.8 1540.8,506.0 1542.4,506.3 1544.0,507.2 1545.6,508.3 1547.2,508.7 1548.8,510.1 1550.4,511.0 1552.0,513.1 1553.6,516.7 1555.2,516.9 1556.8,517.3 1558.4,518.7 1560.0,519.8 1561.6,522.5 1563.2,524.2 1564.8,524.1 1566.4,527.4 1568.0,528.1 1569.6,531.5 1571.2,531.9 1572.8,534.6 1574.4,533.9 1576.0,535.4 1577.6,537.2 1579.2,539.1 1580.8,540.2 1582.4,540.0 1584.0,542.8 1585.6,544.1 1587.2,545.1 1588.8,546.3 1590.4,549.0 1592.0,547.7 1593.6,547.8 1595.2,549.7 1596.8,549.8 1598.4,550.2 1600.0,551.8 1601.6,553.0 1603.2,554.4 1604.8,556.4 1606.4,557.3 1608.0,558.0 1609.6,559.7 1611.2,560.9 1612.8,562.5 1614.4,562.3 1616.0,562.6 1617.6,565.2 1619.2,564.9 1620.8,565.3 1622.4,568.4 1624.0,568.3 1625.6,570.4 1627.2,570.0 1628.8,569.6 1630.4,569.7 1632.0,570.5 1633.6,570.9 1635.2,571.2 1636.8,572.8 1638.4,572.7 1640.0,575.3 1641.6,574.7 1643.2,577.1"/>
<polyline fill="none" stroke="#22a155" stroke-width="1.4" stroke-linejoin="round" points="976.2,191.2 1052.4,191.8 1103.9,196.0 1139.0,191.8 1163.7,188.1 1185.3,186.0 1203.9,196.0 1219.3,196.4 1233.8,201.7 1245.1,203.8 1256.4,213.5 1266.7,213.5 1276.0,209.3 1285.3,218.6 1292.5,219.0 1307.5,233.3 1320.5,254.0 1331.5,275.8 1336.9,278.4 1347.8,293.3 1352.6,320.5 1357.6,312.9 1362.0,316.2 1370.7,337.6 1374.0,338.4 1384.9,357.2 1390.4,372.9 1400.0,385.3 1401.6,388.3 1403.2,392.4 1404.8,396.3 1406.4,398.8 1408.0,401.8 1409.6,403.3 1411.2,403.4 1412.8,403.2 1414.4,405.1 1416.0,411.7 1417.6,409.2 1419.2,412.0 1420.8,420.3 1422.4,417.5 1424.0,415.4 1425.6,417.5 1427.2,419.5 1428.8,422.1 1430.4,424.3 1432.0,426.2 1433.6,428.5 1435.2,425.2 1436.8,426.5 1438.4,429.2 1440.0,429.8 1441.6,433.5 1443.2,434.9 1444.8,436.1 1446.4,438.5 1448.0,439.6 1449.6,440.3 1451.2,443.5 1452.8,444.9 1454.4,445.6 1456.0,446.8 1457.6,446.2 1459.2,448.5 1460.8,450.0 1462.4,451.8 1464.0,454.1 1465.6,453.3 1467.2,453.3 1468.8,455.5 1470.4,454.7 1472.0,453.6 1473.6,456.9 1475.2,454.9 1476.8,455.6 1478.4,456.2 1480.0,459.1 1481.6,461.2 1483.2,460.1 1484.8,458.4 1486.4,454.5 1488.0,456.9 1489.6,459.0 1491.2,459.2 1492.8,463.1 1494.4,462.9 1496.0,461.3 1497.6,459.5 1499.2,462.7 1500.8,466.4 1502.4,468.2 1504.0,468.4 1505.6,472.0 1507.2,469.6 1508.8,467.8 1510.4,471.9 1512.0,473.4 1513.6,472.6 1515.2,476.7 1516.8,482.2 1518.4,482.4 1520.0,481.2 1521.6,483.0 1523.2,481.0 1524.8,484.4 1526.4,485.0 1528.0,486.1 1529.6,489.2 1531.2,485.0 1532.8,492.4 1534.4,491.8 1536.0,496.2 1537.6,496.9 1539.2,495.3 1540.8,499.1 1542.4,496.2 1544.0,498.8 1545.6,497.6 1547.2,501.3 1548.8,505.9 1550.4,510.9 1552.0,509.6 1553.6,509.2 1555.2,513.4 1556.8,511.2 1558.4,511.4 1560.0,511.0 1561.6,513.9 1563.2,514.7 1564.8,513.9 1566.4,512.4 1568.0,518.2 1569.6,521.3 1571.2,522.8 1572.8,524.3 1574.4,526.7 1576.0,526.4 1577.6,528.6 1579.2,525.1 1580.8,523.4 1582.4,529.5 1584.0,529.2 1585.6,536.2 1587.2,532.9 1588.8,535.2 1590.4,538.1 1592.0,540.7 1593.6,542.7 1595.2,545.1 1596.8,547.0 1598.4,548.0 1600.0,548.0 1601.6,546.0 1603.2,546.9 1604.8,546.2 1606.4,546.3 1608.0,546.6 1609.6,549.4 1611.2,552.8 1612.8,553.5 1614.4,556.1 1616.0,557.5 1617.6,557.4 1619.2,558.8 1620.8,560.9 1622.4,558.0 1624.0,562.9 1625.6,560.6 1627.2,554.2 1628.8,562.0 1630.4,558.5 1632.0,562.2 1633.6,558.4 1635.2,560.8 1636.8,564.1 1638.4,562.9 1640.0,564.1 1641.6,567.4 1643.2,571.3"/>
<polyline fill="none" stroke="#fdb813" stroke-width="2.6" stroke-linejoin="round" points="976.2,161.5 1052.4,160.5 1103.9,157.8 1139.0,151.2 1163.7,149.8 1184.3,153.1 1203.9,156.4 1219.3,153.1 1232.7,160.5 1245.1,172.9 1255.4,169.6 1266.7,170.2 1285.3,179.5 1292.5,181.1 1306.4,191.8 1314.0,202.7 1320.5,221.3 1331.5,232.2 1337.3,249.6 1342.4,237.6 1347.8,256.2 1352.8,265.6 1357.0,263.4 1365.3,278.0 1374.0,295.5 1384.3,299.8 1388.6,308.5 1391.9,306.4 1398.4,317.9 1401.3,315.7 1410.0,331.5 1415.5,333.2 1418.3,331.0 1421.6,334.7 1424.2,333.2 1425.0,334.0 1426.6,335.0 1428.2,337.2 1429.8,337.6 1431.4,339.0 1433.0,340.7 1434.6,341.2 1436.2,342.6 1437.8,344.1 1439.4,344.0 1441.0,343.1 1442.6,342.8 1444.2,344.1 1445.8,346.0 1447.4,346.8 1449.0,345.9 1450.6,345.1 1452.2,346.0 1453.8,348.3 1455.4,351.7 1457.0,349.7 1458.6,348.3 1460.2,346.9 1461.8,345.6 1463.4,346.3 1465.0,347.3 1466.6,348.1 1468.2,349.0 1469.8,349.3 1471.4,348.6 1473.0,348.5 1474.6,347.2 1476.2,346.9 1477.8,346.3 1479.4,347.8 1481.0,349.8 1482.6,350.8 1484.2,351.6 1485.8,350.6 1487.4,351.8 1489.0,350.5 1490.6,350.4 1492.2,350.8 1493.8,351.8 1495.4,353.4 1497.0,355.7 1498.6,356.7 1500.2,354.1 1501.8,355.3 1503.4,358.2 1505.0,362.1 1506.6,360.6 1508.2,358.8 1509.8,360.9 1511.4,363.8 1513.0,368.2 1514.6,369.5 1516.2,374.2 1517.8,374.9 1519.4,376.1 1521.0,374.1 1522.6,376.7 1524.2,378.3 1525.8,380.6 1527.4,385.0 1529.0,387.2 1530.6,390.2 1532.2,390.3 1533.8,388.6 1535.4,394.5 1537.0,392.9 1538.6,398.7 1540.2,400.7 1541.8,399.3 1543.4,399.6 1545.0,400.4 1546.6,404.6 1548.2,404.4 1549.8,405.2 1551.4,406.9 1553.0,411.2 1554.6,410.2 1556.2,412.0 1557.8,413.3 1559.4,414.9 1561.0,416.9 1562.6,416.6 1564.2,419.2 1565.8,420.4 1567.4,422.4 1569.0,426.7 1570.6,426.4 1572.2,428.3 1573.8,428.4 1575.4,429.5 1577.0,432.2 1578.6,431.5 1580.2,432.4 1581.8,435.7 1583.4,438.4 1585.0,441.4 1586.6,443.2 1588.2,442.5 1589.8,447.2 1591.4,448.6 1593.0,450.9 1594.6,450.1 1596.2,456.1 1597.8,452.1 1599.4,455.5 1601.0,455.4 1602.6,455.5 1604.2,458.0 1605.8,457.4 1607.4,457.2 1609.0,461.2 1610.6,465.9 1612.2,470.8 1613.8,468.5 1615.4,471.7 1617.0,474.9 1618.6,475.1 1620.2,475.1 1621.8,475.1 1623.4,476.6 1625.0,479.9 1626.6,482.4 1628.2,482.0 1629.8,484.9 1631.4,489.7 1633.0,491.0 1634.6,491.7 1636.2,490.2 1637.8,488.5 1639.4,491.8 1641.0,493.8 1642.6,495.3 1644.2,494.3"/>
<line x1="973.50" y1="111.80" x2="973.50" y2="617.10" stroke="#000" stroke-width="5.0"/>
<line x1="971.00" y1="614.90" x2="1643.70" y2="614.90" stroke="#000" stroke-width="4.4"/>
<line x1="973.50" y1="114.10" x2="982.80" y2="114.10" stroke="#000" stroke-width="4.6"/>
<line x1="973.50" y1="280.90" x2="982.80" y2="280.90" stroke="#000" stroke-width="4.6"/>
<line x1="973.50" y1="447.60" x2="982.80" y2="447.60" stroke="#000" stroke-width="4.6"/>
<line x1="994.87" y1="614.90" x2="994.87" y2="609.20" stroke="#000" stroke-width="4.2"/>
<line x1="1012.92" y1="614.90" x2="1012.92" y2="609.20" stroke="#000" stroke-width="4.2"/>
<line x1="1028.56" y1="614.90" x2="1028.56" y2="609.20" stroke="#000" stroke-width="4.2"/>
<line x1="1042.36" y1="614.90" x2="1042.36" y2="609.20" stroke="#000" stroke-width="4.2"/>
<line x1="1054.70" y1="614.90" x2="1054.70" y2="606.10" stroke="#000" stroke-width="4.4"/>
<line x1="1135.89" y1="614.90" x2="1135.89" y2="609.20" stroke="#000" stroke-width="4.2"/>
<line x1="1183.38" y1="614.90" x2="1183.38" y2="609.20" stroke="#000" stroke-width="4.2"/>
<line x1="1217.08" y1="614.90" x2="1217.08" y2="609.20" stroke="#000" stroke-width="4.2"/>
<line x1="1243.21" y1="614.90" x2="1243.21" y2="609.20" stroke="#000" stroke-width="4.2"/>
<line x1="1264.57" y1="614.90" x2="1264.57" y2="609.20" stroke="#000" stroke-width="4.2"/>
<line x1="1282.62" y1="614.90" x2="1282.62" y2="609.20" stroke="#000" stroke-width="4.2"/>
<line x1="1298.26" y1="614.90" x2="1298.26" y2="609.20" stroke="#000" stroke-width="4.2"/>
<line x1="1312.06" y1="614.90" x2="1312.06" y2="609.20" stroke="#000" stroke-width="4.2"/>
<line x1="1324.40" y1="614.90" x2="1324.40" y2="606.10" stroke="#000" stroke-width="4.4"/>
<line x1="1405.59" y1="614.90" x2="1405.59" y2="609.20" stroke="#000" stroke-width="4.2"/>
<line x1="1453.08" y1="614.90" x2="1453.08" y2="609.20" stroke="#000" stroke-width="4.2"/>
<line x1="1486.78" y1="614.90" x2="1486.78" y2="609.20" stroke="#000" stroke-width="4.2"/>
<line x1="1512.91" y1="614.90" x2="1512.91" y2="609.20" stroke="#000" stroke-width="4.2"/>
<line x1="1534.27" y1="614.90" x2="1534.27" y2="609.20" stroke="#000" stroke-width="4.2"/>
<line x1="1552.32" y1="614.90" x2="1552.32" y2="609.20" stroke="#000" stroke-width="4.2"/>
<line x1="1567.96" y1="614.90" x2="1567.96" y2="609.20" stroke="#000" stroke-width="4.2"/>
<line x1="1581.76" y1="614.90" x2="1581.76" y2="609.20" stroke="#000" stroke-width="4.2"/>
<line x1="1594.10" y1="614.90" x2="1594.10" y2="606.10" stroke="#000" stroke-width="4.4"/>
<text font-size="42.80" transform="translate(914.91,124.50) scale(0.9322,1)">15</text>
<text font-size="42.80" transform="translate(914.47,291.20) scale(0.9744,1)">10</text>
<text font-size="42.80" transform="translate(929.61,457.90) scale(0.8706,1)">5</text>
<text font-size="42.80" transform="translate(928.47,625.60) scale(1.0667,1)">0</text>
<text font-size="43.00" transform="translate(1033.02,662.70) scale(0.9535,1)">10</text>
<text font-size="43.00" transform="translate(1302.35,662.70) scale(0.9466,1)">10</text>
<text font-size="43.00" transform="translate(1571.01,662.70) scale(0.9582,1)">10</text>
<text font-size="26.40" transform="translate(1077.50,647.60) scale(0.8000,1)">1</text>
<text font-size="26.40" transform="translate(1347.43,647.60) scale(0.9657,1)">2</text>
<text font-size="26.40" transform="translate(1617.02,647.60) scale(0.8931,1)">3</text>
<text font-size="46.60" transform="translate(1196.13,704.20) scale(0.9541,1)">Frequency</text>
<text font-size="45.00" transform="translate(1415.67,704.20) scale(0.9342,1)">(Hz)</text>
<text font-size="47.50" transform="translate(904.10,385.72) rotate(-90) scale(0.7587,1)">SNR</text>
<text font-size="45.80" transform="translate(904.10,309.16) rotate(-90) scale(1.0676,1)">(dB)</text>
<text font-size="26.00" transform="translate(905.10,485.71) rotate(-90) scale(0.9865,1)">spectral</text>
<line x1="1032.00" y1="449.30" x2="1085.00" y2="449.30" stroke="#0068ad" stroke-width="4.9"/>
<line x1="1032.00" y1="493.30" x2="1085.00" y2="493.30" stroke="#00693a" stroke-width="4.9"/>
<line x1="1032.00" y1="536.90" x2="1085.00" y2="536.90" stroke="#fdb909" stroke-width="4.9"/>
<text font-size="35.60" transform="translate(1103.09,459.90) scale(1.0196,1)">Configuration</text>
<text font-size="35.60" transform="translate(1325.96,459.90) scale(0.8000,1)">1</text>
<text font-size="35.60" transform="translate(1103.09,503.65) scale(1.0196,1)">Configuration</text>
<text font-size="35.60" transform="translate(1326.79,503.65) scale(0.9631,1)">2</text>
<text font-size="35.60" transform="translate(1103.09,547.40) scale(1.0196,1)">Configuration</text>
<text font-size="35.60" transform="translate(1327.32,547.40) scale(0.8870,1)">3</text>
</g>
<g id="panelC">
<text class="b" font-size="55.20" transform="translate(44.86,768.90) scale(0.8353,1)">C</text>
<line x1="150.60" y1="796.40" x2="150.60" y2="1299.60" stroke="#000" stroke-width="4.9"/>
<line x1="150.60" y1="798.80" x2="159.50" y2="798.80" stroke="#000" stroke-width="4.7"/>
<line x1="150.60" y1="881.95" x2="159.50" y2="881.95" stroke="#000" stroke-width="4.7"/>
<line x1="150.60" y1="965.10" x2="159.50" y2="965.10" stroke="#000" stroke-width="4.7"/>
<line x1="150.60" y1="1048.25" x2="159.50" y2="1048.25" stroke="#000" stroke-width="4.7"/>
<line x1="150.60" y1="1131.40" x2="159.50" y2="1131.40" stroke="#000" stroke-width="4.7"/>
<line x1="150.60" y1="1214.55" x2="159.50" y2="1214.55" stroke="#000" stroke-width="4.7"/>
<line x1="150.60" y1="1297.70" x2="159.50" y2="1297.70" stroke="#000" stroke-width="4.7"/>
<line x1="148.20" y1="1312.00" x2="798.60" y2="1312.00" stroke="#000" stroke-width="4.9"/>
<text font-size="35.00" transform="translate(94.80,810.20) scale(0.9529,1)">18</text>
<text font-size="35.00" transform="translate(94.81,893.35) scale(0.9481,1)">10</text>
<text font-size="35.00" transform="translate(94.84,976.50) scale(0.9387,1)">14</text>
<text font-size="35.00" transform="translate(94.78,1059.65) scale(0.9601,1)">12</text>
<text font-size="35.00" transform="translate(94.81,1142.80) scale(0.9481,1)">10</text>
<text font-size="35.00" transform="translate(113.17,1225.95) scale(0.9605,1)">8</text>
<text font-size="35.00" transform="translate(112.89,1309.10) scale(0.9761,1)">6</text>
<text font-size="34.30" transform="translate(248.46,1349.20) scale(0.8000,1)">1</text>
<text font-size="34.30" transform="translate(461.69,1349.20) scale(1.0573,1)">2</text>
<text font-size="34.30" transform="translate(677.79,1349.00) scale(0.9391,1)">3</text>
<text font-size="45.50" transform="translate(347.43,1402.40) scale(0.9997,1)">Configuration</text>
<text font-size="46.40" transform="translate(37.80,1151.90) rotate(-90) scale(0.8548,1)">AUC</text>
<text font-size="43.60" transform="translate(37.80,1055.63) rotate(-90) scale(0.8925,1)">(a.u.)</text>
<line x1="276.70" y1="755.70" x2="686.50" y2="755.70" stroke="#000" stroke-width="2.2"/>
<line x1="276.70" y1="747.90" x2="276.70" y2="763.40" stroke="#000" stroke-width="2.6"/>
<line x1="686.50" y1="747.90" x2="686.50" y2="763.40" stroke="#000" stroke-width="2.6"/>
<line x1="276.70" y1="798.90" x2="466.30" y2="798.90" stroke="#000" stroke-width="2.2"/>
<line x1="276.70" y1="791.20" x2="276.70" y2="806.60" stroke="#000" stroke-width="2.6"/>
<line x1="466.30" y1="791.20" x2="466.30" y2="806.60" stroke="#000" stroke-width="2.6"/>
<line x1="485.30" y1="798.90" x2="686.50" y2="798.90" stroke="#000" stroke-width="2.2"/>
<line x1="485.30" y1="791.20" x2="485.30" y2="806.60" stroke="#000" stroke-width="2.6"/>
<line x1="686.50" y1="791.20" x2="686.50" y2="806.60" stroke="#000" stroke-width="2.6"/>
<text class="dj" font-size="29.01" transform="translate(457.60,741.90) rotate(90) scale(0.9949,1) translate(-7.25,14.94)">*</text>
<text class="dj" font-size="29.01" transform="translate(472.60,741.90) rotate(90) scale(0.9949,1) translate(-7.25,14.94)">*</text>
<text class="dj" font-size="29.01" transform="translate(487.80,741.90) rotate(90) scale(0.9949,1) translate(-7.25,14.94)">*</text>
<text class="dj" font-size="29.01" transform="translate(370.80,780.60) rotate(90) scale(0.9949,1) translate(-7.25,14.94)">*</text>
<text class="dj" font-size="29.01" transform="translate(565.50,780.60) rotate(90) scale(0.9949,1) translate(-7.25,14.94)">*</text>
<text class="dj" font-size="29.01" transform="translate(580.60,780.60) rotate(90) scale(0.9949,1) translate(-7.25,14.94)">*</text>
<text class="dj" font-size="29.01" transform="translate(595.70,780.60) rotate(90) scale(0.9949,1) translate(-7.25,14.94)">*</text>
<polyline fill="none" stroke="#000" stroke-width="4.8" stroke-dasharray="14.5 8.7" points="258.10,1189.50 473.00,1113.20 688.20,854.80"/>
<line x1="258.10" y1="1161.60" x2="258.10" y2="1217.90" stroke="#000" stroke-width="4.4"/>
<line x1="251.65" y1="1163.90" x2="264.55" y2="1163.90" stroke="#000" stroke-width="4.6"/>
<line x1="251.65" y1="1215.60" x2="264.55" y2="1215.60" stroke="#000" stroke-width="4.6"/>
<circle cx="258.10" cy="1189.50" r="9.2" fill="#2a6ebb" stroke="#000" stroke-width="4.55"/>
<line x1="473.00" y1="1090.70" x2="473.00" y2="1137.00" stroke="#000" stroke-width="4.4"/>
<line x1="466.55" y1="1093.00" x2="479.45" y2="1093.00" stroke="#000" stroke-width="4.6"/>
<line x1="466.55" y1="1134.70" x2="479.45" y2="1134.70" stroke="#000" stroke-width="4.6"/>
<circle cx="473.00" cy="1113.20" r="9.2" fill="#1fa64a" stroke="#000" stroke-width="4.55"/>
<line x1="688.20" y1="817.80" x2="688.20" y2="885.00" stroke="#000" stroke-width="4.4"/>
<line x1="681.75" y1="820.10" x2="694.65" y2="820.10" stroke="#000" stroke-width="4.6"/>
<line x1="681.75" y1="882.70" x2="694.65" y2="882.70" stroke="#000" stroke-width="4.6"/>
<circle cx="688.20" cy="854.80" r="9.2" fill="#fdb913" stroke="#000" stroke-width="4.55"/>
</g>
<g id="panelD">
<text class="b" font-size="55.20" transform="translate(833.09,769.10) scale(0.9967,1)">D</text>
<line x1="974.80" y1="765.10" x2="974.80" y2="1290.60" stroke="#000" stroke-width="4.7"/>
<line x1="974.80" y1="767.80" x2="984.60" y2="767.80" stroke="#000" stroke-width="4.7"/>
<line x1="974.80" y1="941.40" x2="984.60" y2="941.40" stroke="#000" stroke-width="4.7"/>
<line x1="974.80" y1="1115.00" x2="984.60" y2="1115.00" stroke="#000" stroke-width="4.7"/>
<line x1="974.80" y1="1288.60" x2="984.60" y2="1288.60" stroke="#000" stroke-width="4.7"/>
<line x1="976.80" y1="1308.60" x2="1520.70" y2="1308.60" stroke="#000" stroke-width="5.0"/>
<text font-size="43.50" transform="translate(910.15,783.30) scale(0.9892,1)">20</text>
<text font-size="43.50" transform="translate(910.28,956.00) scale(0.9865,1)">15</text>
<text font-size="43.50" transform="translate(911.87,1129.50) scale(0.9587,1)">10</text>
<text font-size="43.50" transform="translate(934.29,1302.60) scale(0.9244,1)">5</text>
<text font-size="42.50" transform="translate(1056.10,1364.20) scale(0.8000,1)">1</text>
<text font-size="42.50" transform="translate(1236.60,1364.20) scale(1.0343,1)">2</text>
<text font-size="42.50" transform="translate(1418.36,1364.00) scale(0.9015,1)">3</text>
<text font-size="45.50" transform="translate(1113.23,1427.00) scale(0.9997,1)">Configuration</text>
<text font-size="46.00" transform="translate(882.30,1079.04) rotate(-90) scale(0.7942,1)">SNR</text>
<text font-size="43.30" transform="translate(882.30,998.27) rotate(-90) scale(0.9865,1)">(a.u.)</text>
<text font-size="25.80" transform="translate(898.30,1163.46) rotate(-90) scale(0.9978,1)">voltage</text>
<line x1="1068.90" y1="755.90" x2="1429.40" y2="755.90" stroke="#000" stroke-width="2.2"/>
<line x1="1068.90" y1="748.40" x2="1068.90" y2="763.60" stroke="#000" stroke-width="2.6"/>
<line x1="1429.40" y1="748.40" x2="1429.40" y2="763.60" stroke="#000" stroke-width="2.6"/>
<line x1="1068.90" y1="798.80" x2="1237.20" y2="798.80" stroke="#000" stroke-width="2.2"/>
<line x1="1068.90" y1="791.30" x2="1068.90" y2="806.50" stroke="#000" stroke-width="2.6"/>
<line x1="1237.20" y1="791.30" x2="1237.20" y2="806.50" stroke="#000" stroke-width="2.6"/>
<line x1="1258.00" y1="798.80" x2="1429.40" y2="798.80" stroke="#000" stroke-width="2.2"/>
<line x1="1258.00" y1="791.30" x2="1258.00" y2="806.50" stroke="#000" stroke-width="2.6"/>
<line x1="1429.40" y1="791.30" x2="1429.40" y2="806.50" stroke="#000" stroke-width="2.6"/>
<text class="dj" font-size="29.01" transform="translate(1233.60,742.30) rotate(90) scale(0.9949,1) translate(-7.25,14.94)">*</text>
<text class="dj" font-size="29.01" transform="translate(1248.60,742.30) rotate(90) scale(0.9949,1) translate(-7.25,14.94)">*</text>
<text class="dj" font-size="29.01" transform="translate(1263.50,742.30) rotate(90) scale(0.9949,1) translate(-7.25,14.94)">*</text>
<text class="dj" font-size="29.01" transform="translate(1149.90,780.30) rotate(90) scale(0.9949,1) translate(-7.25,14.94)">*</text>
<text class="dj" font-size="29.01" transform="translate(1165.30,780.30) rotate(90) scale(0.9949,1) translate(-7.25,14.94)">*</text>
<text font-size="33.00" transform="translate(1313.25,792.00) scale(1.0101,1)">n.s.</text>
<polyline fill="none" stroke="#000" stroke-width="4.8" stroke-dasharray="14.5 8.7" points="1067.30,1125.30 1248.70,1023.20 1429.50,969.30"/>
<line x1="1067.30" y1="1091.20" x2="1067.30" y2="1160.00" stroke="#000" stroke-width="4.4"/>
<line x1="1060.65" y1="1093.50" x2="1073.95" y2="1093.50" stroke="#000" stroke-width="4.6"/>
<line x1="1060.65" y1="1157.70" x2="1073.95" y2="1157.70" stroke="#000" stroke-width="4.6"/>
<circle cx="1067.30" cy="1125.30" r="9.2" fill="#2a6ebb" stroke="#000" stroke-width="4.55"/>
<line x1="1248.70" y1="992.00" x2="1248.70" y2="1054.70" stroke="#000" stroke-width="4.4"/>
<line x1="1242.05" y1="994.30" x2="1255.35" y2="994.30" stroke="#000" stroke-width="4.6"/>
<line x1="1242.05" y1="1052.40" x2="1255.35" y2="1052.40" stroke="#000" stroke-width="4.6"/>
<circle cx="1248.70" cy="1023.20" r="9.2" fill="#1fa64a" stroke="#000" stroke-width="4.55"/>
<line x1="1429.50" y1="928.00" x2="1429.50" y2="1009.30" stroke="#000" stroke-width="4.4"/>
<line x1="1422.85" y1="930.30" x2="1436.15" y2="930.30" stroke="#000" stroke-width="4.6"/>
<line x1="1422.85" y1="1007.00" x2="1436.15" y2="1007.00" stroke="#000" stroke-width="4.6"/>
<circle cx="1429.50" cy="969.30" r="9.2" fill="#fdb913" stroke="#000" stroke-width="4.55"/>
</g>
</svg>
</body>
</html>
